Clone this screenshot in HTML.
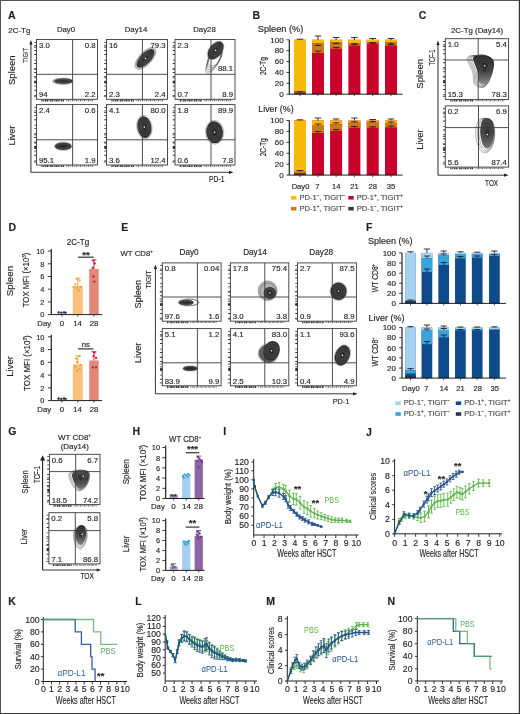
<!DOCTYPE html><html><head><meta charset="utf-8"><style>html,body{margin:0;padding:0;background:#fff;}svg{display:block;will-change:transform;}text{font-family:"Liberation Sans", sans-serif;}</style></head><body><svg width="520" height="714" viewBox="0 0 520 714"><rect x="0" y="0" width="520" height="714" fill="#fff"/><defs><linearGradient id="gv" x1="0" y1="0" x2="0" y2="1"><stop offset="0" stop-color="#222"/><stop offset="0.5" stop-color="#333"/><stop offset="1" stop-color="#999"/></linearGradient><linearGradient id="gv2" x1="0" y1="0" x2="0" y2="1"><stop offset="0" stop-color="#444"/><stop offset="0.45" stop-color="#2e2e2e"/><stop offset="1" stop-color="#777"/></linearGradient></defs><text x="7.9" y="18.9" font-size="10.5" text-anchor="start" fill="#231f20" font-weight="bold" stroke="#231f20" stroke-width="0.15">A</text><text x="8.3" y="32.6" font-size="7.8" text-anchor="start" fill="#231f20" textLength="22" lengthAdjust="spacingAndGlyphs" stroke="#231f20" stroke-width="0.15">2C-Tg</text><text x="66" y="32.4" font-size="7.8" text-anchor="middle" fill="#231f20" stroke="#231f20" stroke-width="0.15">Day0</text><text x="136" y="32.4" font-size="7.8" text-anchor="middle" fill="#231f20" stroke="#231f20" stroke-width="0.15">Day14</text><text x="204.5" y="32.4" font-size="7.8" text-anchor="middle" fill="#231f20" stroke="#231f20" stroke-width="0.15">Day28</text><text x="15" y="70.2" font-size="9.6" text-anchor="middle" fill="#231f20" textLength="29.5" lengthAdjust="spacingAndGlyphs" transform="rotate(-90 15 70.2)" stroke="#231f20" stroke-width="0.15">Spleen</text><text x="15.3" y="135.6" font-size="9.6" text-anchor="middle" fill="#231f20" textLength="19.6" lengthAdjust="spacingAndGlyphs" transform="rotate(-90 15.3 135.6)" stroke="#231f20" stroke-width="0.15">Liver</text><text x="27.9" y="55.3" font-size="7.6" text-anchor="middle" fill="#231f20" textLength="14.7" lengthAdjust="spacingAndGlyphs" transform="rotate(-90 27.9 55.3)" stroke="#231f20" stroke-width="0.15">TIGIT</text><line x1="30.9" y1="172.3" x2="30.9" y2="44" stroke="#5a5a5a" stroke-width="1.3"/><path d="M29.299999999999997,44.5 L30.9,40 L32.5,44.5 Z" fill="#231f20"/><line x1="30.7" y1="172.3" x2="229" y2="172.3" stroke="#231f20" stroke-width="0.9"/><path d="M229.0,170.70000000000002 L233.5,172.3 L229.0,173.9 Z" fill="#231f20"/><text x="216.7" y="181.7" font-size="8.4" text-anchor="middle" fill="#231f20" textLength="15.4" lengthAdjust="spacingAndGlyphs" stroke="#231f20" stroke-width="0.15">PD-1</text><rect x="36.5" y="39.5" width="61.0" height="59.8" fill="#fff" stroke="#3a3a3a" stroke-width="0.9"/><path d="M35.30,41.89 V97.51" stroke="#333" stroke-width="2.1" stroke-dasharray="0.8,2.6,0.9,3.9,0.8,3.2,1,4.6"/><line x1="33.9" y1="47.274" x2="36.5" y2="47.274" stroke="#333" stroke-width="0.8"/><line x1="33.9" y1="69.4" x2="36.5" y2="69.4" stroke="#333" stroke-width="0.8"/><line x1="33.9" y1="76.576" x2="36.5" y2="76.576" stroke="#333" stroke-width="0.8"/><line x1="33.9" y1="96.31" x2="36.5" y2="96.31" stroke="#333" stroke-width="0.8"/><rect x="34.3" y="80.762" width="2.2" height="2.6" fill="#2a2a2a"/><path d="M41.38,100.50 H63.95" stroke="#333" stroke-width="1.8" stroke-dasharray="1.2,0.6,0.7,0.8,1.6,0.5"/><path d="M65.78,100.40 H93.23" stroke="#444" stroke-width="1.5" stroke-dasharray="0.7,1.3,1.1,0.9"/><g transform="translate(62.8 81.2) rotate(0)"><ellipse cx="0" cy="0" rx="10.6" ry="3.5" fill="#9a9a9a"/></g><g transform="translate(63.6 81.2) rotate(0)"><ellipse cx="0" cy="0" rx="8.8" ry="2.6" fill="#2c2c2c"/><ellipse cx="0" cy="0" rx="7.04" ry="2.08" fill="none" stroke="#6a6a6a" stroke-width="0.45"/><ellipse cx="0" cy="0" rx="5.28" ry="1.56" fill="none" stroke="#6a6a6a" stroke-width="0.45"/></g><line x1="72.6" y1="39.5" x2="72.6" y2="99.3" stroke="#3a3a3a" stroke-width="0.9"/><line x1="36.5" y1="74.3" x2="97.5" y2="74.3" stroke="#3a3a3a" stroke-width="0.9"/><text x="38.9" y="47.8" font-size="7.8" text-anchor="start" fill="#231f20" stroke="#231f20" stroke-width="0.15">3.0</text><text x="95.7" y="47.8" font-size="7.8" text-anchor="end" fill="#231f20" stroke="#231f20" stroke-width="0.15">0.8</text><text x="38.9" y="97.2" font-size="7.8" text-anchor="start" fill="#231f20" stroke="#231f20" stroke-width="0.15">94</text><text x="95.7" y="97.2" font-size="7.8" text-anchor="end" fill="#231f20" stroke="#231f20" stroke-width="0.15">2.2</text><rect x="106.5" y="39.5" width="61.0" height="59.8" fill="#fff" stroke="#3a3a3a" stroke-width="0.9"/><path d="M105.30,41.89 V97.51" stroke="#333" stroke-width="2.1" stroke-dasharray="0.8,2.6,0.9,3.9,0.8,3.2,1,4.6"/><line x1="103.9" y1="47.274" x2="106.5" y2="47.274" stroke="#333" stroke-width="0.8"/><line x1="103.9" y1="69.4" x2="106.5" y2="69.4" stroke="#333" stroke-width="0.8"/><line x1="103.9" y1="76.576" x2="106.5" y2="76.576" stroke="#333" stroke-width="0.8"/><line x1="103.9" y1="96.31" x2="106.5" y2="96.31" stroke="#333" stroke-width="0.8"/><rect x="104.3" y="80.762" width="2.2" height="2.6" fill="#2a2a2a"/><path d="M111.38,100.50 H133.95" stroke="#333" stroke-width="1.8" stroke-dasharray="1.2,0.6,0.7,0.8,1.6,0.5"/><path d="M135.78,100.40 H163.23" stroke="#444" stroke-width="1.5" stroke-dasharray="0.7,1.3,1.1,0.9"/><g transform="translate(145.5 58.4) rotate(-47)"><ellipse cx="0" cy="0" rx="13.92" ry="6.37" fill="none" stroke="#4a4a4a" stroke-width="0.5" opacity="0.75"/><ellipse cx="0" cy="0" rx="12.86" ry="5.89" fill="none" stroke="#4a4a4a" stroke-width="0.5" opacity="0.75"/><ellipse cx="0" cy="0" rx="11.8" ry="5.4" fill="#2c2c2c"/><ellipse cx="0" cy="0" rx="9.44" ry="4.32" fill="none" stroke="#6a6a6a" stroke-width="0.45"/><ellipse cx="0" cy="0" rx="7.08" ry="3.24" fill="none" stroke="#6a6a6a" stroke-width="0.45"/><ellipse cx="0" cy="0" rx="4.72" ry="2.16" fill="none" stroke="#6a6a6a" stroke-width="0.45"/><circle cx="0" cy="0" r="0.75" fill="#fff"/></g><line x1="142.4" y1="39.5" x2="142.4" y2="99.3" stroke="#3a3a3a" stroke-width="0.9"/><line x1="106.5" y1="74.3" x2="167.5" y2="74.3" stroke="#3a3a3a" stroke-width="0.9"/><text x="108.9" y="47.8" font-size="7.8" text-anchor="start" fill="#231f20" stroke="#231f20" stroke-width="0.15">16</text><text x="165.7" y="47.8" font-size="7.8" text-anchor="end" fill="#231f20" stroke="#231f20" stroke-width="0.15">79.3</text><text x="108.9" y="97.2" font-size="7.8" text-anchor="start" fill="#231f20" stroke="#231f20" stroke-width="0.15">2.3</text><text x="165.7" y="97.2" font-size="7.8" text-anchor="end" fill="#231f20" stroke="#231f20" stroke-width="0.15">2.4</text><rect x="175" y="39.5" width="60" height="59.8" fill="#fff" stroke="#3a3a3a" stroke-width="0.9"/><path d="M173.80,41.89 V97.51" stroke="#333" stroke-width="2.1" stroke-dasharray="0.8,2.6,0.9,3.9,0.8,3.2,1,4.6"/><line x1="172.4" y1="47.274" x2="175" y2="47.274" stroke="#333" stroke-width="0.8"/><line x1="172.4" y1="69.4" x2="175" y2="69.4" stroke="#333" stroke-width="0.8"/><line x1="172.4" y1="76.576" x2="175" y2="76.576" stroke="#333" stroke-width="0.8"/><line x1="172.4" y1="96.31" x2="175" y2="96.31" stroke="#333" stroke-width="0.8"/><rect x="172.8" y="80.762" width="2.2" height="2.6" fill="#2a2a2a"/><path d="M179.80,100.50 H202.00" stroke="#333" stroke-width="1.8" stroke-dasharray="1.2,0.6,0.7,0.8,1.6,0.5"/><path d="M203.80,100.40 H230.80" stroke="#444" stroke-width="1.5" stroke-dasharray="0.7,1.3,1.1,0.9"/><ellipse cx="215.2" cy="56.5" rx="5.8" ry="10.6" transform="rotate(30 215.2 56.5)" fill="none" stroke="#444" stroke-width="0.5" opacity="0.8"/><ellipse cx="214.7" cy="57.9" rx="5.5" ry="11.15" transform="rotate(30 214.7 57.9)" fill="none" stroke="#444" stroke-width="0.5" opacity="0.8"/><ellipse cx="214.2" cy="59.3" rx="5.2" ry="11.7" transform="rotate(30 214.2 59.3)" fill="none" stroke="#444" stroke-width="0.5" opacity="0.8"/><ellipse cx="213.7" cy="60.7" rx="4.9" ry="12.25" transform="rotate(30 213.7 60.7)" fill="none" stroke="#444" stroke-width="0.5" opacity="0.8"/><ellipse cx="213.2" cy="62.1" rx="4.6" ry="12.8" transform="rotate(30 213.2 62.1)" fill="none" stroke="#444" stroke-width="0.5" opacity="0.8"/><g transform="translate(215.6 50.4) rotate(38)"><ellipse cx="0" cy="0" rx="6.48" ry="10.45" fill="none" stroke="#4a4a4a" stroke-width="0.5" opacity="0.75"/><ellipse cx="0" cy="0" rx="6.2" ry="10.0" fill="#2c2c2c"/><ellipse cx="0" cy="0" rx="4.96" ry="8.00" fill="none" stroke="#6a6a6a" stroke-width="0.45"/><ellipse cx="0" cy="0" rx="3.72" ry="6.00" fill="none" stroke="#6a6a6a" stroke-width="0.45"/><ellipse cx="0" cy="0" rx="2.48" ry="4.00" fill="none" stroke="#6a6a6a" stroke-width="0.45"/><circle cx="0" cy="0" r="0.75" fill="#fff"/></g><line x1="211" y1="39.5" x2="211" y2="99.3" stroke="#3a3a3a" stroke-width="0.9"/><line x1="175" y1="74.3" x2="235" y2="74.3" stroke="#3a3a3a" stroke-width="0.9"/><text x="177.4" y="47.8" font-size="7.8" text-anchor="start" fill="#231f20" stroke="#231f20" stroke-width="0.15">2.3</text><text x="233.2" y="71" font-size="7.8" text-anchor="end" fill="#231f20" stroke="#231f20" stroke-width="0.15">88.1</text><text x="177.4" y="97.2" font-size="7.8" text-anchor="start" fill="#231f20" stroke="#231f20" stroke-width="0.15">0.7</text><text x="233.2" y="97.2" font-size="7.8" text-anchor="end" fill="#231f20" stroke="#231f20" stroke-width="0.15">8.9</text><rect x="36.5" y="104.6" width="61.0" height="60.400000000000006" fill="#fff" stroke="#3a3a3a" stroke-width="0.9"/><path d="M35.30,107.02 V163.19" stroke="#333" stroke-width="2.1" stroke-dasharray="0.8,2.6,0.9,3.9,0.8,3.2,1,4.6"/><line x1="33.9" y1="112.452" x2="36.5" y2="112.452" stroke="#333" stroke-width="0.8"/><line x1="33.9" y1="134.8" x2="36.5" y2="134.8" stroke="#333" stroke-width="0.8"/><line x1="33.9" y1="142.048" x2="36.5" y2="142.048" stroke="#333" stroke-width="0.8"/><line x1="33.9" y1="161.98" x2="36.5" y2="161.98" stroke="#333" stroke-width="0.8"/><rect x="34.3" y="146.276" width="2.2" height="2.6" fill="#2a2a2a"/><path d="M41.38,166.20 H63.95" stroke="#333" stroke-width="1.8" stroke-dasharray="1.2,0.6,0.7,0.8,1.6,0.5"/><path d="M65.78,166.10 H93.23" stroke="#444" stroke-width="1.5" stroke-dasharray="0.7,1.3,1.1,0.9"/><g transform="translate(63.2 146.2) rotate(0)"><ellipse cx="0" cy="0" rx="8.94" ry="4.14" fill="none" stroke="#4a4a4a" stroke-width="0.5" opacity="0.75"/><ellipse cx="0" cy="0" rx="8.2" ry="3.8" fill="#2c2c2c"/><ellipse cx="0" cy="0" rx="6.56" ry="3.04" fill="none" stroke="#6a6a6a" stroke-width="0.45"/><ellipse cx="0" cy="0" rx="4.92" ry="2.28" fill="none" stroke="#6a6a6a" stroke-width="0.45"/></g><line x1="72.6" y1="104.6" x2="72.6" y2="165" stroke="#3a3a3a" stroke-width="0.9"/><line x1="36.5" y1="139.8" x2="97.5" y2="139.8" stroke="#3a3a3a" stroke-width="0.9"/><text x="38.9" y="112.89999999999999" font-size="7.8" text-anchor="start" fill="#231f20" stroke="#231f20" stroke-width="0.15">2.4</text><text x="95.7" y="112.89999999999999" font-size="7.8" text-anchor="end" fill="#231f20" stroke="#231f20" stroke-width="0.15">0.6</text><text x="38.9" y="162.9" font-size="7.8" text-anchor="start" fill="#231f20" stroke="#231f20" stroke-width="0.15">95.1</text><text x="95.7" y="162.9" font-size="7.8" text-anchor="end" fill="#231f20" stroke="#231f20" stroke-width="0.15">1.9</text><rect x="106.5" y="104.6" width="61.0" height="60.400000000000006" fill="#fff" stroke="#3a3a3a" stroke-width="0.9"/><path d="M105.30,107.02 V163.19" stroke="#333" stroke-width="2.1" stroke-dasharray="0.8,2.6,0.9,3.9,0.8,3.2,1,4.6"/><line x1="103.9" y1="112.452" x2="106.5" y2="112.452" stroke="#333" stroke-width="0.8"/><line x1="103.9" y1="134.8" x2="106.5" y2="134.8" stroke="#333" stroke-width="0.8"/><line x1="103.9" y1="142.048" x2="106.5" y2="142.048" stroke="#333" stroke-width="0.8"/><line x1="103.9" y1="161.98" x2="106.5" y2="161.98" stroke="#333" stroke-width="0.8"/><rect x="104.3" y="146.276" width="2.2" height="2.6" fill="#2a2a2a"/><path d="M111.38,166.20 H133.95" stroke="#333" stroke-width="1.8" stroke-dasharray="1.2,0.6,0.7,0.8,1.6,0.5"/><path d="M135.78,166.10 H163.23" stroke="#444" stroke-width="1.5" stroke-dasharray="0.7,1.3,1.1,0.9"/><g transform="translate(144.4 127.1) rotate(-8)"><ellipse cx="0" cy="0" rx="7.63" ry="11.99" fill="none" stroke="#4a4a4a" stroke-width="0.5" opacity="0.75"/><ellipse cx="0" cy="0" rx="7" ry="11" fill="#2c2c2c"/><ellipse cx="0" cy="0" rx="5.60" ry="8.80" fill="none" stroke="#6a6a6a" stroke-width="0.45"/><ellipse cx="0" cy="0" rx="4.20" ry="6.60" fill="none" stroke="#6a6a6a" stroke-width="0.45"/><ellipse cx="0" cy="0" rx="2.80" ry="4.40" fill="none" stroke="#6a6a6a" stroke-width="0.45"/><circle cx="0" cy="0" r="0.75" fill="#fff"/></g><line x1="142.4" y1="104.6" x2="142.4" y2="165" stroke="#3a3a3a" stroke-width="0.9"/><line x1="106.5" y1="139.8" x2="167.5" y2="139.8" stroke="#3a3a3a" stroke-width="0.9"/><text x="108.9" y="112.89999999999999" font-size="7.8" text-anchor="start" fill="#231f20" stroke="#231f20" stroke-width="0.15">4.1</text><text x="165.7" y="112.89999999999999" font-size="7.8" text-anchor="end" fill="#231f20" stroke="#231f20" stroke-width="0.15">80.0</text><text x="108.9" y="162.9" font-size="7.8" text-anchor="start" fill="#231f20" stroke="#231f20" stroke-width="0.15">3.6</text><text x="165.7" y="162.9" font-size="7.8" text-anchor="end" fill="#231f20" stroke="#231f20" stroke-width="0.15">12.4</text><rect x="175" y="104.6" width="60" height="60.400000000000006" fill="#fff" stroke="#3a3a3a" stroke-width="0.9"/><path d="M173.80,107.02 V163.19" stroke="#333" stroke-width="2.1" stroke-dasharray="0.8,2.6,0.9,3.9,0.8,3.2,1,4.6"/><line x1="172.4" y1="112.452" x2="175" y2="112.452" stroke="#333" stroke-width="0.8"/><line x1="172.4" y1="134.8" x2="175" y2="134.8" stroke="#333" stroke-width="0.8"/><line x1="172.4" y1="142.048" x2="175" y2="142.048" stroke="#333" stroke-width="0.8"/><line x1="172.4" y1="161.98" x2="175" y2="161.98" stroke="#333" stroke-width="0.8"/><rect x="172.8" y="146.276" width="2.2" height="2.6" fill="#2a2a2a"/><path d="M179.80,166.20 H202.00" stroke="#333" stroke-width="1.8" stroke-dasharray="1.2,0.6,0.7,0.8,1.6,0.5"/><path d="M203.80,166.10 H230.80" stroke="#444" stroke-width="1.5" stroke-dasharray="0.7,1.3,1.1,0.9"/><g transform="translate(214.6 132.2) rotate(-5)"><ellipse cx="0" cy="0" rx="9.16" ry="11.99" fill="none" stroke="#4a4a4a" stroke-width="0.5" opacity="0.75"/><ellipse cx="0" cy="0" rx="8.4" ry="11" fill="#2c2c2c"/><ellipse cx="0" cy="0" rx="6.72" ry="8.80" fill="none" stroke="#6a6a6a" stroke-width="0.45"/><ellipse cx="0" cy="0" rx="5.04" ry="6.60" fill="none" stroke="#6a6a6a" stroke-width="0.45"/><ellipse cx="0" cy="0" rx="3.36" ry="4.40" fill="none" stroke="#6a6a6a" stroke-width="0.45"/><circle cx="0" cy="0" r="0.75" fill="#fff"/></g><line x1="211" y1="104.6" x2="211" y2="165" stroke="#3a3a3a" stroke-width="0.9"/><line x1="175" y1="139.8" x2="235" y2="139.8" stroke="#3a3a3a" stroke-width="0.9"/><text x="177.4" y="112.89999999999999" font-size="7.8" text-anchor="start" fill="#231f20" stroke="#231f20" stroke-width="0.15">1.8</text><text x="233.2" y="112.89999999999999" font-size="7.8" text-anchor="end" fill="#231f20" stroke="#231f20" stroke-width="0.15">89.9</text><text x="177.4" y="162.9" font-size="7.8" text-anchor="start" fill="#231f20" stroke="#231f20" stroke-width="0.15">0.6</text><text x="233.2" y="162.9" font-size="7.8" text-anchor="end" fill="#231f20" stroke="#231f20" stroke-width="0.15">7.8</text><text x="252.4" y="18.6" font-size="10.5" text-anchor="start" fill="#231f20" font-weight="bold" stroke="#231f20" stroke-width="0.15">B</text><text x="257.8" y="32.3" font-size="9.3" text-anchor="start" fill="#231f20" textLength="45.5" lengthAdjust="spacingAndGlyphs" stroke="#231f20" stroke-width="0.15">Spleen (%)</text><text x="258.3" y="111.5" font-size="9.3" text-anchor="start" fill="#231f20" textLength="35.3" lengthAdjust="spacingAndGlyphs" stroke="#231f20" stroke-width="0.15">Liver (%)</text><line x1="289.3" y1="39.8" x2="289.3" y2="94.2" stroke="#231f20" stroke-width="1.2"/><line x1="286.5" y1="39.8" x2="289.3" y2="39.8" stroke="#231f20" stroke-width="0.9"/><text x="283.6" y="42.5" font-size="8" text-anchor="end" fill="#231f20" stroke="#231f20" stroke-width="0.15">100</text><line x1="286.5" y1="50.67999999999999" x2="289.3" y2="50.67999999999999" stroke="#231f20" stroke-width="0.9"/><text x="283.6" y="53.379999999999995" font-size="8" text-anchor="end" fill="#231f20" stroke="#231f20" stroke-width="0.15">80</text><line x1="286.5" y1="61.56" x2="289.3" y2="61.56" stroke="#231f20" stroke-width="0.9"/><text x="283.6" y="64.26" font-size="8" text-anchor="end" fill="#231f20" stroke="#231f20" stroke-width="0.15">60</text><line x1="286.5" y1="72.44" x2="289.3" y2="72.44" stroke="#231f20" stroke-width="0.9"/><text x="283.6" y="75.14" font-size="8" text-anchor="end" fill="#231f20" stroke="#231f20" stroke-width="0.15">40</text><line x1="286.5" y1="83.32" x2="289.3" y2="83.32" stroke="#231f20" stroke-width="0.9"/><text x="283.6" y="86.02" font-size="8" text-anchor="end" fill="#231f20" stroke="#231f20" stroke-width="0.15">20</text><line x1="286.5" y1="94.2" x2="289.3" y2="94.2" stroke="#231f20" stroke-width="0.9"/><text x="283.6" y="96.9" font-size="8" text-anchor="end" fill="#231f20" stroke="#231f20" stroke-width="0.15">0</text><rect x="294" y="39.8" width="12" height="54.400000000000006" fill="#c9032a"/><rect x="294" y="39.8" width="12" height="51.60000000000001" fill="#f7ba0a"/><rect x="294" y="91.4" width="12" height="1.4" fill="#c97a1d"/><rect x="294" y="92.8" width="12" height="1.4" fill="#3b3549"/><line x1="300" y1="94.2" x2="300" y2="96.2" stroke="#231f20" stroke-width="0.8"/><rect x="312" y="39.8" width="12" height="54.400000000000006" fill="#c9032a"/><rect x="312" y="39.8" width="12" height="3.700000000000003" fill="#f7ba0a"/><rect x="312" y="43.5" width="12" height="9.5" fill="#c97a1d"/><rect x="312" y="93.0" width="12" height="1.2" fill="#8a1024"/><line x1="318" y1="94.2" x2="318" y2="96.2" stroke="#231f20" stroke-width="0.8"/><rect x="330.1" y="39.8" width="12" height="54.400000000000006" fill="#c9032a"/><rect x="330.1" y="39.8" width="12" height="2.4000000000000057" fill="#f7ba0a"/><rect x="330.1" y="42.2" width="12" height="6.599999999999994" fill="#c97a1d"/><rect x="330.1" y="93.0" width="12" height="1.2" fill="#8a1024"/><line x1="336.1" y1="94.2" x2="336.1" y2="96.2" stroke="#231f20" stroke-width="0.8"/><rect x="348.4" y="39.8" width="12" height="54.400000000000006" fill="#c9032a"/><rect x="348.4" y="39.8" width="12" height="3.200000000000003" fill="#f7ba0a"/><rect x="348.4" y="43" width="12" height="2.6000000000000014" fill="#c97a1d"/><rect x="348.4" y="93.0" width="12" height="1.2" fill="#8a1024"/><line x1="354.4" y1="94.2" x2="354.4" y2="96.2" stroke="#231f20" stroke-width="0.8"/><rect x="366.7" y="39.8" width="12" height="54.400000000000006" fill="#c9032a"/><rect x="366.7" y="39.8" width="12" height="2.4000000000000057" fill="#f7ba0a"/><rect x="366.7" y="42.2" width="12" height="1.3999999999999986" fill="#c97a1d"/><rect x="366.7" y="93.0" width="12" height="1.2" fill="#8a1024"/><line x1="372.7" y1="94.2" x2="372.7" y2="96.2" stroke="#231f20" stroke-width="0.8"/><rect x="385" y="39.8" width="12" height="54.400000000000006" fill="#c9032a"/><rect x="385" y="39.8" width="12" height="2.700000000000003" fill="#f7ba0a"/><rect x="385" y="42.5" width="12" height="3.1000000000000014" fill="#c97a1d"/><rect x="385" y="93.0" width="12" height="1.2" fill="#8a1024"/><line x1="391" y1="94.2" x2="391" y2="96.2" stroke="#231f20" stroke-width="0.8"/><line x1="300" y1="39.8" x2="300" y2="39.2" stroke="#231f20" stroke-width="0.9"/><line x1="296.7" y1="39.2" x2="303.3" y2="39.2" stroke="#231f20" stroke-width="0.9"/><line x1="300" y1="92.5" x2="300" y2="91.8" stroke="#231f20" stroke-width="0.9"/><line x1="296.7" y1="91.8" x2="303.3" y2="91.8" stroke="#231f20" stroke-width="0.9"/><line x1="318" y1="40" x2="318" y2="36" stroke="#231f20" stroke-width="0.9"/><line x1="314.7" y1="36" x2="321.3" y2="36" stroke="#231f20" stroke-width="0.9"/><line x1="318" y1="43.5" x2="318" y2="45.5" stroke="#231f20" stroke-width="0.9"/><line x1="314.7" y1="45.5" x2="321.3" y2="45.5" stroke="#231f20" stroke-width="0.9"/><line x1="318" y1="53" x2="318" y2="51" stroke="#231f20" stroke-width="0.9"/><line x1="314.7" y1="51" x2="321.3" y2="51" stroke="#231f20" stroke-width="0.9"/><line x1="336.1" y1="40" x2="336.1" y2="37.5" stroke="#231f20" stroke-width="0.9"/><line x1="332.8" y1="37.5" x2="339.40000000000003" y2="37.5" stroke="#231f20" stroke-width="0.9"/><line x1="336.1" y1="42.2" x2="336.1" y2="43.5" stroke="#231f20" stroke-width="0.9"/><line x1="332.8" y1="43.5" x2="339.40000000000003" y2="43.5" stroke="#231f20" stroke-width="0.9"/><line x1="336.1" y1="48.8" x2="336.1" y2="47.5" stroke="#231f20" stroke-width="0.9"/><line x1="332.8" y1="47.5" x2="339.40000000000003" y2="47.5" stroke="#231f20" stroke-width="0.9"/><line x1="354.4" y1="40" x2="354.4" y2="37.5" stroke="#231f20" stroke-width="0.9"/><line x1="351.09999999999997" y1="37.5" x2="357.7" y2="37.5" stroke="#231f20" stroke-width="0.9"/><line x1="354.4" y1="43" x2="354.4" y2="44" stroke="#231f20" stroke-width="0.9"/><line x1="351.09999999999997" y1="44" x2="357.7" y2="44" stroke="#231f20" stroke-width="0.9"/><line x1="354.4" y1="45.6" x2="354.4" y2="44.2" stroke="#231f20" stroke-width="0.9"/><line x1="351.09999999999997" y1="44.2" x2="357.7" y2="44.2" stroke="#231f20" stroke-width="0.9"/><line x1="372.7" y1="40" x2="372.7" y2="38.5" stroke="#231f20" stroke-width="0.9"/><line x1="369.4" y1="38.5" x2="376.0" y2="38.5" stroke="#231f20" stroke-width="0.9"/><line x1="372.7" y1="42.2" x2="372.7" y2="43" stroke="#231f20" stroke-width="0.9"/><line x1="369.4" y1="43" x2="376.0" y2="43" stroke="#231f20" stroke-width="0.9"/><line x1="372.7" y1="43.6" x2="372.7" y2="42.6" stroke="#231f20" stroke-width="0.9"/><line x1="369.4" y1="42.6" x2="376.0" y2="42.6" stroke="#231f20" stroke-width="0.9"/><line x1="391" y1="40" x2="391" y2="38.5" stroke="#231f20" stroke-width="0.9"/><line x1="387.7" y1="38.5" x2="394.3" y2="38.5" stroke="#231f20" stroke-width="0.9"/><line x1="391" y1="42.5" x2="391" y2="44" stroke="#231f20" stroke-width="0.9"/><line x1="387.7" y1="44" x2="394.3" y2="44" stroke="#231f20" stroke-width="0.9"/><line x1="391" y1="45.6" x2="391" y2="44.3" stroke="#231f20" stroke-width="0.9"/><line x1="387.7" y1="44.3" x2="394.3" y2="44.3" stroke="#231f20" stroke-width="0.9"/><line x1="289.2" y1="94.2" x2="402.5" y2="94.2" stroke="#231f20" stroke-width="1"/><line x1="289.3" y1="120.5" x2="289.3" y2="175.1" stroke="#231f20" stroke-width="1.2"/><line x1="286.5" y1="120.5" x2="289.3" y2="120.5" stroke="#231f20" stroke-width="0.9"/><text x="283.6" y="123.2" font-size="8" text-anchor="end" fill="#231f20" stroke="#231f20" stroke-width="0.15">100</text><line x1="286.5" y1="131.42" x2="289.3" y2="131.42" stroke="#231f20" stroke-width="0.9"/><text x="283.6" y="134.11999999999998" font-size="8" text-anchor="end" fill="#231f20" stroke="#231f20" stroke-width="0.15">80</text><line x1="286.5" y1="142.34" x2="289.3" y2="142.34" stroke="#231f20" stroke-width="0.9"/><text x="283.6" y="145.04" font-size="8" text-anchor="end" fill="#231f20" stroke="#231f20" stroke-width="0.15">60</text><line x1="286.5" y1="153.26" x2="289.3" y2="153.26" stroke="#231f20" stroke-width="0.9"/><text x="283.6" y="155.95999999999998" font-size="8" text-anchor="end" fill="#231f20" stroke="#231f20" stroke-width="0.15">40</text><line x1="286.5" y1="164.18" x2="289.3" y2="164.18" stroke="#231f20" stroke-width="0.9"/><text x="283.6" y="166.88" font-size="8" text-anchor="end" fill="#231f20" stroke="#231f20" stroke-width="0.15">20</text><line x1="286.5" y1="175.1" x2="289.3" y2="175.1" stroke="#231f20" stroke-width="0.9"/><text x="283.6" y="177.79999999999998" font-size="8" text-anchor="end" fill="#231f20" stroke="#231f20" stroke-width="0.15">0</text><rect x="294" y="120.5" width="12" height="54.599999999999994" fill="#c9032a"/><rect x="294" y="120.5" width="12" height="51.19999999999999" fill="#f7ba0a"/><rect x="294" y="171.7" width="12" height="1.7" fill="#c97a1d"/><rect x="294" y="173.4" width="12" height="1.7" fill="#3b3549"/><line x1="300" y1="175.1" x2="300" y2="177.1" stroke="#231f20" stroke-width="0.8"/><rect x="312" y="120.5" width="12" height="54.599999999999994" fill="#c9032a"/><rect x="312" y="120.5" width="12" height="5.200000000000003" fill="#f7ba0a"/><rect x="312" y="125.7" width="12" height="7.299999999999997" fill="#c97a1d"/><rect x="312" y="173.9" width="12" height="1.2" fill="#8a1024"/><line x1="318" y1="175.1" x2="318" y2="177.1" stroke="#231f20" stroke-width="0.8"/><rect x="330.1" y="120.5" width="12" height="54.599999999999994" fill="#c9032a"/><rect x="330.1" y="120.5" width="12" height="3.799999999999997" fill="#f7ba0a"/><rect x="330.1" y="124.3" width="12" height="6.500000000000014" fill="#c97a1d"/><rect x="330.1" y="173.9" width="12" height="1.2" fill="#8a1024"/><line x1="336.1" y1="175.1" x2="336.1" y2="177.1" stroke="#231f20" stroke-width="0.8"/><rect x="348.4" y="120.5" width="12" height="54.599999999999994" fill="#c9032a"/><rect x="348.4" y="120.5" width="12" height="2.200000000000003" fill="#f7ba0a"/><rect x="348.4" y="122.7" width="12" height="5.099999999999994" fill="#c97a1d"/><rect x="348.4" y="173.9" width="12" height="1.2" fill="#8a1024"/><line x1="354.4" y1="175.1" x2="354.4" y2="177.1" stroke="#231f20" stroke-width="0.8"/><rect x="366.7" y="120.5" width="12" height="54.599999999999994" fill="#c9032a"/><rect x="366.7" y="120.5" width="12" height="2.0" fill="#f7ba0a"/><rect x="366.7" y="122.5" width="12" height="5.299999999999997" fill="#c97a1d"/><rect x="366.7" y="173.9" width="12" height="1.2" fill="#8a1024"/><line x1="372.7" y1="175.1" x2="372.7" y2="177.1" stroke="#231f20" stroke-width="0.8"/><rect x="385" y="120.5" width="12" height="54.599999999999994" fill="#c9032a"/><rect x="385" y="120.5" width="12" height="3.0" fill="#f7ba0a"/><rect x="385" y="123.5" width="12" height="4.0" fill="#c97a1d"/><rect x="385" y="173.9" width="12" height="1.2" fill="#8a1024"/><line x1="391" y1="175.1" x2="391" y2="177.1" stroke="#231f20" stroke-width="0.8"/><line x1="300" y1="120.5" x2="300" y2="119.8" stroke="#231f20" stroke-width="0.9"/><line x1="296.7" y1="119.8" x2="303.3" y2="119.8" stroke="#231f20" stroke-width="0.9"/><line x1="300" y1="171.5" x2="300" y2="170.5" stroke="#231f20" stroke-width="0.9"/><line x1="296.7" y1="170.5" x2="303.3" y2="170.5" stroke="#231f20" stroke-width="0.9"/><line x1="318" y1="120.5" x2="318" y2="118" stroke="#231f20" stroke-width="0.9"/><line x1="314.7" y1="118" x2="321.3" y2="118" stroke="#231f20" stroke-width="0.9"/><line x1="318" y1="125.7" x2="318" y2="124" stroke="#231f20" stroke-width="0.9"/><line x1="314.7" y1="124" x2="321.3" y2="124" stroke="#231f20" stroke-width="0.9"/><line x1="318" y1="133" x2="318" y2="131.5" stroke="#231f20" stroke-width="0.9"/><line x1="314.7" y1="131.5" x2="321.3" y2="131.5" stroke="#231f20" stroke-width="0.9"/><line x1="336.1" y1="120.5" x2="336.1" y2="119" stroke="#231f20" stroke-width="0.9"/><line x1="332.8" y1="119" x2="339.40000000000003" y2="119" stroke="#231f20" stroke-width="0.9"/><line x1="336.1" y1="124.3" x2="336.1" y2="122.8" stroke="#231f20" stroke-width="0.9"/><line x1="332.8" y1="122.8" x2="339.40000000000003" y2="122.8" stroke="#231f20" stroke-width="0.9"/><line x1="336.1" y1="130.8" x2="336.1" y2="129.5" stroke="#231f20" stroke-width="0.9"/><line x1="332.8" y1="129.5" x2="339.40000000000003" y2="129.5" stroke="#231f20" stroke-width="0.9"/><line x1="354.4" y1="120.5" x2="354.4" y2="118" stroke="#231f20" stroke-width="0.9"/><line x1="351.09999999999997" y1="118" x2="357.7" y2="118" stroke="#231f20" stroke-width="0.9"/><line x1="354.4" y1="122.7" x2="354.4" y2="121.8" stroke="#231f20" stroke-width="0.9"/><line x1="351.09999999999997" y1="121.8" x2="357.7" y2="121.8" stroke="#231f20" stroke-width="0.9"/><line x1="354.4" y1="127.8" x2="354.4" y2="126.5" stroke="#231f20" stroke-width="0.9"/><line x1="351.09999999999997" y1="126.5" x2="357.7" y2="126.5" stroke="#231f20" stroke-width="0.9"/><line x1="372.7" y1="120.5" x2="372.7" y2="119.5" stroke="#231f20" stroke-width="0.9"/><line x1="369.4" y1="119.5" x2="376.0" y2="119.5" stroke="#231f20" stroke-width="0.9"/><line x1="372.7" y1="122.5" x2="372.7" y2="121.5" stroke="#231f20" stroke-width="0.9"/><line x1="369.4" y1="121.5" x2="376.0" y2="121.5" stroke="#231f20" stroke-width="0.9"/><line x1="372.7" y1="127.8" x2="372.7" y2="126.8" stroke="#231f20" stroke-width="0.9"/><line x1="369.4" y1="126.8" x2="376.0" y2="126.8" stroke="#231f20" stroke-width="0.9"/><line x1="391" y1="120.5" x2="391" y2="119" stroke="#231f20" stroke-width="0.9"/><line x1="387.7" y1="119" x2="394.3" y2="119" stroke="#231f20" stroke-width="0.9"/><line x1="391" y1="123.5" x2="391" y2="122" stroke="#231f20" stroke-width="0.9"/><line x1="387.7" y1="122" x2="394.3" y2="122" stroke="#231f20" stroke-width="0.9"/><line x1="391" y1="127.5" x2="391" y2="126" stroke="#231f20" stroke-width="0.9"/><line x1="387.7" y1="126" x2="394.3" y2="126" stroke="#231f20" stroke-width="0.9"/><line x1="289.2" y1="175.1" x2="402.5" y2="175.1" stroke="#231f20" stroke-width="1"/><text x="265.7" y="66.1" font-size="9" text-anchor="middle" fill="#231f20" textLength="18" lengthAdjust="spacingAndGlyphs" transform="rotate(-90 265.7 66.1)" stroke="#231f20" stroke-width="0.15">2C-Tg</text><text x="265.7" y="147.3" font-size="9" text-anchor="middle" fill="#231f20" textLength="18" lengthAdjust="spacingAndGlyphs" transform="rotate(-90 265.7 147.3)" stroke="#231f20" stroke-width="0.15">2C-Tg</text><text x="300.5" y="188.8" font-size="7.6" text-anchor="middle" fill="#231f20" stroke="#231f20" stroke-width="0.15">Day0</text><text x="317.3" y="188.8" font-size="7.6" text-anchor="middle" fill="#231f20" stroke="#231f20" stroke-width="0.15">7</text><text x="336.3" y="188.8" font-size="7.6" text-anchor="middle" fill="#231f20" stroke="#231f20" stroke-width="0.15">14</text><text x="354.5" y="188.8" font-size="7.6" text-anchor="middle" fill="#231f20" stroke="#231f20" stroke-width="0.15">21</text><text x="372.8" y="188.8" font-size="7.6" text-anchor="middle" fill="#231f20" stroke="#231f20" stroke-width="0.15">28</text><text x="391" y="188.8" font-size="7.6" text-anchor="middle" fill="#231f20" stroke="#231f20" stroke-width="0.15">35</text><rect x="291" y="196.0" width="5.4" height="3.6" fill="#f7ba0a"/><text x="299.4" y="199.6" font-size="7.6" fill="#4a4a4a" stroke="#4a4a4a" stroke-width="0.15">PD-1<tspan font-size="4.5" dy="-2.8">−</tspan><tspan dy="2.8">, TIGIT</tspan><tspan font-size="4.5" dy="-2.8">−</tspan></text><rect x="348.3" y="196.0" width="5.4" height="3.6" fill="#c9032a"/><text x="356.7" y="199.6" font-size="7.6" fill="#4a4a4a" stroke="#4a4a4a" stroke-width="0.15">PD-1<tspan font-size="4.5" dy="-2.8">+</tspan><tspan dy="2.8">, TIGIT</tspan><tspan font-size="4.5" dy="-2.8">+</tspan></text><rect x="291" y="206.9" width="5.4" height="3.6" fill="#c97a1d"/><text x="299.4" y="210.5" font-size="7.6" fill="#4a4a4a" stroke="#4a4a4a" stroke-width="0.15">PD-1<tspan font-size="4.5" dy="-2.8">+</tspan><tspan dy="2.8">, TIGIT</tspan><tspan font-size="4.5" dy="-2.8">−</tspan></text><rect x="348.3" y="206.9" width="5.4" height="3.6" fill="#3b3549"/><text x="356.7" y="210.5" font-size="7.6" fill="#4a4a4a" stroke="#4a4a4a" stroke-width="0.15">PD-1<tspan font-size="4.5" dy="-2.8">−</tspan><tspan dy="2.8">, TIGIT</tspan><tspan font-size="4.5" dy="-2.8">+</tspan></text><text x="418.8" y="18.9" font-size="10.5" text-anchor="start" fill="#231f20" font-weight="bold" stroke="#231f20" stroke-width="0.15">C</text><text x="477" y="32.6" font-size="8" text-anchor="middle" fill="#231f20" textLength="52" lengthAdjust="spacingAndGlyphs" stroke="#231f20" stroke-width="0.15">2C-Tg (Day14)</text><line x1="438" y1="175.2" x2="438" y2="44.5" stroke="#5a5a5a" stroke-width="1.3"/><path d="M436.4,45.0 L438,40.5 L439.6,45.0 Z" fill="#231f20"/><line x1="438" y1="175.2" x2="505" y2="175.2" stroke="#231f20" stroke-width="0.9"/><path d="M504.0,173.6 L508.5,175.2 L504.0,176.79999999999998 Z" fill="#231f20"/><text x="491.6" y="185.8" font-size="9.5" text-anchor="middle" fill="#231f20" textLength="13" lengthAdjust="spacingAndGlyphs" stroke="#231f20" stroke-width="0.15">TOX</text><text x="434.6" y="57.5" font-size="9" text-anchor="middle" fill="#231f20" textLength="16" lengthAdjust="spacingAndGlyphs" transform="rotate(-90 434.6 57.5)" stroke="#231f20" stroke-width="0.15">TCF-1</text><text x="423.3" y="73.8" font-size="9.6" text-anchor="middle" fill="#231f20" textLength="29.9" lengthAdjust="spacingAndGlyphs" transform="rotate(-90 423.3 73.8)" stroke="#231f20" stroke-width="0.15">Spleen</text><text x="422.8" y="139.5" font-size="9.6" text-anchor="middle" fill="#231f20" textLength="20.5" lengthAdjust="spacingAndGlyphs" transform="rotate(-90 422.8 139.5)" stroke="#231f20" stroke-width="0.15">Liver</text><rect x="445.3" y="38.7" width="63.30000000000001" height="60.7" fill="#fff" stroke="#3a3a3a" stroke-width="0.9"/><path d="M444.10,41.13 V97.58" stroke="#333" stroke-width="2.1" stroke-dasharray="0.8,2.6,0.9,3.9,0.8,3.2,1,4.6"/><line x1="442.7" y1="46.591" x2="445.3" y2="46.591" stroke="#333" stroke-width="0.8"/><line x1="442.7" y1="69.05000000000001" x2="445.3" y2="69.05000000000001" stroke="#333" stroke-width="0.8"/><line x1="442.7" y1="76.334" x2="445.3" y2="76.334" stroke="#333" stroke-width="0.8"/><line x1="442.7" y1="96.36500000000001" x2="445.3" y2="96.36500000000001" stroke="#333" stroke-width="0.8"/><rect x="443.1" y="80.583" width="2.2" height="2.6" fill="#2a2a2a"/><path d="M450.36,100.60 H473.79" stroke="#333" stroke-width="1.8" stroke-dasharray="1.2,0.6,0.7,0.8,1.6,0.5"/><path d="M475.68,100.50 H504.17" stroke="#444" stroke-width="1.5" stroke-dasharray="0.7,1.3,1.1,0.9"/><path d="M471.71,57.94 C472.18,55.30 476.55,55.85 479.02,55.49 C481.50,55.13 484.17,54.81 486.55,55.80 C488.93,56.78 492.57,58.11 493.32,61.41 C494.07,64.70 492.43,71.57 491.06,75.58 C489.70,79.60 487.37,84.32 485.15,85.48 C482.93,86.63 479.22,84.88 477.74,82.52 C476.25,80.16 477.23,75.40 476.23,71.30 C475.23,67.20 471.25,60.57 471.71,57.94 Z" fill="none" stroke="#333" stroke-width="0.5" opacity="0.75"/><path d="M470.23,57.98 C470.73,55.29 475.41,55.84 478.05,55.48 C480.69,55.12 483.55,54.79 486.10,55.79 C488.65,56.80 492.54,58.15 493.35,61.51 C494.15,64.87 492.39,71.88 490.93,75.97 C489.47,80.06 486.98,84.88 484.60,86.06 C482.23,87.23 478.26,85.45 476.67,83.04 C475.08,80.63 476.13,75.78 475.06,71.60 C473.99,67.42 469.73,60.66 470.23,57.98 Z" fill="none" stroke="#333" stroke-width="0.5" opacity="0.75"/><path d="M468.75,58.01 C469.28,55.28 474.26,55.84 477.07,55.47 C479.89,55.10 482.93,54.76 485.65,55.79 C488.37,56.81 492.51,58.19 493.37,61.62 C494.23,65.05 492.35,72.18 490.79,76.35 C489.24,80.52 486.59,85.43 484.06,86.63 C481.53,87.84 477.30,86.02 475.61,83.56 C473.91,81.10 475.03,76.16 473.89,71.90 C472.75,67.64 468.21,60.75 468.75,58.01 Z" fill="none" stroke="#333" stroke-width="0.5" opacity="0.75"/><path d="M467.26,58.05 C467.82,55.26 473.11,55.84 476.10,55.46 C479.09,55.08 482.32,54.74 485.20,55.78 C488.08,56.83 492.48,58.23 493.39,61.72 C494.30,65.22 492.31,72.49 490.66,76.74 C489.01,80.98 486.20,85.99 483.51,87.21 C480.82,88.44 476.34,86.58 474.54,84.08 C472.74,81.58 473.93,76.54 472.72,72.20 C471.51,67.86 466.70,60.84 467.26,58.05 Z" fill="none" stroke="#333" stroke-width="0.5" opacity="0.75"/><path d="M473.20,57.90 C473.63,55.32 477.70,55.85 480.00,55.50 C482.30,55.15 484.78,54.83 487.00,55.80 C489.22,56.77 492.60,58.07 493.30,61.30 C494.00,64.53 492.47,71.27 491.20,75.20 C489.93,79.13 487.77,83.77 485.70,84.90 C483.63,86.03 480.18,84.32 478.80,82.00 C477.42,79.68 478.33,75.02 477.40,71.00 C476.47,66.98 472.77,60.48 473.20,57.90 Z" fill="url(#gv)"/><path d="M475.56,59.52 C475.91,57.45 479.16,57.88 481.00,57.60 C482.84,57.32 484.83,57.07 486.60,57.84 C488.37,58.61 491.08,59.65 491.64,62.24 C492.20,64.83 490.97,70.21 489.96,73.36 C488.95,76.51 487.21,80.21 485.56,81.12 C483.91,82.03 481.15,80.65 480.04,78.80 C478.93,76.95 479.67,73.21 478.92,70.00 C478.17,66.79 475.21,61.59 475.56,59.52 Z" fill="none" stroke="#6a6a6a" stroke-width="0.5"/><path d="M477.92,61.14 C478.18,59.59 480.62,59.91 482.00,59.70 C483.38,59.49 484.87,59.30 486.20,59.88 C487.53,60.46 489.56,61.24 489.98,63.18 C490.40,65.12 489.48,69.16 488.72,71.52 C487.96,73.88 486.66,76.66 485.42,77.34 C484.18,78.02 482.11,76.99 481.28,75.60 C480.45,74.21 481.00,71.41 480.44,69.00 C479.88,66.59 477.66,62.69 477.92,61.14 Z" fill="none" stroke="#6a6a6a" stroke-width="0.5"/><path d="M480.28,62.76 C480.45,61.73 482.08,61.94 483.00,61.80 C483.92,61.66 484.91,61.53 485.80,61.92 C486.69,62.31 488.04,62.83 488.32,64.12 C488.60,65.41 487.99,68.11 487.48,69.68 C486.97,71.25 486.11,73.11 485.28,73.56 C484.45,74.01 483.07,73.33 482.52,72.40 C481.97,71.47 482.33,69.61 481.96,68.00 C481.59,66.39 480.11,63.79 480.28,62.76 Z" fill="none" stroke="#6a6a6a" stroke-width="0.5"/><circle cx="484.6" cy="65.7" r="0.75" fill="#fff"/><line x1="478.2" y1="38.7" x2="478.2" y2="99.4" stroke="#3a3a3a" stroke-width="0.9"/><line x1="445.3" y1="60" x2="508.6" y2="60" stroke="#3a3a3a" stroke-width="0.9"/><text x="447.7" y="47.0" font-size="7.8" text-anchor="start" fill="#231f20" stroke="#231f20" stroke-width="0.15">1.0</text><text x="506.8" y="47.0" font-size="7.8" text-anchor="end" fill="#231f20" stroke="#231f20" stroke-width="0.15">5.4</text><text x="447.7" y="97.30000000000001" font-size="7.8" text-anchor="start" fill="#231f20" stroke="#231f20" stroke-width="0.15">15.3</text><text x="506.8" y="97.30000000000001" font-size="7.8" text-anchor="end" fill="#231f20" stroke="#231f20" stroke-width="0.15">78.3</text><rect x="445.3" y="105.9" width="63.30000000000001" height="61.19999999999999" fill="#fff" stroke="#3a3a3a" stroke-width="0.9"/><path d="M444.10,108.35 V165.26" stroke="#333" stroke-width="2.1" stroke-dasharray="0.8,2.6,0.9,3.9,0.8,3.2,1,4.6"/><line x1="442.7" y1="113.85600000000001" x2="445.3" y2="113.85600000000001" stroke="#333" stroke-width="0.8"/><line x1="442.7" y1="136.5" x2="445.3" y2="136.5" stroke="#333" stroke-width="0.8"/><line x1="442.7" y1="143.844" x2="445.3" y2="143.844" stroke="#333" stroke-width="0.8"/><line x1="442.7" y1="164.04" x2="445.3" y2="164.04" stroke="#333" stroke-width="0.8"/><rect x="443.1" y="148.128" width="2.2" height="2.6" fill="#2a2a2a"/><path d="M450.36,168.30 H473.79" stroke="#333" stroke-width="1.8" stroke-dasharray="1.2,0.6,0.7,0.8,1.6,0.5"/><path d="M475.68,168.20 H504.17" stroke="#444" stroke-width="1.5" stroke-dasharray="0.7,1.3,1.1,0.9"/><path d="M480.80,121.05 C482.05,118.51 484.53,118.42 486.40,118.42 C488.27,118.42 490.69,118.86 492.00,121.05 C493.31,123.24 494.15,127.88 494.24,131.55 C494.33,135.23 493.68,140.04 492.56,143.10 C491.44,146.16 489.29,149.40 487.52,149.93 C485.75,150.45 483.36,148.96 481.92,146.25 C480.48,143.54 479.08,137.85 478.90,133.65 C478.71,129.45 479.55,123.59 480.80,121.05 Z" fill="none" stroke="#333" stroke-width="0.5" opacity="0.7"/><path d="M479.50,121.10 C480.90,118.44 483.67,118.35 485.75,118.35 C487.83,118.35 490.54,118.81 492.00,121.10 C493.46,123.39 494.40,128.25 494.50,132.10 C494.60,135.95 493.88,140.99 492.62,144.20 C491.38,147.41 488.98,150.80 487.00,151.35 C485.02,151.90 482.35,150.34 480.75,147.50 C479.15,144.66 477.58,138.70 477.38,134.30 C477.17,129.90 478.10,123.76 479.50,121.10 Z" fill="none" stroke="#333" stroke-width="0.5" opacity="0.7"/><path d="M478.00,121.15 C479.56,118.37 482.67,118.28 485.00,118.28 C487.33,118.28 490.37,118.75 492.00,121.15 C493.63,123.55 494.68,128.62 494.80,132.65 C494.92,136.68 494.10,141.95 492.70,145.30 C491.30,148.65 488.62,152.20 486.40,152.78 C484.18,153.35 481.20,151.72 479.40,148.75 C477.60,145.78 475.85,139.55 475.62,134.95 C475.39,130.35 476.44,123.93 478.00,121.15 Z" fill="none" stroke="#333" stroke-width="0.5" opacity="0.7"/><path d="M482.00,121.00 C483.12,118.58 485.33,118.50 487.00,118.50 C488.67,118.50 490.83,118.92 492.00,121.00 C493.17,123.08 493.92,127.50 494.00,131.00 C494.08,134.50 493.50,139.08 492.50,142.00 C491.50,144.92 489.58,148.00 488.00,148.50 C486.42,149.00 484.28,147.58 483.00,145.00 C481.72,142.42 480.47,137.00 480.30,133.00 C480.13,129.00 480.88,123.42 482.00,121.00 Z" fill="url(#gv2)"/><path d="M483.10,123.60 C483.99,121.67 485.77,121.60 487.10,121.60 C488.43,121.60 490.17,121.93 491.10,123.60 C492.03,125.27 492.63,128.80 492.70,131.60 C492.77,134.40 492.30,138.07 491.50,140.40 C490.70,142.73 489.17,145.20 487.90,145.60 C486.63,146.00 484.93,144.87 483.90,142.80 C482.87,140.73 481.87,136.40 481.74,133.20 C481.61,130.00 482.21,125.53 483.10,123.60 Z" fill="none" stroke="#6a6a6a" stroke-width="0.5"/><path d="M484.20,126.20 C484.87,124.75 486.20,124.70 487.20,124.70 C488.20,124.70 489.50,124.95 490.20,126.20 C490.90,127.45 491.35,130.10 491.40,132.20 C491.45,134.30 491.10,137.05 490.50,138.80 C489.90,140.55 488.75,142.40 487.80,142.70 C486.85,143.00 485.57,142.15 484.80,140.60 C484.03,139.05 483.28,135.80 483.18,133.40 C483.08,131.00 483.53,127.65 484.20,126.20 Z" fill="none" stroke="#6a6a6a" stroke-width="0.5"/><path d="M485.30,128.80 C485.75,127.83 486.63,127.80 487.30,127.80 C487.97,127.80 488.83,127.97 489.30,128.80 C489.77,129.63 490.07,131.40 490.10,132.80 C490.13,134.20 489.90,136.03 489.50,137.20 C489.10,138.37 488.33,139.60 487.70,139.80 C487.07,140.00 486.21,139.43 485.70,138.40 C485.19,137.37 484.69,135.20 484.62,133.60 C484.55,132.00 484.85,129.77 485.30,128.80 Z" fill="none" stroke="#6a6a6a" stroke-width="0.5"/><circle cx="487.3" cy="134.5" r="0.75" fill="#fff"/><line x1="478.5" y1="105.9" x2="478.5" y2="167.1" stroke="#3a3a3a" stroke-width="0.9"/><line x1="445.3" y1="127.6" x2="508.6" y2="127.6" stroke="#3a3a3a" stroke-width="0.9"/><text x="447.7" y="114.2" font-size="7.8" text-anchor="start" fill="#231f20" stroke="#231f20" stroke-width="0.15">0.2</text><text x="506.8" y="114.2" font-size="7.8" text-anchor="end" fill="#231f20" stroke="#231f20" stroke-width="0.15">6.9</text><text x="447.7" y="165.0" font-size="7.8" text-anchor="start" fill="#231f20" stroke="#231f20" stroke-width="0.15">5.6</text><text x="506.8" y="165.0" font-size="7.8" text-anchor="end" fill="#231f20" stroke="#231f20" stroke-width="0.15">87.4</text><text x="8.4" y="231.4" font-size="10.5" text-anchor="start" fill="#231f20" font-weight="bold" stroke="#231f20" stroke-width="0.15">D</text><text x="78" y="245" font-size="8.2" text-anchor="middle" fill="#231f20" textLength="22.4" lengthAdjust="spacingAndGlyphs" stroke="#231f20" stroke-width="0.15">2C-Tg</text><rect x="57.2" y="312.2" width="9.5" height="2.400000000000034" fill="#b9b5d2"/><circle cx="58.6" cy="312.3" r="1.15" fill="#2b2d45"/><circle cx="61.3" cy="312.6" r="1.15" fill="#2b2d45"/><circle cx="64" cy="312.3" r="1.15" fill="#2b2d45"/><circle cx="65.6" cy="312.6" r="1.15" fill="#2b2d45"/><rect x="72.8" y="286" width="10.0" height="28.600000000000023" fill="#f8c17b"/><line x1="77.8" y1="286" x2="77.8" y2="278" stroke="#eda231" stroke-width="0.9"/><line x1="75.3" y1="278" x2="80.3" y2="278" stroke="#eda231" stroke-width="0.9"/><circle cx="77.1" cy="279.1" r="1.15" fill="#eda231"/><circle cx="79.7" cy="280.3" r="1.15" fill="#eda231"/><circle cx="75.4" cy="284.3" r="1.15" fill="#eda231"/><circle cx="73.6" cy="286.9" r="1.15" fill="#eda231"/><circle cx="77.1" cy="287.8" r="1.15" fill="#eda231"/><circle cx="80.6" cy="286.9" r="1.15" fill="#eda231"/><circle cx="78.8" cy="290.4" r="1.15" fill="#eda231"/><rect x="89.2" y="269" width="9.5" height="45.60000000000002" fill="#e2887a"/><line x1="93.95" y1="269" x2="93.95" y2="260" stroke="#cc1136" stroke-width="0.9"/><line x1="91.45" y1="260" x2="96.45" y2="260" stroke="#cc1136" stroke-width="0.9"/><circle cx="93.5" cy="260.6" r="1.15" fill="#cc1136"/><circle cx="94.7" cy="263.5" r="1.15" fill="#cc1136"/><circle cx="92.7" cy="267.9" r="1.15" fill="#cc1136"/><circle cx="93.5" cy="276.5" r="1.15" fill="#cc1136"/><circle cx="94.4" cy="281.7" r="1.15" fill="#cc1136"/><line x1="51.3" y1="251.1" x2="51.3" y2="314.6" stroke="#231f20" stroke-width="1.2"/><line x1="47.9" y1="251.1" x2="51.3" y2="251.1" stroke="#231f20" stroke-width="0.9"/><text x="44.4" y="253.9" font-size="7.4" text-anchor="end" fill="#231f20" stroke="#231f20" stroke-width="0.15">10</text><line x1="47.9" y1="263.8" x2="51.3" y2="263.8" stroke="#231f20" stroke-width="0.9"/><text x="44.4" y="266.6" font-size="7.4" text-anchor="end" fill="#231f20" stroke="#231f20" stroke-width="0.15">8</text><line x1="47.9" y1="276.5" x2="51.3" y2="276.5" stroke="#231f20" stroke-width="0.9"/><text x="44.4" y="279.3" font-size="7.4" text-anchor="end" fill="#231f20" stroke="#231f20" stroke-width="0.15">6</text><line x1="47.9" y1="289.2" x2="51.3" y2="289.2" stroke="#231f20" stroke-width="0.9"/><text x="44.4" y="292.0" font-size="7.4" text-anchor="end" fill="#231f20" stroke="#231f20" stroke-width="0.15">4</text><line x1="47.9" y1="301.90000000000003" x2="51.3" y2="301.90000000000003" stroke="#231f20" stroke-width="0.9"/><text x="44.4" y="304.70000000000005" font-size="7.4" text-anchor="end" fill="#231f20" stroke="#231f20" stroke-width="0.15">2</text><line x1="47.9" y1="314.6" x2="51.3" y2="314.6" stroke="#231f20" stroke-width="0.9"/><text x="44.4" y="317.40000000000003" font-size="7.4" text-anchor="end" fill="#231f20" stroke="#231f20" stroke-width="0.15">0</text><line x1="51.3" y1="249.1" x2="51.3" y2="251.1" stroke="#231f20" stroke-width="1.2"/><line x1="51.3" y1="314.6" x2="102.2" y2="314.6" stroke="#231f20" stroke-width="1"/><line x1="61.95" y1="314.6" x2="61.95" y2="316.6" stroke="#231f20" stroke-width="0.8"/><line x1="77.8" y1="314.6" x2="77.8" y2="316.6" stroke="#231f20" stroke-width="0.8"/><line x1="93.95" y1="314.6" x2="93.95" y2="316.6" stroke="#231f20" stroke-width="0.8"/><line x1="78" y1="257.2" x2="93.8" y2="257.2" stroke="#333" stroke-width="1.2"/><text x="85.9" y="258.2" font-size="9.5" text-anchor="middle" fill="#231f20" font-weight="bold" stroke="#231f20" stroke-width="0.15">**</text><rect x="57.2" y="398.4" width="9.5" height="2.2000000000000455" fill="#b9b5d2"/><circle cx="58.6" cy="398.5" r="1.15" fill="#2b2d45"/><circle cx="61.3" cy="398.8" r="1.15" fill="#2b2d45"/><circle cx="64" cy="398.5" r="1.15" fill="#2b2d45"/><circle cx="65.6" cy="398.8" r="1.15" fill="#2b2d45"/><rect x="72.8" y="364.4" width="10.0" height="36.200000000000045" fill="#f8c17b"/><line x1="77.8" y1="364.4" x2="77.8" y2="355.8" stroke="#eda231" stroke-width="0.9"/><line x1="75.3" y1="355.8" x2="80.3" y2="355.8" stroke="#eda231" stroke-width="0.9"/><circle cx="79.7" cy="356.1" r="1.15" fill="#eda231"/><circle cx="76.2" cy="358.7" r="1.15" fill="#eda231"/><circle cx="77.1" cy="362.2" r="1.15" fill="#eda231"/><circle cx="80.6" cy="364.8" r="1.15" fill="#eda231"/><circle cx="77.1" cy="370.8" r="1.15" fill="#eda231"/><circle cx="79.7" cy="369.1" r="1.15" fill="#eda231"/><circle cx="75.4" cy="366.5" r="1.15" fill="#eda231"/><rect x="89.2" y="360.5" width="9.5" height="40.10000000000002" fill="#e2887a"/><line x1="93.95" y1="360.5" x2="93.95" y2="351.8" stroke="#cc1136" stroke-width="0.9"/><line x1="91.45" y1="351.8" x2="96.45" y2="351.8" stroke="#cc1136" stroke-width="0.9"/><circle cx="94.4" cy="352.7" r="1.15" fill="#cc1136"/><circle cx="93.5" cy="356.1" r="1.15" fill="#cc1136"/><circle cx="96.1" cy="357.9" r="1.15" fill="#cc1136"/><circle cx="92.7" cy="367.4" r="1.15" fill="#cc1136"/><circle cx="96.1" cy="367.4" r="1.15" fill="#cc1136"/><line x1="51.3" y1="336.8" x2="51.3" y2="400.6" stroke="#231f20" stroke-width="1.2"/><line x1="47.9" y1="336.8" x2="51.3" y2="336.8" stroke="#231f20" stroke-width="0.9"/><text x="44.4" y="339.6" font-size="7.4" text-anchor="end" fill="#231f20" stroke="#231f20" stroke-width="0.15">10</text><line x1="47.9" y1="349.56" x2="51.3" y2="349.56" stroke="#231f20" stroke-width="0.9"/><text x="44.4" y="352.36" font-size="7.4" text-anchor="end" fill="#231f20" stroke="#231f20" stroke-width="0.15">8</text><line x1="47.9" y1="362.32" x2="51.3" y2="362.32" stroke="#231f20" stroke-width="0.9"/><text x="44.4" y="365.12" font-size="7.4" text-anchor="end" fill="#231f20" stroke="#231f20" stroke-width="0.15">6</text><line x1="47.9" y1="375.08000000000004" x2="51.3" y2="375.08000000000004" stroke="#231f20" stroke-width="0.9"/><text x="44.4" y="377.88000000000005" font-size="7.4" text-anchor="end" fill="#231f20" stroke="#231f20" stroke-width="0.15">4</text><line x1="47.9" y1="387.84000000000003" x2="51.3" y2="387.84000000000003" stroke="#231f20" stroke-width="0.9"/><text x="44.4" y="390.64000000000004" font-size="7.4" text-anchor="end" fill="#231f20" stroke="#231f20" stroke-width="0.15">2</text><line x1="47.9" y1="400.6" x2="51.3" y2="400.6" stroke="#231f20" stroke-width="0.9"/><text x="44.4" y="403.40000000000003" font-size="7.4" text-anchor="end" fill="#231f20" stroke="#231f20" stroke-width="0.15">0</text><line x1="51.3" y1="334.8" x2="51.3" y2="336.8" stroke="#231f20" stroke-width="1.2"/><line x1="51.3" y1="400.6" x2="102.2" y2="400.6" stroke="#231f20" stroke-width="1"/><line x1="61.95" y1="400.6" x2="61.95" y2="402.6" stroke="#231f20" stroke-width="0.8"/><line x1="77.8" y1="400.6" x2="77.8" y2="402.6" stroke="#231f20" stroke-width="0.8"/><line x1="93.95" y1="400.6" x2="93.95" y2="402.6" stroke="#231f20" stroke-width="0.8"/><line x1="78" y1="348.9" x2="93.5" y2="348.9" stroke="#333" stroke-width="1.2"/><text x="85.75" y="347" font-size="7.8" text-anchor="middle" fill="#231f20" stroke="#231f20" stroke-width="0.15">ns</text><text x="37.3" y="325.8" font-size="7.8" text-anchor="start" fill="#231f20" textLength="13.8" lengthAdjust="spacingAndGlyphs" stroke="#231f20" stroke-width="0.15">Day</text><text x="61.9" y="325.8" font-size="7.8" text-anchor="middle" fill="#231f20" stroke="#231f20" stroke-width="0.15">0</text><text x="77.6" y="325.8" font-size="7.8" text-anchor="middle" fill="#231f20" stroke="#231f20" stroke-width="0.15">14</text><text x="94" y="325.8" font-size="7.8" text-anchor="middle" fill="#231f20" stroke="#231f20" stroke-width="0.15">28</text><text x="37.3" y="411.5" font-size="7.8" text-anchor="start" fill="#231f20" textLength="13.8" lengthAdjust="spacingAndGlyphs" stroke="#231f20" stroke-width="0.15">Day</text><text x="61.9" y="411.5" font-size="7.8" text-anchor="middle" fill="#231f20" stroke="#231f20" stroke-width="0.15">0</text><text x="77.6" y="411.5" font-size="7.8" text-anchor="middle" fill="#231f20" stroke="#231f20" stroke-width="0.15">14</text><text x="94" y="411.5" font-size="7.8" text-anchor="middle" fill="#231f20" stroke="#231f20" stroke-width="0.15">28</text><text x="29.3" y="280" font-size="9" text-anchor="middle" fill="#231f20" textLength="54.5" lengthAdjust="spacingAndGlyphs" transform="rotate(-90 29.3 280)" stroke="#231f20" stroke-width="0.15">TOX MFI (×10<tspan font-size="5" dy="-3">3</tspan><tspan dy="3">)</tspan></text><text x="29.6" y="363.2" font-size="9" text-anchor="middle" fill="#231f20" textLength="55.5" lengthAdjust="spacingAndGlyphs" transform="rotate(-90 29.6 363.2)" stroke="#231f20" stroke-width="0.15">TOX MFI (×10<tspan font-size="5" dy="-3">3</tspan><tspan dy="3">)</tspan></text><text x="13.5" y="281.1" font-size="9.4" text-anchor="middle" fill="#231f20" textLength="30.4" lengthAdjust="spacingAndGlyphs" transform="rotate(-90 13.5 281.1)" stroke="#231f20" stroke-width="0.15">Spleen</text><text x="13.5" y="366.4" font-size="9.4" text-anchor="middle" fill="#231f20" textLength="20.7" lengthAdjust="spacingAndGlyphs" transform="rotate(-90 13.5 366.4)" stroke="#231f20" stroke-width="0.15">Liver</text><text x="121.3" y="231.4" font-size="10.5" text-anchor="start" fill="#231f20" font-weight="bold" stroke="#231f20" stroke-width="0.15">E</text><text x="120.5" y="256" font-size="7.8" fill="#231f20" stroke="#231f20" stroke-width="0.15">WT CD8<tspan font-size="4.6" dy="-3">+</tspan></text><text x="189.1" y="254.9" font-size="8.2" text-anchor="middle" fill="#231f20" stroke="#231f20" stroke-width="0.15">Day0</text><text x="255" y="254.9" font-size="8.2" text-anchor="middle" fill="#231f20" stroke="#231f20" stroke-width="0.15">Day14</text><text x="321.2" y="254.9" font-size="8.2" text-anchor="middle" fill="#231f20" stroke="#231f20" stroke-width="0.15">Day28</text><text x="140.9" y="294.2" font-size="9.4" text-anchor="middle" fill="#231f20" textLength="28.5" lengthAdjust="spacingAndGlyphs" transform="rotate(-90 140.9 294.2)" stroke="#231f20" stroke-width="0.15">Spleen</text><text x="141.1" y="352.9" font-size="9.4" text-anchor="middle" fill="#231f20" textLength="20.8" lengthAdjust="spacingAndGlyphs" transform="rotate(-90 141.1 352.9)" stroke="#231f20" stroke-width="0.15">Liver</text><text x="151.3" y="279.4" font-size="8" text-anchor="middle" fill="#231f20" textLength="18.3" lengthAdjust="spacingAndGlyphs" transform="rotate(-90 151.3 279.4)" stroke="#231f20" stroke-width="0.15">TIGIT</text><line x1="155.4" y1="393.8" x2="155.4" y2="268.5" stroke="#231f20" stroke-width="0.9"/><path d="M153.8,269.0 L155.4,264.5 L157.0,269.0 Z" fill="#231f20"/><line x1="155.4" y1="393.8" x2="353" y2="393.8" stroke="#231f20" stroke-width="0.9"/><path d="M353.0,392.2 L357.5,393.8 L353.0,395.40000000000003 Z" fill="#231f20"/><text x="341" y="404.1" font-size="7.6" text-anchor="middle" fill="#231f20" textLength="16.7" lengthAdjust="spacingAndGlyphs" stroke="#231f20" stroke-width="0.15">PD-1</text><rect x="162.3" y="262.9" width="58.79999999999998" height="58.30000000000001" fill="#fff" stroke="#3a3a3a" stroke-width="0.9"/><path d="M161.10,265.23 V319.45" stroke="#333" stroke-width="2.1" stroke-dasharray="0.8,2.6,0.9,3.9,0.8,3.2,1,4.6"/><line x1="159.70000000000002" y1="270.479" x2="162.3" y2="270.479" stroke="#333" stroke-width="0.8"/><line x1="159.70000000000002" y1="292.04999999999995" x2="162.3" y2="292.04999999999995" stroke="#333" stroke-width="0.8"/><line x1="159.70000000000002" y1="299.046" x2="162.3" y2="299.046" stroke="#333" stroke-width="0.8"/><line x1="159.70000000000002" y1="318.28499999999997" x2="162.3" y2="318.28499999999997" stroke="#333" stroke-width="0.8"/><rect x="160.10000000000002" y="303.12699999999995" width="2.2" height="2.6" fill="#2a2a2a"/><path d="M167.00,322.40 H188.76" stroke="#333" stroke-width="1.8" stroke-dasharray="1.2,0.6,0.7,0.8,1.6,0.5"/><path d="M190.52,322.30 H216.98" stroke="#444" stroke-width="1.5" stroke-dasharray="0.7,1.3,1.1,0.9"/><ellipse cx="189" cy="302.4" rx="9.5" ry="3.3" transform="rotate(0 189 302.4)" fill="none" stroke="#555" stroke-width="0.5" opacity="0.8"/><ellipse cx="190.5" cy="302.3" rx="8.6" ry="3.0" transform="rotate(0 190.5 302.3)" fill="none" stroke="#555" stroke-width="0.5" opacity="0.8"/><ellipse cx="188" cy="302.5" rx="10" ry="3.6" transform="rotate(0 188 302.5)" fill="none" stroke="#555" stroke-width="0.5" opacity="0.6"/><g transform="translate(186.2 302.6) rotate(0)"><ellipse cx="0" cy="0" rx="7.6" ry="2.8" fill="#2c2c2c"/><ellipse cx="0" cy="0" rx="6.08" ry="2.24" fill="none" stroke="#6a6a6a" stroke-width="0.45"/><ellipse cx="0" cy="0" rx="4.56" ry="1.68" fill="none" stroke="#6a6a6a" stroke-width="0.45"/></g><line x1="197.4" y1="262.9" x2="197.4" y2="321.2" stroke="#3a3a3a" stroke-width="0.9"/><line x1="162.3" y1="297" x2="221.1" y2="297" stroke="#3a3a3a" stroke-width="0.9"/><text x="164.70000000000002" y="271.2" font-size="7.8" text-anchor="start" fill="#231f20" stroke="#231f20" stroke-width="0.15">0.8</text><text x="219.29999999999998" y="271.2" font-size="7.8" text-anchor="end" fill="#231f20" stroke="#231f20" stroke-width="0.15">0.04</text><text x="164.70000000000002" y="319.09999999999997" font-size="7.8" text-anchor="start" fill="#231f20" stroke="#231f20" stroke-width="0.15">97.6</text><text x="219.29999999999998" y="319.09999999999997" font-size="7.8" text-anchor="end" fill="#231f20" stroke="#231f20" stroke-width="0.15">1.6</text><rect x="230.4" y="262.9" width="58.400000000000006" height="58.30000000000001" fill="#fff" stroke="#3a3a3a" stroke-width="0.9"/><path d="M229.20,265.23 V319.45" stroke="#333" stroke-width="2.1" stroke-dasharray="0.8,2.6,0.9,3.9,0.8,3.2,1,4.6"/><line x1="227.8" y1="270.479" x2="230.4" y2="270.479" stroke="#333" stroke-width="0.8"/><line x1="227.8" y1="292.04999999999995" x2="230.4" y2="292.04999999999995" stroke="#333" stroke-width="0.8"/><line x1="227.8" y1="299.046" x2="230.4" y2="299.046" stroke="#333" stroke-width="0.8"/><line x1="227.8" y1="318.28499999999997" x2="230.4" y2="318.28499999999997" stroke="#333" stroke-width="0.8"/><rect x="228.20000000000002" y="303.12699999999995" width="2.2" height="2.6" fill="#2a2a2a"/><path d="M235.07,322.40 H256.68" stroke="#333" stroke-width="1.8" stroke-dasharray="1.2,0.6,0.7,0.8,1.6,0.5"/><path d="M258.43,322.30 H284.71" stroke="#444" stroke-width="1.5" stroke-dasharray="0.7,1.3,1.1,0.9"/><ellipse cx="267.6" cy="290.8" rx="9.6" ry="10" fill="#9a9a9a" opacity="0.75"/><ellipse cx="267.6" cy="290.8" rx="9.6" ry="10" transform="rotate(0 267.6 290.8)" fill="none" stroke="#555" stroke-width="0.5" opacity="0.6"/><ellipse cx="268.2" cy="291.4" rx="8.2" ry="8.4" transform="rotate(0 268.2 291.4)" fill="none" stroke="#444" stroke-width="0.5" opacity="0.8"/><g transform="translate(269.8 293) rotate(0)"><ellipse cx="0" cy="0" rx="6.2" ry="6" fill="#2c2c2c"/><ellipse cx="0" cy="0" rx="4.96" ry="4.80" fill="none" stroke="#6a6a6a" stroke-width="0.45"/><ellipse cx="0" cy="0" rx="3.72" ry="3.60" fill="none" stroke="#6a6a6a" stroke-width="0.45"/><circle cx="0" cy="0" r="0.75" fill="#fff"/></g><line x1="264.8" y1="262.9" x2="264.8" y2="321.2" stroke="#3a3a3a" stroke-width="0.9"/><line x1="230.4" y1="297" x2="288.8" y2="297" stroke="#3a3a3a" stroke-width="0.9"/><text x="232.8" y="271.2" font-size="7.8" text-anchor="start" fill="#231f20" stroke="#231f20" stroke-width="0.15">17.8</text><text x="287.0" y="271.2" font-size="7.8" text-anchor="end" fill="#231f20" stroke="#231f20" stroke-width="0.15">75.4</text><text x="232.8" y="319.09999999999997" font-size="7.8" text-anchor="start" fill="#231f20" stroke="#231f20" stroke-width="0.15">3.0</text><text x="287.0" y="319.09999999999997" font-size="7.8" text-anchor="end" fill="#231f20" stroke="#231f20" stroke-width="0.15">3.8</text><rect x="297.5" y="262.9" width="58.89999999999998" height="58.30000000000001" fill="#fff" stroke="#3a3a3a" stroke-width="0.9"/><path d="M296.30,265.23 V319.45" stroke="#333" stroke-width="2.1" stroke-dasharray="0.8,2.6,0.9,3.9,0.8,3.2,1,4.6"/><line x1="294.9" y1="270.479" x2="297.5" y2="270.479" stroke="#333" stroke-width="0.8"/><line x1="294.9" y1="292.04999999999995" x2="297.5" y2="292.04999999999995" stroke="#333" stroke-width="0.8"/><line x1="294.9" y1="299.046" x2="297.5" y2="299.046" stroke="#333" stroke-width="0.8"/><line x1="294.9" y1="318.28499999999997" x2="297.5" y2="318.28499999999997" stroke="#333" stroke-width="0.8"/><rect x="295.3" y="303.12699999999995" width="2.2" height="2.6" fill="#2a2a2a"/><path d="M302.21,322.40 H324.00" stroke="#333" stroke-width="1.8" stroke-dasharray="1.2,0.6,0.7,0.8,1.6,0.5"/><path d="M325.77,322.30 H352.28" stroke="#444" stroke-width="1.5" stroke-dasharray="0.7,1.3,1.1,0.9"/><g transform="translate(338.5 291.3) rotate(0)"><ellipse cx="0" cy="0" rx="8.43" ry="9.28" fill="none" stroke="#4a4a4a" stroke-width="0.5" opacity="0.75"/><ellipse cx="0" cy="0" rx="8" ry="8.8" fill="#2c2c2c"/><ellipse cx="0" cy="0" rx="6.40" ry="7.04" fill="none" stroke="#6a6a6a" stroke-width="0.45"/><ellipse cx="0" cy="0" rx="4.80" ry="5.28" fill="none" stroke="#6a6a6a" stroke-width="0.45"/><ellipse cx="0" cy="0" rx="3.20" ry="3.52" fill="none" stroke="#6a6a6a" stroke-width="0.45"/><circle cx="0" cy="0" r="0.75" fill="#fff"/></g><line x1="332.3" y1="262.9" x2="332.3" y2="321.2" stroke="#3a3a3a" stroke-width="0.9"/><line x1="297.5" y1="297" x2="356.4" y2="297" stroke="#3a3a3a" stroke-width="0.9"/><text x="299.9" y="271.2" font-size="7.8" text-anchor="start" fill="#231f20" stroke="#231f20" stroke-width="0.15">2.7</text><text x="354.59999999999997" y="271.2" font-size="7.8" text-anchor="end" fill="#231f20" stroke="#231f20" stroke-width="0.15">87.5</text><text x="299.9" y="319.09999999999997" font-size="7.8" text-anchor="start" fill="#231f20" stroke="#231f20" stroke-width="0.15">0.9</text><text x="354.59999999999997" y="319.09999999999997" font-size="7.8" text-anchor="end" fill="#231f20" stroke="#231f20" stroke-width="0.15">8.9</text><rect x="162.3" y="328.6" width="58.79999999999998" height="57.19999999999999" fill="#fff" stroke="#3a3a3a" stroke-width="0.9"/><path d="M161.10,330.89 V384.08" stroke="#333" stroke-width="2.1" stroke-dasharray="0.8,2.6,0.9,3.9,0.8,3.2,1,4.6"/><line x1="159.70000000000002" y1="336.036" x2="162.3" y2="336.036" stroke="#333" stroke-width="0.8"/><line x1="159.70000000000002" y1="357.20000000000005" x2="162.3" y2="357.20000000000005" stroke="#333" stroke-width="0.8"/><line x1="159.70000000000002" y1="364.064" x2="162.3" y2="364.064" stroke="#333" stroke-width="0.8"/><line x1="159.70000000000002" y1="382.94" x2="162.3" y2="382.94" stroke="#333" stroke-width="0.8"/><rect x="160.10000000000002" y="368.068" width="2.2" height="2.6" fill="#2a2a2a"/><path d="M167.00,387.00 H188.76" stroke="#333" stroke-width="1.8" stroke-dasharray="1.2,0.6,0.7,0.8,1.6,0.5"/><path d="M190.52,386.90 H216.98" stroke="#444" stroke-width="1.5" stroke-dasharray="0.7,1.3,1.1,0.9"/><g transform="translate(190.3 368.5) rotate(0)"><ellipse cx="0" cy="0" rx="7.56" ry="2.59" fill="none" stroke="#4a4a4a" stroke-width="0.5" opacity="0.75"/><ellipse cx="0" cy="0" rx="7.3" ry="2.5" fill="#2c2c2c"/><ellipse cx="0" cy="0" rx="5.84" ry="2.00" fill="none" stroke="#6a6a6a" stroke-width="0.45"/></g><line x1="197.4" y1="328.6" x2="197.4" y2="385.8" stroke="#3a3a3a" stroke-width="0.9"/><line x1="162.3" y1="362.8" x2="221.1" y2="362.8" stroke="#3a3a3a" stroke-width="0.9"/><text x="164.70000000000002" y="336.90000000000003" font-size="7.8" text-anchor="start" fill="#231f20" stroke="#231f20" stroke-width="0.15">5.1</text><text x="219.29999999999998" y="336.90000000000003" font-size="7.8" text-anchor="end" fill="#231f20" stroke="#231f20" stroke-width="0.15">1.2</text><text x="164.70000000000002" y="383.7" font-size="7.8" text-anchor="start" fill="#231f20" stroke="#231f20" stroke-width="0.15">83.9</text><text x="219.29999999999998" y="383.7" font-size="7.8" text-anchor="end" fill="#231f20" stroke="#231f20" stroke-width="0.15">9.9</text><rect x="230.4" y="328.6" width="58.400000000000006" height="57.19999999999999" fill="#fff" stroke="#3a3a3a" stroke-width="0.9"/><path d="M229.20,330.89 V384.08" stroke="#333" stroke-width="2.1" stroke-dasharray="0.8,2.6,0.9,3.9,0.8,3.2,1,4.6"/><line x1="227.8" y1="336.036" x2="230.4" y2="336.036" stroke="#333" stroke-width="0.8"/><line x1="227.8" y1="357.20000000000005" x2="230.4" y2="357.20000000000005" stroke="#333" stroke-width="0.8"/><line x1="227.8" y1="364.064" x2="230.4" y2="364.064" stroke="#333" stroke-width="0.8"/><line x1="227.8" y1="382.94" x2="230.4" y2="382.94" stroke="#333" stroke-width="0.8"/><rect x="228.20000000000002" y="368.068" width="2.2" height="2.6" fill="#2a2a2a"/><path d="M235.07,387.00 H256.68" stroke="#333" stroke-width="1.8" stroke-dasharray="1.2,0.6,0.7,0.8,1.6,0.5"/><path d="M258.43,386.90 H284.71" stroke="#444" stroke-width="1.5" stroke-dasharray="0.7,1.3,1.1,0.9"/><ellipse cx="268.2" cy="353.6" rx="9.6" ry="9" fill="#5e5e5e" transform="rotate(20 268.2 353.6)"/><ellipse cx="268.2" cy="353.6" rx="10.2" ry="9.6" transform="rotate(20 268.2 353.6)" fill="none" stroke="#555" stroke-width="0.5" opacity="0.7"/><g transform="translate(271.6 350.8) rotate(22)"><ellipse cx="0" cy="0" rx="8" ry="10" fill="#2c2c2c"/><ellipse cx="0" cy="0" rx="6.40" ry="8.00" fill="none" stroke="#6a6a6a" stroke-width="0.45"/><ellipse cx="0" cy="0" rx="4.80" ry="6.00" fill="none" stroke="#6a6a6a" stroke-width="0.45"/><ellipse cx="0" cy="0" rx="3.20" ry="4.00" fill="none" stroke="#6a6a6a" stroke-width="0.45"/><circle cx="0" cy="0" r="0.75" fill="#fff"/></g><line x1="264.8" y1="328.6" x2="264.8" y2="385.8" stroke="#3a3a3a" stroke-width="0.9"/><line x1="230.4" y1="362.8" x2="288.8" y2="362.8" stroke="#3a3a3a" stroke-width="0.9"/><text x="232.8" y="336.90000000000003" font-size="7.8" text-anchor="start" fill="#231f20" stroke="#231f20" stroke-width="0.15">4.1</text><text x="287.0" y="336.90000000000003" font-size="7.8" text-anchor="end" fill="#231f20" stroke="#231f20" stroke-width="0.15">83.0</text><text x="232.8" y="383.7" font-size="7.8" text-anchor="start" fill="#231f20" stroke="#231f20" stroke-width="0.15">2.5</text><text x="287.0" y="383.7" font-size="7.8" text-anchor="end" fill="#231f20" stroke="#231f20" stroke-width="0.15">10.3</text><rect x="297.5" y="328.6" width="58.89999999999998" height="57.19999999999999" fill="#fff" stroke="#3a3a3a" stroke-width="0.9"/><path d="M296.30,330.89 V384.08" stroke="#333" stroke-width="2.1" stroke-dasharray="0.8,2.6,0.9,3.9,0.8,3.2,1,4.6"/><line x1="294.9" y1="336.036" x2="297.5" y2="336.036" stroke="#333" stroke-width="0.8"/><line x1="294.9" y1="357.20000000000005" x2="297.5" y2="357.20000000000005" stroke="#333" stroke-width="0.8"/><line x1="294.9" y1="364.064" x2="297.5" y2="364.064" stroke="#333" stroke-width="0.8"/><line x1="294.9" y1="382.94" x2="297.5" y2="382.94" stroke="#333" stroke-width="0.8"/><rect x="295.3" y="368.068" width="2.2" height="2.6" fill="#2a2a2a"/><path d="M302.21,387.00 H324.00" stroke="#333" stroke-width="1.8" stroke-dasharray="1.2,0.6,0.7,0.8,1.6,0.5"/><path d="M325.77,386.90 H352.28" stroke="#444" stroke-width="1.5" stroke-dasharray="0.7,1.3,1.1,0.9"/><g transform="translate(342.4 355.4) rotate(22)"><ellipse cx="0" cy="0" rx="7.52" ry="10.87" fill="none" stroke="#4a4a4a" stroke-width="0.5" opacity="0.75"/><ellipse cx="0" cy="0" rx="7.2" ry="10.4" fill="#2c2c2c"/><ellipse cx="0" cy="0" rx="5.76" ry="8.32" fill="none" stroke="#6a6a6a" stroke-width="0.45"/><ellipse cx="0" cy="0" rx="4.32" ry="6.24" fill="none" stroke="#6a6a6a" stroke-width="0.45"/><ellipse cx="0" cy="0" rx="2.88" ry="4.16" fill="none" stroke="#6a6a6a" stroke-width="0.45"/><circle cx="0" cy="0" r="0.75" fill="#fff"/></g><line x1="332.4" y1="328.6" x2="332.4" y2="385.8" stroke="#3a3a3a" stroke-width="0.9"/><line x1="297.5" y1="362.8" x2="356.4" y2="362.8" stroke="#3a3a3a" stroke-width="0.9"/><text x="299.9" y="336.90000000000003" font-size="7.8" text-anchor="start" fill="#231f20" stroke="#231f20" stroke-width="0.15">1.1</text><text x="354.59999999999997" y="336.90000000000003" font-size="7.8" text-anchor="end" fill="#231f20" stroke="#231f20" stroke-width="0.15">93.6</text><text x="299.9" y="383.7" font-size="7.8" text-anchor="start" fill="#231f20" stroke="#231f20" stroke-width="0.15">0.4</text><text x="354.59999999999997" y="383.7" font-size="7.8" text-anchor="end" fill="#231f20" stroke="#231f20" stroke-width="0.15">4.9</text><text x="365.9" y="231.4" font-size="10.5" text-anchor="start" fill="#231f20" font-weight="bold" stroke="#231f20" stroke-width="0.15">F</text><text x="368" y="243.6" font-size="9" text-anchor="start" fill="#231f20" textLength="44.5" lengthAdjust="spacingAndGlyphs" stroke="#231f20" stroke-width="0.15">Spleen (%)</text><text x="368.6" y="320.7" font-size="9" text-anchor="start" fill="#231f20" textLength="36" lengthAdjust="spacingAndGlyphs" stroke="#231f20" stroke-width="0.15">Liver (%)</text><line x1="402" y1="252.9" x2="402" y2="303.4" stroke="#231f20" stroke-width="1.2"/><line x1="399.2" y1="252.9" x2="402" y2="252.9" stroke="#231f20" stroke-width="0.9"/><text x="396" y="255.6" font-size="8" text-anchor="end" fill="#231f20" stroke="#231f20" stroke-width="0.15">100</text><line x1="399.2" y1="263.0" x2="402" y2="263.0" stroke="#231f20" stroke-width="0.9"/><text x="396" y="265.7" font-size="8" text-anchor="end" fill="#231f20" stroke="#231f20" stroke-width="0.15">80</text><line x1="399.2" y1="273.1" x2="402" y2="273.1" stroke="#231f20" stroke-width="0.9"/><text x="396" y="275.8" font-size="8" text-anchor="end" fill="#231f20" stroke="#231f20" stroke-width="0.15">60</text><line x1="399.2" y1="283.2" x2="402" y2="283.2" stroke="#231f20" stroke-width="0.9"/><text x="396" y="285.9" font-size="8" text-anchor="end" fill="#231f20" stroke="#231f20" stroke-width="0.15">40</text><line x1="399.2" y1="293.29999999999995" x2="402" y2="293.29999999999995" stroke="#231f20" stroke-width="0.9"/><text x="396" y="295.99999999999994" font-size="8" text-anchor="end" fill="#231f20" stroke="#231f20" stroke-width="0.15">20</text><line x1="399.2" y1="303.4" x2="402" y2="303.4" stroke="#231f20" stroke-width="0.9"/><text x="396" y="306.09999999999997" font-size="8" text-anchor="end" fill="#231f20" stroke="#231f20" stroke-width="0.15">0</text><rect x="405.15" y="252.9" width="10.7" height="50.49999999999997" fill="#0f4a8a"/><rect x="405.15" y="252.9" width="10.7" height="47.70000000000002" fill="#a8d1ef"/><rect x="405.15" y="300.6" width="10.7" height="0.5999999999999659" fill="#3ba3dc"/><rect x="405.15" y="301.2" width="10.7" height="2.2" fill="#243650"/><line x1="410.5" y1="303.4" x2="410.5" y2="305.4" stroke="#231f20" stroke-width="0.8"/><rect x="421.54999999999995" y="252.9" width="10.7" height="50.49999999999997" fill="#0f4a8a"/><rect x="421.54999999999995" y="252.9" width="10.7" height="5.299999999999983" fill="#a8d1ef"/><rect x="421.54999999999995" y="258.2" width="10.7" height="13.800000000000011" fill="#3ba3dc"/><rect x="421.54999999999995" y="302.4" width="10.7" height="1" fill="#0b3c72"/><line x1="426.9" y1="303.4" x2="426.9" y2="305.4" stroke="#231f20" stroke-width="0.8"/><rect x="438.34999999999997" y="252.9" width="10.7" height="50.49999999999997" fill="#0f4a8a"/><rect x="438.34999999999997" y="252.9" width="10.7" height="2.5" fill="#a8d1ef"/><rect x="438.34999999999997" y="255.4" width="10.7" height="9.599999999999994" fill="#3ba3dc"/><rect x="438.34999999999997" y="302.4" width="10.7" height="1" fill="#0b3c72"/><line x1="443.7" y1="303.4" x2="443.7" y2="305.4" stroke="#231f20" stroke-width="0.8"/><rect x="455.04999999999995" y="252.9" width="10.7" height="50.49999999999997" fill="#0f4a8a"/><rect x="455.04999999999995" y="252.9" width="10.7" height="1.5999999999999943" fill="#a8d1ef"/><rect x="455.04999999999995" y="254.5" width="10.7" height="3.8999999999999773" fill="#3ba3dc"/><rect x="455.04999999999995" y="302.4" width="10.7" height="1" fill="#0b3c72"/><line x1="460.4" y1="303.4" x2="460.4" y2="305.4" stroke="#231f20" stroke-width="0.8"/><rect x="471.84999999999997" y="252.9" width="10.7" height="50.49999999999997" fill="#0f4a8a"/><rect x="471.84999999999997" y="252.9" width="10.7" height="1.5999999999999943" fill="#a8d1ef"/><rect x="471.84999999999997" y="254.5" width="10.7" height="3.1999999999999886" fill="#3ba3dc"/><rect x="471.84999999999997" y="302.4" width="10.7" height="1" fill="#0b3c72"/><line x1="477.2" y1="303.4" x2="477.2" y2="305.4" stroke="#231f20" stroke-width="0.8"/><rect x="489.04999999999995" y="252.9" width="10.7" height="50.49999999999997" fill="#0f4a8a"/><rect x="489.04999999999995" y="252.9" width="10.7" height="1.0999999999999943" fill="#a8d1ef"/><rect x="489.04999999999995" y="254" width="10.7" height="2" fill="#3ba3dc"/><rect x="489.04999999999995" y="302.4" width="10.7" height="1" fill="#0b3c72"/><line x1="494.4" y1="303.4" x2="494.4" y2="305.4" stroke="#231f20" stroke-width="0.8"/><line x1="410.5" y1="252.9" x2="410.5" y2="251.8" stroke="#231f20" stroke-width="0.9"/><line x1="407.4" y1="251.8" x2="413.6" y2="251.8" stroke="#231f20" stroke-width="0.9"/><line x1="410.5" y1="300.8" x2="410.5" y2="300" stroke="#231f20" stroke-width="0.9"/><line x1="407.4" y1="300" x2="413.6" y2="300" stroke="#231f20" stroke-width="0.9"/><line x1="426.9" y1="252.9" x2="426.9" y2="249" stroke="#231f20" stroke-width="0.9"/><line x1="423.79999999999995" y1="249" x2="430.0" y2="249" stroke="#231f20" stroke-width="0.9"/><line x1="426.9" y1="258.2" x2="426.9" y2="256" stroke="#231f20" stroke-width="0.9"/><line x1="423.79999999999995" y1="256" x2="430.0" y2="256" stroke="#231f20" stroke-width="0.9"/><line x1="426.9" y1="272" x2="426.9" y2="269" stroke="#231f20" stroke-width="0.9"/><line x1="423.79999999999995" y1="269" x2="430.0" y2="269" stroke="#231f20" stroke-width="0.9"/><line x1="443.7" y1="252.9" x2="443.7" y2="251" stroke="#231f20" stroke-width="0.9"/><line x1="440.59999999999997" y1="251" x2="446.8" y2="251" stroke="#231f20" stroke-width="0.9"/><line x1="443.7" y1="255.4" x2="443.7" y2="254" stroke="#231f20" stroke-width="0.9"/><line x1="440.59999999999997" y1="254" x2="446.8" y2="254" stroke="#231f20" stroke-width="0.9"/><line x1="443.7" y1="265" x2="443.7" y2="262.5" stroke="#231f20" stroke-width="0.9"/><line x1="440.59999999999997" y1="262.5" x2="446.8" y2="262.5" stroke="#231f20" stroke-width="0.9"/><line x1="460.4" y1="252.9" x2="460.4" y2="251.8" stroke="#231f20" stroke-width="0.9"/><line x1="457.29999999999995" y1="251.8" x2="463.5" y2="251.8" stroke="#231f20" stroke-width="0.9"/><line x1="460.4" y1="258.4" x2="460.4" y2="256.5" stroke="#231f20" stroke-width="0.9"/><line x1="457.29999999999995" y1="256.5" x2="463.5" y2="256.5" stroke="#231f20" stroke-width="0.9"/><line x1="477.2" y1="252.9" x2="477.2" y2="252.2" stroke="#231f20" stroke-width="0.9"/><line x1="474.09999999999997" y1="252.2" x2="480.3" y2="252.2" stroke="#231f20" stroke-width="0.9"/><line x1="477.2" y1="257.7" x2="477.2" y2="256" stroke="#231f20" stroke-width="0.9"/><line x1="474.09999999999997" y1="256" x2="480.3" y2="256" stroke="#231f20" stroke-width="0.9"/><line x1="494.4" y1="252.9" x2="494.4" y2="251" stroke="#231f20" stroke-width="0.9"/><line x1="491.29999999999995" y1="251" x2="497.5" y2="251" stroke="#231f20" stroke-width="0.9"/><line x1="494.4" y1="256" x2="494.4" y2="254.3" stroke="#231f20" stroke-width="0.9"/><line x1="491.29999999999995" y1="254.3" x2="497.5" y2="254.3" stroke="#231f20" stroke-width="0.9"/><line x1="402" y1="303.4" x2="506" y2="303.4" stroke="#231f20" stroke-width="1"/><line x1="402" y1="327.6" x2="402" y2="378.1" stroke="#231f20" stroke-width="1.2"/><line x1="399.2" y1="327.6" x2="402" y2="327.6" stroke="#231f20" stroke-width="0.9"/><text x="396" y="330.3" font-size="8" text-anchor="end" fill="#231f20" stroke="#231f20" stroke-width="0.15">100</text><line x1="399.2" y1="337.70000000000005" x2="402" y2="337.70000000000005" stroke="#231f20" stroke-width="0.9"/><text x="396" y="340.40000000000003" font-size="8" text-anchor="end" fill="#231f20" stroke="#231f20" stroke-width="0.15">80</text><line x1="399.2" y1="347.8" x2="402" y2="347.8" stroke="#231f20" stroke-width="0.9"/><text x="396" y="350.5" font-size="8" text-anchor="end" fill="#231f20" stroke="#231f20" stroke-width="0.15">60</text><line x1="399.2" y1="357.90000000000003" x2="402" y2="357.90000000000003" stroke="#231f20" stroke-width="0.9"/><text x="396" y="360.6" font-size="8" text-anchor="end" fill="#231f20" stroke="#231f20" stroke-width="0.15">40</text><line x1="399.2" y1="368.0" x2="402" y2="368.0" stroke="#231f20" stroke-width="0.9"/><text x="396" y="370.7" font-size="8" text-anchor="end" fill="#231f20" stroke="#231f20" stroke-width="0.15">20</text><line x1="399.2" y1="378.1" x2="402" y2="378.1" stroke="#231f20" stroke-width="0.9"/><text x="396" y="380.8" font-size="8" text-anchor="end" fill="#231f20" stroke="#231f20" stroke-width="0.15">0</text><rect x="405.15" y="327.6" width="10.7" height="50.5" fill="#0f4a8a"/><rect x="405.15" y="327.6" width="10.7" height="42.599999999999966" fill="#a8d1ef"/><rect x="405.15" y="370.2" width="10.7" height="3.3000000000000114" fill="#3ba3dc"/><rect x="405.15" y="375.90000000000003" width="10.7" height="2.2" fill="#243650"/><line x1="410.5" y1="378.1" x2="410.5" y2="380.1" stroke="#231f20" stroke-width="0.8"/><rect x="421.54999999999995" y="327.6" width="10.7" height="50.5" fill="#0f4a8a"/><rect x="421.54999999999995" y="327.6" width="10.7" height="2.7999999999999545" fill="#a8d1ef"/><rect x="421.54999999999995" y="330.4" width="10.7" height="13.800000000000011" fill="#3ba3dc"/><rect x="421.54999999999995" y="377.1" width="10.7" height="1" fill="#0b3c72"/><line x1="426.9" y1="378.1" x2="426.9" y2="380.1" stroke="#231f20" stroke-width="0.8"/><rect x="438.34999999999997" y="327.6" width="10.7" height="50.5" fill="#0f4a8a"/><rect x="438.34999999999997" y="327.6" width="10.7" height="2.3999999999999773" fill="#a8d1ef"/><rect x="438.34999999999997" y="330" width="10.7" height="7.300000000000011" fill="#3ba3dc"/><rect x="438.34999999999997" y="377.1" width="10.7" height="1" fill="#0b3c72"/><line x1="443.7" y1="378.1" x2="443.7" y2="380.1" stroke="#231f20" stroke-width="0.8"/><rect x="455.04999999999995" y="327.6" width="10.7" height="50.5" fill="#0f4a8a"/><rect x="455.04999999999995" y="327.6" width="10.7" height="1.8999999999999773" fill="#a8d1ef"/><rect x="455.04999999999995" y="329.5" width="10.7" height="0.8999999999999773" fill="#3ba3dc"/><rect x="455.04999999999995" y="377.1" width="10.7" height="1" fill="#0b3c72"/><line x1="460.4" y1="378.1" x2="460.4" y2="380.1" stroke="#231f20" stroke-width="0.8"/><rect x="471.84999999999997" y="327.6" width="10.7" height="50.5" fill="#0f4a8a"/><rect x="471.84999999999997" y="327.6" width="10.7" height="1.8999999999999773" fill="#a8d1ef"/><rect x="471.84999999999997" y="329.5" width="10.7" height="0.8999999999999773" fill="#3ba3dc"/><rect x="471.84999999999997" y="377.1" width="10.7" height="1" fill="#0b3c72"/><line x1="477.2" y1="378.1" x2="477.2" y2="380.1" stroke="#231f20" stroke-width="0.8"/><rect x="489.04999999999995" y="327.6" width="10.7" height="50.5" fill="#0f4a8a"/><rect x="489.04999999999995" y="327.6" width="10.7" height="1.6999999999999886" fill="#a8d1ef"/><rect x="489.04999999999995" y="329.3" width="10.7" height="0.5" fill="#3ba3dc"/><rect x="489.04999999999995" y="377.1" width="10.7" height="1" fill="#0b3c72"/><line x1="494.4" y1="378.1" x2="494.4" y2="380.1" stroke="#231f20" stroke-width="0.8"/><line x1="410.5" y1="327.6" x2="410.5" y2="326.6" stroke="#231f20" stroke-width="0.9"/><line x1="407.4" y1="326.6" x2="413.6" y2="326.6" stroke="#231f20" stroke-width="0.9"/><line x1="410.5" y1="370.2" x2="410.5" y2="368.6" stroke="#231f20" stroke-width="0.9"/><line x1="407.4" y1="368.6" x2="413.6" y2="368.6" stroke="#231f20" stroke-width="0.9"/><line x1="426.9" y1="327.6" x2="426.9" y2="325" stroke="#231f20" stroke-width="0.9"/><line x1="423.79999999999995" y1="325" x2="430.0" y2="325" stroke="#231f20" stroke-width="0.9"/><line x1="426.9" y1="330.4" x2="426.9" y2="329" stroke="#231f20" stroke-width="0.9"/><line x1="423.79999999999995" y1="329" x2="430.0" y2="329" stroke="#231f20" stroke-width="0.9"/><line x1="426.9" y1="344.2" x2="426.9" y2="341.5" stroke="#231f20" stroke-width="0.9"/><line x1="423.79999999999995" y1="341.5" x2="430.0" y2="341.5" stroke="#231f20" stroke-width="0.9"/><line x1="443.7" y1="327.6" x2="443.7" y2="326" stroke="#231f20" stroke-width="0.9"/><line x1="440.59999999999997" y1="326" x2="446.8" y2="326" stroke="#231f20" stroke-width="0.9"/><line x1="443.7" y1="330" x2="443.7" y2="328.5" stroke="#231f20" stroke-width="0.9"/><line x1="440.59999999999997" y1="328.5" x2="446.8" y2="328.5" stroke="#231f20" stroke-width="0.9"/><line x1="443.7" y1="337.3" x2="443.7" y2="335" stroke="#231f20" stroke-width="0.9"/><line x1="440.59999999999997" y1="335" x2="446.8" y2="335" stroke="#231f20" stroke-width="0.9"/><line x1="460.4" y1="327.6" x2="460.4" y2="327" stroke="#231f20" stroke-width="0.9"/><line x1="457.29999999999995" y1="327" x2="463.5" y2="327" stroke="#231f20" stroke-width="0.9"/><line x1="460.4" y1="330.4" x2="460.4" y2="329.5" stroke="#231f20" stroke-width="0.9"/><line x1="457.29999999999995" y1="329.5" x2="463.5" y2="329.5" stroke="#231f20" stroke-width="0.9"/><line x1="477.2" y1="327.6" x2="477.2" y2="327" stroke="#231f20" stroke-width="0.9"/><line x1="474.09999999999997" y1="327" x2="480.3" y2="327" stroke="#231f20" stroke-width="0.9"/><line x1="477.2" y1="330.4" x2="477.2" y2="329.5" stroke="#231f20" stroke-width="0.9"/><line x1="474.09999999999997" y1="329.5" x2="480.3" y2="329.5" stroke="#231f20" stroke-width="0.9"/><line x1="494.4" y1="327.6" x2="494.4" y2="326.8" stroke="#231f20" stroke-width="0.9"/><line x1="491.29999999999995" y1="326.8" x2="497.5" y2="326.8" stroke="#231f20" stroke-width="0.9"/><line x1="402" y1="378.1" x2="506" y2="378.1" stroke="#231f20" stroke-width="1"/><text x="378" y="278.2" font-size="8.8" text-anchor="middle" fill="#231f20" textLength="28" lengthAdjust="spacingAndGlyphs" transform="rotate(-90 378 278.2)" stroke="#231f20" stroke-width="0.15">WT CD8<tspan font-size="4.6" dy="-3">+</tspan></text><text x="378" y="352" font-size="8.8" text-anchor="middle" fill="#231f20" textLength="29" lengthAdjust="spacingAndGlyphs" transform="rotate(-90 378 352)" stroke="#231f20" stroke-width="0.15">WT CD8<tspan font-size="4.6" dy="-3">+</tspan></text><text x="410.9" y="391.1" font-size="7.6" text-anchor="middle" fill="#231f20" stroke="#231f20" stroke-width="0.15">Day0</text><text x="426.4" y="391.1" font-size="7.6" text-anchor="middle" fill="#231f20" stroke="#231f20" stroke-width="0.15">7</text><text x="444" y="391.1" font-size="7.6" text-anchor="middle" fill="#231f20" stroke="#231f20" stroke-width="0.15">14</text><text x="460.6" y="391.1" font-size="7.6" text-anchor="middle" fill="#231f20" stroke="#231f20" stroke-width="0.15">21</text><text x="477.7" y="391.1" font-size="7.6" text-anchor="middle" fill="#231f20" stroke="#231f20" stroke-width="0.15">28</text><text x="494.8" y="391.1" font-size="7.6" text-anchor="middle" fill="#231f20" stroke="#231f20" stroke-width="0.15">35</text><rect x="395.4" y="401.4" width="5.4" height="3.6" fill="#a8d1ef"/><text x="403.79999999999995" y="405" font-size="7.6" fill="#4a4a4a" stroke="#4a4a4a" stroke-width="0.15">PD-1<tspan font-size="4.5" dy="-2.8">−</tspan><tspan dy="2.8">, TIGIT</tspan><tspan font-size="4.5" dy="-2.8">−</tspan></text><rect x="455.8" y="401.4" width="5.4" height="3.6" fill="#0f4a8a"/><text x="464.2" y="405" font-size="7.6" fill="#4a4a4a" stroke="#4a4a4a" stroke-width="0.15">PD-1<tspan font-size="4.5" dy="-2.8">+</tspan><tspan dy="2.8">, TIGIT</tspan><tspan font-size="4.5" dy="-2.8">+</tspan></text><rect x="395.4" y="412.2" width="5.4" height="3.6" fill="#3ba3dc"/><text x="403.79999999999995" y="415.8" font-size="7.6" fill="#4a4a4a" stroke="#4a4a4a" stroke-width="0.15">PD-1<tspan font-size="4.5" dy="-2.8">+</tspan><tspan dy="2.8">, TIGIT</tspan><tspan font-size="4.5" dy="-2.8">−</tspan></text><rect x="455.8" y="412.2" width="5.4" height="3.6" fill="#243650"/><text x="464.2" y="415.8" font-size="7.6" fill="#4a4a4a" stroke="#4a4a4a" stroke-width="0.15">PD-1<tspan font-size="4.5" dy="-2.8">−</tspan><tspan dy="2.8">, TIGIT</tspan><tspan font-size="4.5" dy="-2.8">+</tspan></text><text x="8.2" y="435.4" font-size="10.5" text-anchor="start" fill="#231f20" font-weight="bold" stroke="#231f20" stroke-width="0.15">G</text><text x="58" y="439.6" font-size="8" fill="#231f20" textLength="33" lengthAdjust="spacingAndGlyphs" stroke="#231f20" stroke-width="0.15">WT CD8<tspan font-size="4.6" dy="-3">+</tspan></text><text x="74.8" y="448.8" font-size="8" text-anchor="middle" fill="#231f20" textLength="28.3" lengthAdjust="spacingAndGlyphs" stroke="#231f20" stroke-width="0.15">(Day14)</text><line x1="42.6" y1="570" x2="42.6" y2="460" stroke="#231f20" stroke-width="1.1"/><path d="M40.0,460.59999999999997 L42.6,455.2 L45.2,460.59999999999997 Z" fill="#231f20"/><line x1="42.6" y1="570" x2="97" y2="570" stroke="#231f20" stroke-width="0.9"/><path d="M96.7,568.4 L101.2,570 L96.7,571.6 Z" fill="#231f20"/><text x="87.2" y="579" font-size="9.3" text-anchor="middle" fill="#231f20" textLength="13.6" lengthAdjust="spacingAndGlyphs" stroke="#231f20" stroke-width="0.15">TOX</text><text x="40.2" y="474.5" font-size="9.5" text-anchor="middle" fill="#231f20" textLength="17.1" lengthAdjust="spacingAndGlyphs" transform="rotate(-90 40.2 474.5)" stroke="#231f20" stroke-width="0.15">TCF-1</text><text x="27.8" y="482" font-size="8.2" text-anchor="middle" fill="#231f20" textLength="23" lengthAdjust="spacingAndGlyphs" transform="rotate(-90 27.8 482)" stroke="#231f20" stroke-width="0.15">Spleen</text><text x="27.2" y="536.5" font-size="8.2" text-anchor="middle" fill="#231f20" textLength="15.5" lengthAdjust="spacingAndGlyphs" transform="rotate(-90 27.2 536.5)" stroke="#231f20" stroke-width="0.15">Liver</text><rect x="49.4" y="454.3" width="50.6" height="50.30000000000001" fill="#fff" stroke="#3a3a3a" stroke-width="0.9"/><path d="M48.20,456.31 V503.09" stroke="#333" stroke-width="2.1" stroke-dasharray="0.8,2.6,0.9,3.9,0.8,3.2,1,4.6"/><line x1="46.8" y1="460.839" x2="49.4" y2="460.839" stroke="#333" stroke-width="0.8"/><line x1="46.8" y1="479.45000000000005" x2="49.4" y2="479.45000000000005" stroke="#333" stroke-width="0.8"/><line x1="46.8" y1="485.486" x2="49.4" y2="485.486" stroke="#333" stroke-width="0.8"/><line x1="46.8" y1="502.08500000000004" x2="49.4" y2="502.08500000000004" stroke="#333" stroke-width="0.8"/><rect x="47.199999999999996" y="489.007" width="2.2" height="2.6" fill="#2a2a2a"/><path d="M53.45,505.80 H72.17" stroke="#333" stroke-width="1.8" stroke-dasharray="1.2,0.6,0.7,0.8,1.6,0.5"/><path d="M73.69,505.70 H96.46" stroke="#444" stroke-width="1.5" stroke-dasharray="0.7,1.3,1.1,0.9"/><path d="M70.88,474.61 C71.15,472.55 73.22,471.72 75.20,471.00 C77.18,470.28 80.51,470.02 82.76,470.28 C85.01,470.54 87.75,470.97 88.70,472.55 C89.65,474.12 89.11,477.35 88.48,479.75 C87.85,482.16 86.50,485.33 84.92,486.96 C83.34,488.60 80.87,490.14 78.98,489.54 C77.09,488.94 74.93,485.85 73.58,483.36 C72.23,480.87 70.61,476.67 70.88,474.61 Z" fill="none" stroke="#333" stroke-width="0.5" opacity="0.7"/><path d="M69.76,474.71 C70.05,472.59 72.27,471.74 74.40,471.00 C76.53,470.26 80.10,469.99 82.52,470.26 C84.94,470.52 87.88,470.96 88.90,472.59 C89.92,474.22 89.34,477.54 88.67,480.01 C87.99,482.48 86.54,485.75 84.84,487.43 C83.14,489.11 80.49,490.70 78.46,490.08 C76.43,489.46 74.11,486.28 72.66,483.72 C71.21,481.16 69.47,476.83 69.76,474.71 Z" fill="none" stroke="#333" stroke-width="0.5" opacity="0.7"/><path d="M68.64,474.81 C68.95,472.63 71.33,471.76 73.60,471.00 C75.87,470.24 79.70,469.96 82.28,470.24 C84.86,470.51 88.00,470.96 89.10,472.63 C90.20,474.31 89.58,477.72 88.85,480.26 C88.13,482.81 86.58,486.17 84.76,487.89 C82.94,489.62 80.11,491.26 77.94,490.62 C75.77,489.98 73.29,486.71 71.74,484.08 C70.19,481.45 68.33,477.00 68.64,474.81 Z" fill="none" stroke="#333" stroke-width="0.5" opacity="0.7"/><path d="M72.00,474.50 C72.25,472.50 74.17,471.70 76.00,471.00 C77.83,470.30 80.92,470.05 83.00,470.30 C85.08,470.55 87.62,470.97 88.50,472.50 C89.38,474.03 88.88,477.17 88.30,479.50 C87.72,481.83 86.47,484.92 85.00,486.50 C83.53,488.08 81.25,489.58 79.50,489.00 C77.75,488.42 75.75,485.42 74.50,483.00 C73.25,480.58 71.75,476.50 72.00,474.50 Z" fill="url(#gv2)"/><path d="M73.70,474.80 C73.90,473.20 75.43,472.56 76.90,472.00 C78.37,471.44 80.83,471.24 82.50,471.44 C84.17,471.64 86.19,471.97 86.90,473.20 C87.61,474.43 87.21,476.93 86.74,478.80 C86.27,480.67 85.27,483.13 84.10,484.40 C82.93,485.67 81.10,486.87 79.70,486.40 C78.30,485.93 76.70,483.53 75.70,481.60 C74.70,479.67 73.50,476.40 73.70,474.80 Z" fill="none" stroke="#6a6a6a" stroke-width="0.5"/><path d="M75.40,475.10 C75.55,473.90 76.70,473.42 77.80,473.00 C78.90,472.58 80.75,472.43 82.00,472.58 C83.25,472.73 84.77,472.98 85.30,473.90 C85.83,474.82 85.53,476.70 85.18,478.10 C84.83,479.50 84.08,481.35 83.20,482.30 C82.32,483.25 80.95,484.15 79.90,483.80 C78.85,483.45 77.65,481.65 76.90,480.20 C76.15,478.75 75.25,476.30 75.40,475.10 Z" fill="none" stroke="#6a6a6a" stroke-width="0.5"/><path d="M77.10,475.40 C77.20,474.60 77.97,474.28 78.70,474.00 C79.43,473.72 80.67,473.62 81.50,473.72 C82.33,473.82 83.35,473.99 83.70,474.60 C84.05,475.21 83.85,476.47 83.62,477.40 C83.39,478.33 82.89,479.57 82.30,480.20 C81.71,480.83 80.80,481.43 80.10,481.20 C79.40,480.97 78.60,479.77 78.10,478.80 C77.60,477.83 77.00,476.20 77.10,475.40 Z" fill="none" stroke="#6a6a6a" stroke-width="0.5"/><circle cx="83" cy="476.2" r="0.75" fill="#fff"/><line x1="75.7" y1="454.3" x2="75.7" y2="504.6" stroke="#3a3a3a" stroke-width="0.9"/><line x1="49.4" y1="471.6" x2="100" y2="471.6" stroke="#3a3a3a" stroke-width="0.9"/><text x="51.8" y="462.6" font-size="7.8" text-anchor="start" fill="#231f20" stroke="#231f20" stroke-width="0.15">0.6</text><text x="98.2" y="462.6" font-size="7.8" text-anchor="end" fill="#231f20" stroke="#231f20" stroke-width="0.15">6.7</text><text x="51.8" y="502.5" font-size="7.8" text-anchor="start" fill="#231f20" stroke="#231f20" stroke-width="0.15">18.5</text><text x="98.2" y="502.5" font-size="7.8" text-anchor="end" fill="#231f20" stroke="#231f20" stroke-width="0.15">74.2</text><rect x="48.9" y="512.7" width="51.1" height="51.19999999999993" fill="#fff" stroke="#3a3a3a" stroke-width="0.9"/><path d="M47.70,514.75 V562.36" stroke="#333" stroke-width="2.1" stroke-dasharray="0.8,2.6,0.9,3.9,0.8,3.2,1,4.6"/><line x1="46.3" y1="519.356" x2="48.9" y2="519.356" stroke="#333" stroke-width="0.8"/><line x1="46.3" y1="538.3" x2="48.9" y2="538.3" stroke="#333" stroke-width="0.8"/><line x1="46.3" y1="544.444" x2="48.9" y2="544.444" stroke="#333" stroke-width="0.8"/><line x1="46.3" y1="561.3399999999999" x2="48.9" y2="561.3399999999999" stroke="#333" stroke-width="0.8"/><rect x="46.699999999999996" y="548.028" width="2.2" height="2.6" fill="#2a2a2a"/><path d="M52.99,565.10 H71.89" stroke="#333" stroke-width="1.8" stroke-dasharray="1.2,0.6,0.7,0.8,1.6,0.5"/><path d="M73.43,565.00 H96.42" stroke="#444" stroke-width="1.5" stroke-dasharray="0.7,1.3,1.1,0.9"/><path d="M75.40,530.24 C76.23,528.44 78.24,526.32 79.80,525.79 C81.36,525.26 83.65,525.61 84.75,527.06 C85.85,528.51 86.40,532.01 86.40,534.48 C86.40,536.95 85.67,539.87 84.75,541.90 C83.83,543.93 82.18,546.32 80.90,546.67 C79.62,547.02 78.06,545.70 77.05,544.02 C76.04,542.34 75.12,538.90 74.85,536.60 C74.57,534.30 74.58,532.04 75.40,530.24 Z" fill="none" stroke="#333" stroke-width="0.5" opacity="0.65"/><path d="M74.80,530.48 C75.70,528.58 77.90,526.34 79.60,525.78 C81.30,525.22 83.80,525.59 85.00,527.12 C86.20,528.65 86.80,532.35 86.80,534.96 C86.80,537.57 86.00,540.65 85.00,542.80 C84.00,544.95 82.20,547.47 80.80,547.84 C79.40,548.21 77.70,546.81 76.60,545.04 C75.50,543.27 74.50,539.63 74.20,537.20 C73.90,534.77 73.90,532.38 74.80,530.48 Z" fill="none" stroke="#333" stroke-width="0.5" opacity="0.65"/><path d="M74.20,530.72 C75.18,528.71 77.56,526.35 79.40,525.76 C81.24,525.17 83.95,525.57 85.25,527.18 C86.55,528.79 87.20,532.69 87.20,535.44 C87.20,538.19 86.33,541.44 85.25,543.70 C84.17,545.96 82.22,548.62 80.70,549.01 C79.18,549.40 77.34,547.93 76.15,546.06 C74.96,544.19 73.88,540.36 73.55,537.80 C73.22,535.24 73.22,532.73 74.20,530.72 Z" fill="none" stroke="#333" stroke-width="0.5" opacity="0.65"/><path d="M76.00,530.00 C76.75,528.30 78.58,526.30 80.00,525.80 C81.42,525.30 83.50,525.63 84.50,527.00 C85.50,528.37 86.00,531.67 86.00,534.00 C86.00,536.33 85.33,539.08 84.50,541.00 C83.67,542.92 82.17,545.17 81.00,545.50 C79.83,545.83 78.42,544.58 77.50,543.00 C76.58,541.42 75.75,538.17 75.50,536.00 C75.25,533.83 75.25,531.70 76.00,530.00 Z" fill="url(#gv)"/><path d="M76.90,531.10 C77.50,529.74 78.97,528.14 80.10,527.74 C81.23,527.34 82.90,527.61 83.70,528.70 C84.50,529.79 84.90,532.43 84.90,534.30 C84.90,536.17 84.37,538.37 83.70,539.90 C83.03,541.43 81.83,543.23 80.90,543.50 C79.97,543.77 78.83,542.77 78.10,541.50 C77.37,540.23 76.70,537.63 76.50,535.90 C76.30,534.17 76.30,532.46 76.90,531.10 Z" fill="none" stroke="#6a6a6a" stroke-width="0.5"/><path d="M77.80,532.20 C78.25,531.18 79.35,529.98 80.20,529.68 C81.05,529.38 82.30,529.58 82.90,530.40 C83.50,531.22 83.80,533.20 83.80,534.60 C83.80,536.00 83.40,537.65 82.90,538.80 C82.40,539.95 81.50,541.30 80.80,541.50 C80.10,541.70 79.25,540.95 78.70,540.00 C78.15,539.05 77.65,537.10 77.50,535.80 C77.35,534.50 77.35,533.22 77.80,532.20 Z" fill="none" stroke="#6a6a6a" stroke-width="0.5"/><path d="M78.70,533.30 C79.00,532.62 79.73,531.82 80.30,531.62 C80.87,531.42 81.70,531.55 82.10,532.10 C82.50,532.65 82.70,533.97 82.70,534.90 C82.70,535.83 82.43,536.93 82.10,537.70 C81.77,538.47 81.17,539.37 80.70,539.50 C80.23,539.63 79.67,539.13 79.30,538.50 C78.93,537.87 78.60,536.57 78.50,535.70 C78.40,534.83 78.40,533.98 78.70,533.30 Z" fill="none" stroke="#6a6a6a" stroke-width="0.5"/><circle cx="82" cy="534.3" r="0.75" fill="#fff"/><line x1="75.3" y1="512.7" x2="75.3" y2="563.9" stroke="#3a3a3a" stroke-width="0.9"/><line x1="48.9" y1="530.6" x2="100" y2="530.6" stroke="#3a3a3a" stroke-width="0.9"/><text x="51.3" y="521.0" font-size="7.8" text-anchor="start" fill="#231f20" stroke="#231f20" stroke-width="0.15">0.2</text><text x="98.2" y="521.0" font-size="7.8" text-anchor="end" fill="#231f20" stroke="#231f20" stroke-width="0.15">5.8</text><text x="51.3" y="561.8" font-size="7.8" text-anchor="start" fill="#231f20" stroke="#231f20" stroke-width="0.15">7.1</text><text x="98.2" y="561.8" font-size="7.8" text-anchor="end" fill="#231f20" stroke="#231f20" stroke-width="0.15">86.8</text><text x="132.6" y="435.4" font-size="10.5" text-anchor="start" fill="#231f20" font-weight="bold" stroke="#231f20" stroke-width="0.15">H</text><text x="169.1" y="441.8" font-size="8.6" fill="#231f20" textLength="32" lengthAdjust="spacingAndGlyphs" stroke="#231f20" stroke-width="0.15">WT CD8<tspan font-size="4.6" dy="-3">+</tspan></text><rect x="169.6" y="495" width="8.200000000000017" height="3.5" fill="#978ca9"/><circle cx="171.5" cy="495.2" r="1.15" fill="#3b3b4f"/><circle cx="173.5" cy="495.6" r="1.15" fill="#3b3b4f"/><circle cx="175.5" cy="495.2" r="1.15" fill="#3b3b4f"/><rect x="182.1" y="475.2" width="8.300000000000011" height="23.30000000000001" fill="#a7cfee"/><circle cx="183" cy="476" r="1.15" fill="#3aa4dc"/><circle cx="184.7" cy="474.3" r="1.15" fill="#3aa4dc"/><circle cx="186.4" cy="475.2" r="1.15" fill="#3aa4dc"/><circle cx="188.1" cy="473.8" r="1.15" fill="#3aa4dc"/><circle cx="183.8" cy="477.8" r="1.15" fill="#3aa4dc"/><circle cx="187.3" cy="476.9" r="1.15" fill="#3aa4dc"/><circle cx="189.4" cy="475.2" r="1.15" fill="#3aa4dc"/><rect x="194.6" y="459.6" width="8.300000000000011" height="38.89999999999998" fill="#8f66a4"/><line x1="198.75" y1="459.6" x2="198.75" y2="456.1" stroke="#6c3c88" stroke-width="0.9"/><line x1="196.25" y1="456.1" x2="201.25" y2="456.1" stroke="#6c3c88" stroke-width="0.9"/><circle cx="197.7" cy="457" r="1.15" fill="#6c3c88"/><circle cx="199.4" cy="458.7" r="1.15" fill="#6c3c88"/><circle cx="201.1" cy="460.5" r="1.15" fill="#6c3c88"/><circle cx="197.7" cy="461.3" r="1.15" fill="#6c3c88"/><circle cx="202" cy="462.2" r="1.15" fill="#6c3c88"/><circle cx="198.5" cy="467.4" r="1.15" fill="#6c3c88"/><line x1="165.7" y1="447.5" x2="165.7" y2="498.5" stroke="#231f20" stroke-width="1.2"/><line x1="162.29999999999998" y1="447.5" x2="165.7" y2="447.5" stroke="#231f20" stroke-width="0.9"/><text x="160.1" y="450.3" font-size="7.4" text-anchor="end" fill="#231f20" stroke="#231f20" stroke-width="0.15">10</text><line x1="162.29999999999998" y1="457.7" x2="165.7" y2="457.7" stroke="#231f20" stroke-width="0.9"/><text x="160.1" y="460.5" font-size="7.4" text-anchor="end" fill="#231f20" stroke="#231f20" stroke-width="0.15">8</text><line x1="162.29999999999998" y1="467.9" x2="165.7" y2="467.9" stroke="#231f20" stroke-width="0.9"/><text x="160.1" y="470.7" font-size="7.4" text-anchor="end" fill="#231f20" stroke="#231f20" stroke-width="0.15">6</text><line x1="162.29999999999998" y1="478.1" x2="165.7" y2="478.1" stroke="#231f20" stroke-width="0.9"/><text x="160.1" y="480.90000000000003" font-size="7.4" text-anchor="end" fill="#231f20" stroke="#231f20" stroke-width="0.15">4</text><line x1="162.29999999999998" y1="488.3" x2="165.7" y2="488.3" stroke="#231f20" stroke-width="0.9"/><text x="160.1" y="491.1" font-size="7.4" text-anchor="end" fill="#231f20" stroke="#231f20" stroke-width="0.15">2</text><line x1="162.29999999999998" y1="498.5" x2="165.7" y2="498.5" stroke="#231f20" stroke-width="0.9"/><text x="160.1" y="501.3" font-size="7.4" text-anchor="end" fill="#231f20" stroke="#231f20" stroke-width="0.15">0</text><line x1="165.7" y1="445.5" x2="165.7" y2="447.5" stroke="#231f20" stroke-width="1.2"/><line x1="165.7" y1="498.5" x2="204.6" y2="498.5" stroke="#231f20" stroke-width="1"/><line x1="173.7" y1="498.5" x2="173.7" y2="500.5" stroke="#231f20" stroke-width="0.8"/><line x1="186.25" y1="498.5" x2="186.25" y2="500.5" stroke="#231f20" stroke-width="0.8"/><line x1="198.75" y1="498.5" x2="198.75" y2="500.5" stroke="#231f20" stroke-width="0.8"/><line x1="185.6" y1="452.7" x2="199.4" y2="452.7" stroke="#333" stroke-width="1.2"/><text x="192.5" y="452.3" font-size="9.5" text-anchor="middle" fill="#231f20" font-weight="bold" stroke="#231f20" stroke-width="0.15">***</text><rect x="169.6" y="566.4" width="8.200000000000017" height="4.0" fill="#b3a9c6"/><line x1="173.7" y1="566.4" x2="173.7" y2="563.8" stroke="#6a6080" stroke-width="0.9"/><line x1="171.2" y1="563.8" x2="176.2" y2="563.8" stroke="#6a6080" stroke-width="0.9"/><circle cx="171.7" cy="564.7" r="1.15" fill="#6a6080"/><circle cx="173.4" cy="566.4" r="1.15" fill="#6a6080"/><circle cx="175.2" cy="567.3" r="1.15" fill="#6a6080"/><circle cx="172.6" cy="568.1" r="1.15" fill="#6a6080"/><rect x="182.1" y="541.3" width="8.300000000000011" height="29.100000000000023" fill="#a7cfee"/><circle cx="183.8" cy="541.3" r="1.15" fill="#3aa4dc"/><circle cx="185.6" cy="542.2" r="1.15" fill="#3aa4dc"/><circle cx="187.3" cy="541.7" r="1.15" fill="#3aa4dc"/><circle cx="189" cy="541" r="1.15" fill="#3aa4dc"/><circle cx="184.7" cy="543.9" r="1.15" fill="#3aa4dc"/><circle cx="186.4" cy="544.8" r="1.15" fill="#3aa4dc"/><circle cx="188.1" cy="543.4" r="1.15" fill="#3aa4dc"/><rect x="194.6" y="535.8" width="8.300000000000011" height="34.60000000000002" fill="#8f66a4"/><line x1="198.75" y1="535.8" x2="198.75" y2="530.6" stroke="#6c3c88" stroke-width="0.9"/><line x1="196.25" y1="530.6" x2="201.25" y2="530.6" stroke="#6c3c88" stroke-width="0.9"/><circle cx="197.3" cy="531.8" r="1.15" fill="#6c3c88"/><circle cx="199.7" cy="533.5" r="1.15" fill="#6c3c88"/><circle cx="197.7" cy="536.1" r="1.15" fill="#6c3c88"/><circle cx="200.8" cy="537" r="1.15" fill="#6c3c88"/><circle cx="198.5" cy="538.7" r="1.15" fill="#6c3c88"/><circle cx="196.8" cy="534.4" r="1.15" fill="#6c3c88"/><line x1="165.7" y1="520.6" x2="165.7" y2="570.4" stroke="#231f20" stroke-width="1.2"/><line x1="162.29999999999998" y1="520.6" x2="165.7" y2="520.6" stroke="#231f20" stroke-width="0.9"/><text x="160.1" y="523.4" font-size="7.4" text-anchor="end" fill="#231f20" stroke="#231f20" stroke-width="0.15">10</text><line x1="162.29999999999998" y1="530.5600000000001" x2="165.7" y2="530.5600000000001" stroke="#231f20" stroke-width="0.9"/><text x="160.1" y="533.36" font-size="7.4" text-anchor="end" fill="#231f20" stroke="#231f20" stroke-width="0.15">8</text><line x1="162.29999999999998" y1="540.52" x2="165.7" y2="540.52" stroke="#231f20" stroke-width="0.9"/><text x="160.1" y="543.3199999999999" font-size="7.4" text-anchor="end" fill="#231f20" stroke="#231f20" stroke-width="0.15">6</text><line x1="162.29999999999998" y1="550.48" x2="165.7" y2="550.48" stroke="#231f20" stroke-width="0.9"/><text x="160.1" y="553.28" font-size="7.4" text-anchor="end" fill="#231f20" stroke="#231f20" stroke-width="0.15">4</text><line x1="162.29999999999998" y1="560.4399999999999" x2="165.7" y2="560.4399999999999" stroke="#231f20" stroke-width="0.9"/><text x="160.1" y="563.2399999999999" font-size="7.4" text-anchor="end" fill="#231f20" stroke="#231f20" stroke-width="0.15">2</text><line x1="162.29999999999998" y1="570.4" x2="165.7" y2="570.4" stroke="#231f20" stroke-width="0.9"/><text x="160.1" y="573.1999999999999" font-size="7.4" text-anchor="end" fill="#231f20" stroke="#231f20" stroke-width="0.15">0</text><line x1="165.7" y1="518.6" x2="165.7" y2="520.6" stroke="#231f20" stroke-width="1.2"/><line x1="165.7" y1="570.4" x2="204.6" y2="570.4" stroke="#231f20" stroke-width="1"/><line x1="173.7" y1="570.4" x2="173.7" y2="572.4" stroke="#231f20" stroke-width="0.8"/><line x1="186.25" y1="570.4" x2="186.25" y2="572.4" stroke="#231f20" stroke-width="0.8"/><line x1="198.75" y1="570.4" x2="198.75" y2="572.4" stroke="#231f20" stroke-width="0.8"/><line x1="185.6" y1="527.1" x2="199.4" y2="527.1" stroke="#333" stroke-width="1.2"/><text x="192.5" y="526.3" font-size="9.5" text-anchor="middle" fill="#231f20" font-weight="bold" stroke="#231f20" stroke-width="0.15">**</text><text x="151" y="508.9" font-size="8" text-anchor="start" fill="#231f20" textLength="13.8" lengthAdjust="spacingAndGlyphs" stroke="#231f20" stroke-width="0.15">Day</text><text x="173.4" y="508.9" font-size="8" text-anchor="middle" fill="#231f20" stroke="#231f20" stroke-width="0.15">0</text><text x="186.4" y="508.9" font-size="8" text-anchor="middle" fill="#231f20" stroke="#231f20" stroke-width="0.15">14</text><text x="198.5" y="508.9" font-size="8" text-anchor="middle" fill="#231f20" stroke="#231f20" stroke-width="0.15">28</text><text x="151" y="581.1" font-size="8" text-anchor="start" fill="#231f20" textLength="13.8" lengthAdjust="spacingAndGlyphs" stroke="#231f20" stroke-width="0.15">Day</text><text x="173.4" y="581.1" font-size="8" text-anchor="middle" fill="#231f20" stroke="#231f20" stroke-width="0.15">0</text><text x="186.4" y="581.1" font-size="8" text-anchor="middle" fill="#231f20" stroke="#231f20" stroke-width="0.15">14</text><text x="198.5" y="581.1" font-size="8" text-anchor="middle" fill="#231f20" stroke="#231f20" stroke-width="0.15">28</text><text x="145.6" y="472.7" font-size="9" text-anchor="middle" fill="#231f20" textLength="56" lengthAdjust="spacingAndGlyphs" transform="rotate(-90 145.6 472.7)" stroke="#231f20" stroke-width="0.15">TOX MFI (×10<tspan font-size="5" dy="-3">3</tspan><tspan dy="3">)</tspan></text><text x="145.6" y="544.4" font-size="9" text-anchor="middle" fill="#231f20" textLength="54.3" lengthAdjust="spacingAndGlyphs" transform="rotate(-90 145.6 544.4)" stroke="#231f20" stroke-width="0.15">TOX MFI (×10<tspan font-size="5" dy="-3">3</tspan><tspan dy="3">)</tspan></text><text x="128.8" y="471.8" font-size="8.6" text-anchor="middle" fill="#231f20" textLength="25" lengthAdjust="spacingAndGlyphs" transform="rotate(-90 128.8 471.8)" stroke="#231f20" stroke-width="0.15">Spleen</text><text x="129.3" y="543.9" font-size="8.6" text-anchor="middle" fill="#231f20" textLength="16" lengthAdjust="spacingAndGlyphs" transform="rotate(-90 129.3 543.9)" stroke="#231f20" stroke-width="0.15">Liver</text><text x="223.2" y="435.4" font-size="10.5" text-anchor="start" fill="#231f20" font-weight="bold" stroke="#231f20" stroke-width="0.15">I</text><line x1="253.7" y1="459" x2="253.7" y2="535" stroke="#231f20" stroke-width="1"/><line x1="251.29999999999998" y1="462" x2="253.7" y2="462" stroke="#231f20" stroke-width="0.9"/><text x="248.89999999999998" y="465" font-size="8.7" text-anchor="end" fill="#231f20" stroke="#231f20" stroke-width="0.15">120</text><line x1="251.29999999999998" y1="470.8" x2="253.7" y2="470.8" stroke="#231f20" stroke-width="0.9"/><text x="248.89999999999998" y="473.8" font-size="8.7" text-anchor="end" fill="#231f20" stroke="#231f20" stroke-width="0.15">110</text><line x1="251.29999999999998" y1="479.8" x2="253.7" y2="479.8" stroke="#231f20" stroke-width="0.9"/><text x="248.89999999999998" y="482.8" font-size="8.7" text-anchor="end" fill="#231f20" stroke="#231f20" stroke-width="0.15">100</text><line x1="251.29999999999998" y1="488.9" x2="253.7" y2="488.9" stroke="#231f20" stroke-width="0.9"/><text x="248.89999999999998" y="491.9" font-size="8.7" text-anchor="end" fill="#231f20" stroke="#231f20" stroke-width="0.15">90</text><line x1="251.29999999999998" y1="498" x2="253.7" y2="498" stroke="#231f20" stroke-width="0.9"/><text x="248.89999999999998" y="501" font-size="8.7" text-anchor="end" fill="#231f20" stroke="#231f20" stroke-width="0.15">80</text><line x1="251.29999999999998" y1="507" x2="253.7" y2="507" stroke="#231f20" stroke-width="0.9"/><text x="248.89999999999998" y="510" font-size="8.7" text-anchor="end" fill="#231f20" stroke="#231f20" stroke-width="0.15">70</text><line x1="251.29999999999998" y1="516.1" x2="253.7" y2="516.1" stroke="#231f20" stroke-width="0.9"/><text x="248.89999999999998" y="519.1" font-size="8.7" text-anchor="end" fill="#231f20" stroke="#231f20" stroke-width="0.15">60</text><line x1="251.29999999999998" y1="525.2" x2="253.7" y2="525.2" stroke="#231f20" stroke-width="0.9"/><text x="248.89999999999998" y="528.2" font-size="8.7" text-anchor="end" fill="#231f20" stroke="#231f20" stroke-width="0.15">50</text><line x1="253.7" y1="535" x2="358.5" y2="535" stroke="#231f20" stroke-width="1"/><line x1="253.8" y1="535" x2="253.8" y2="538" stroke="#231f20" stroke-width="0.9"/><text x="253.8" y="546" font-size="8.7" text-anchor="middle" fill="#231f20" stroke="#231f20" stroke-width="0.15">0</text><line x1="264.05" y1="535" x2="264.05" y2="538" stroke="#231f20" stroke-width="0.9"/><text x="264.05" y="546" font-size="8.7" text-anchor="middle" fill="#231f20" stroke="#231f20" stroke-width="0.15">1</text><line x1="274.3" y1="535" x2="274.3" y2="538" stroke="#231f20" stroke-width="0.9"/><text x="274.3" y="546" font-size="8.7" text-anchor="middle" fill="#231f20" stroke="#231f20" stroke-width="0.15">2</text><line x1="284.55" y1="535" x2="284.55" y2="538" stroke="#231f20" stroke-width="0.9"/><text x="284.55" y="546" font-size="8.7" text-anchor="middle" fill="#231f20" stroke="#231f20" stroke-width="0.15">3</text><line x1="294.8" y1="535" x2="294.8" y2="538" stroke="#231f20" stroke-width="0.9"/><text x="294.8" y="546" font-size="8.7" text-anchor="middle" fill="#231f20" stroke="#231f20" stroke-width="0.15">4</text><line x1="305.05" y1="535" x2="305.05" y2="538" stroke="#231f20" stroke-width="0.9"/><text x="305.05" y="546" font-size="8.7" text-anchor="middle" fill="#231f20" stroke="#231f20" stroke-width="0.15">5</text><line x1="315.3" y1="535" x2="315.3" y2="538" stroke="#231f20" stroke-width="0.9"/><text x="315.3" y="546" font-size="8.7" text-anchor="middle" fill="#231f20" stroke="#231f20" stroke-width="0.15">6</text><line x1="325.55" y1="535" x2="325.55" y2="538" stroke="#231f20" stroke-width="0.9"/><text x="325.55" y="546" font-size="8.7" text-anchor="middle" fill="#231f20" stroke="#231f20" stroke-width="0.15">7</text><line x1="335.8" y1="535" x2="335.8" y2="538" stroke="#231f20" stroke-width="0.9"/><text x="335.8" y="546" font-size="8.7" text-anchor="middle" fill="#231f20" stroke="#231f20" stroke-width="0.15">8</text><line x1="346.05" y1="535" x2="346.05" y2="538" stroke="#231f20" stroke-width="0.9"/><text x="346.05" y="546" font-size="8.7" text-anchor="middle" fill="#231f20" stroke="#231f20" stroke-width="0.15">9</text><line x1="356.3" y1="535" x2="356.3" y2="538" stroke="#231f20" stroke-width="0.9"/><text x="356.3" y="546" font-size="8.7" text-anchor="middle" fill="#231f20" stroke="#231f20" stroke-width="0.15">10</text><text x="306.8" y="557" font-size="10.2" text-anchor="middle" fill="#231f20" textLength="59" lengthAdjust="spacingAndGlyphs" stroke="#231f20" stroke-width="0.15">Weeks after HSCT</text><text x="230.6" y="496.5" font-size="9.8" text-anchor="middle" fill="#231f20" textLength="55" lengthAdjust="spacingAndGlyphs" transform="rotate(-90 230.6 496.5)" stroke="#231f20" stroke-width="0.15">Body weight (%)</text><line x1="272.8" y1="488.2" x2="272.8" y2="492.8" stroke="#5bb548" stroke-width="0.85"/><line x1="271.40000000000003" y1="488.2" x2="274.2" y2="488.2" stroke="#5bb548" stroke-width="0.85"/><line x1="271.40000000000003" y1="492.8" x2="274.2" y2="492.8" stroke="#5bb548" stroke-width="0.85"/><line x1="275.6" y1="483.475" x2="275.6" y2="491.525" stroke="#5bb548" stroke-width="0.85"/><line x1="274.20000000000005" y1="483.475" x2="277.0" y2="483.475" stroke="#5bb548" stroke-width="0.85"/><line x1="274.20000000000005" y1="491.525" x2="277.0" y2="491.525" stroke="#5bb548" stroke-width="0.85"/><line x1="279.1" y1="482.59999999999997" x2="279.1" y2="491.8" stroke="#5bb548" stroke-width="0.85"/><line x1="277.70000000000005" y1="482.59999999999997" x2="280.5" y2="482.59999999999997" stroke="#5bb548" stroke-width="0.85"/><line x1="277.70000000000005" y1="491.8" x2="280.5" y2="491.8" stroke="#5bb548" stroke-width="0.85"/><line x1="283.3" y1="484.2" x2="283.3" y2="493.40000000000003" stroke="#5bb548" stroke-width="0.85"/><line x1="281.90000000000003" y1="484.2" x2="284.7" y2="484.2" stroke="#5bb548" stroke-width="0.85"/><line x1="281.90000000000003" y1="493.40000000000003" x2="284.7" y2="493.40000000000003" stroke="#5bb548" stroke-width="0.85"/><line x1="285.7" y1="485.525" x2="285.7" y2="495.875" stroke="#5bb548" stroke-width="0.85"/><line x1="284.3" y1="485.525" x2="287.09999999999997" y2="485.525" stroke="#5bb548" stroke-width="0.85"/><line x1="284.3" y1="495.875" x2="287.09999999999997" y2="495.875" stroke="#5bb548" stroke-width="0.85"/><line x1="289.5" y1="490.25" x2="289.5" y2="501.75" stroke="#5bb548" stroke-width="0.85"/><line x1="288.1" y1="490.25" x2="290.9" y2="490.25" stroke="#5bb548" stroke-width="0.85"/><line x1="288.1" y1="501.75" x2="290.9" y2="501.75" stroke="#5bb548" stroke-width="0.85"/><line x1="293.4" y1="493.05" x2="293.4" y2="504.55" stroke="#5bb548" stroke-width="0.85"/><line x1="292.0" y1="493.05" x2="294.79999999999995" y2="493.05" stroke="#5bb548" stroke-width="0.85"/><line x1="292.0" y1="504.55" x2="294.79999999999995" y2="504.55" stroke="#5bb548" stroke-width="0.85"/><line x1="296.3" y1="493.55" x2="296.3" y2="505.05" stroke="#5bb548" stroke-width="0.85"/><line x1="294.90000000000003" y1="493.55" x2="297.7" y2="493.55" stroke="#5bb548" stroke-width="0.85"/><line x1="294.90000000000003" y1="505.05" x2="297.7" y2="505.05" stroke="#5bb548" stroke-width="0.85"/><line x1="300.1" y1="496.375" x2="300.1" y2="509.025" stroke="#5bb548" stroke-width="0.85"/><line x1="298.70000000000005" y1="496.375" x2="301.5" y2="496.375" stroke="#5bb548" stroke-width="0.85"/><line x1="298.70000000000005" y1="509.025" x2="301.5" y2="509.025" stroke="#5bb548" stroke-width="0.85"/><line x1="304" y1="500.675" x2="304" y2="513.325" stroke="#5bb548" stroke-width="0.85"/><line x1="302.6" y1="500.675" x2="305.4" y2="500.675" stroke="#5bb548" stroke-width="0.85"/><line x1="302.6" y1="513.325" x2="305.4" y2="513.325" stroke="#5bb548" stroke-width="0.85"/><line x1="307.3" y1="502.175" x2="307.3" y2="514.825" stroke="#5bb548" stroke-width="0.85"/><line x1="305.90000000000003" y1="502.175" x2="308.7" y2="502.175" stroke="#5bb548" stroke-width="0.85"/><line x1="305.90000000000003" y1="514.825" x2="308.7" y2="514.825" stroke="#5bb548" stroke-width="0.85"/><line x1="310.7" y1="505.55" x2="310.7" y2="517.05" stroke="#5bb548" stroke-width="0.85"/><line x1="309.3" y1="505.55" x2="312.09999999999997" y2="505.55" stroke="#5bb548" stroke-width="0.85"/><line x1="309.3" y1="517.05" x2="312.09999999999997" y2="517.05" stroke="#5bb548" stroke-width="0.85"/><line x1="314.3" y1="508.6" x2="314.3" y2="517.8000000000001" stroke="#5bb548" stroke-width="0.85"/><line x1="312.90000000000003" y1="508.6" x2="315.7" y2="508.6" stroke="#5bb548" stroke-width="0.85"/><line x1="312.90000000000003" y1="517.8000000000001" x2="315.7" y2="517.8000000000001" stroke="#5bb548" stroke-width="0.85"/><line x1="317.7" y1="510.975" x2="317.7" y2="519.025" stroke="#5bb548" stroke-width="0.85"/><line x1="316.3" y1="510.975" x2="319.09999999999997" y2="510.975" stroke="#5bb548" stroke-width="0.85"/><line x1="316.3" y1="519.025" x2="319.09999999999997" y2="519.025" stroke="#5bb548" stroke-width="0.85"/><line x1="321.2" y1="512.75" x2="321.2" y2="519.6500000000001" stroke="#5bb548" stroke-width="0.85"/><line x1="319.8" y1="512.75" x2="322.59999999999997" y2="512.75" stroke="#5bb548" stroke-width="0.85"/><line x1="319.8" y1="519.6500000000001" x2="322.59999999999997" y2="519.6500000000001" stroke="#5bb548" stroke-width="0.85"/><line x1="324.7" y1="514.525" x2="324.7" y2="520.275" stroke="#5bb548" stroke-width="0.85"/><line x1="323.3" y1="514.525" x2="326.09999999999997" y2="514.525" stroke="#5bb548" stroke-width="0.85"/><line x1="323.3" y1="520.275" x2="326.09999999999997" y2="520.275" stroke="#5bb548" stroke-width="0.85"/><line x1="328.1" y1="515.625" x2="328.1" y2="521.375" stroke="#5bb548" stroke-width="0.85"/><line x1="326.70000000000005" y1="515.625" x2="329.5" y2="515.625" stroke="#5bb548" stroke-width="0.85"/><line x1="326.70000000000005" y1="521.375" x2="329.5" y2="521.375" stroke="#5bb548" stroke-width="0.85"/><line x1="331.6" y1="516.825" x2="331.6" y2="522.575" stroke="#5bb548" stroke-width="0.85"/><line x1="330.20000000000005" y1="516.825" x2="333.0" y2="516.825" stroke="#5bb548" stroke-width="0.85"/><line x1="330.20000000000005" y1="522.575" x2="333.0" y2="522.575" stroke="#5bb548" stroke-width="0.85"/><line x1="335.1" y1="517.8000000000001" x2="335.1" y2="522.4" stroke="#5bb548" stroke-width="0.85"/><line x1="333.70000000000005" y1="517.8000000000001" x2="336.5" y2="517.8000000000001" stroke="#5bb548" stroke-width="0.85"/><line x1="333.70000000000005" y1="522.4" x2="336.5" y2="522.4" stroke="#5bb548" stroke-width="0.85"/><line x1="338.5" y1="518.1" x2="338.5" y2="522.6999999999999" stroke="#5bb548" stroke-width="0.85"/><line x1="337.1" y1="518.1" x2="339.9" y2="518.1" stroke="#5bb548" stroke-width="0.85"/><line x1="337.1" y1="522.6999999999999" x2="339.9" y2="522.6999999999999" stroke="#5bb548" stroke-width="0.85"/><line x1="342" y1="518.1" x2="342" y2="522.6999999999999" stroke="#5bb548" stroke-width="0.85"/><line x1="340.6" y1="518.1" x2="343.4" y2="518.1" stroke="#5bb548" stroke-width="0.85"/><line x1="340.6" y1="522.6999999999999" x2="343.4" y2="522.6999999999999" stroke="#5bb548" stroke-width="0.85"/><line x1="346.6" y1="519.0749999999999" x2="346.6" y2="522.525" stroke="#5bb548" stroke-width="0.85"/><line x1="345.20000000000005" y1="519.0749999999999" x2="348.0" y2="519.0749999999999" stroke="#5bb548" stroke-width="0.85"/><line x1="345.20000000000005" y1="522.525" x2="348.0" y2="522.525" stroke="#5bb548" stroke-width="0.85"/><line x1="350.1" y1="520.15" x2="350.1" y2="522.4499999999999" stroke="#5bb548" stroke-width="0.85"/><line x1="348.70000000000005" y1="520.15" x2="351.5" y2="520.15" stroke="#5bb548" stroke-width="0.85"/><line x1="348.70000000000005" y1="522.4499999999999" x2="351.5" y2="522.4499999999999" stroke="#5bb548" stroke-width="0.85"/><polyline points="253.70,479.80 254.60,486.50 257.80,496.30 262.40,505.80 265.30,502.90 268.70,497.10 272.80,490.50 275.60,487.50 279.10,487.20 283.30,488.80 285.70,490.70 289.50,496.00 293.40,498.80 296.30,499.30 300.10,502.70 304.00,507.00 307.30,508.50 310.70,511.30 314.30,513.20 317.70,515.00 321.20,516.20 324.70,517.40 328.10,518.50 331.60,519.70 335.10,520.10 338.50,520.40 342.00,520.40 346.60,520.80 350.10,521.30" fill="none" stroke="#5bb548" stroke-width="1.3" stroke-linejoin="round"/><rect x="252.64999999999998" y="478.75" width="2.1" height="2.1" fill="#5bb548"/><rect x="253.54999999999998" y="485.45" width="2.1" height="2.1" fill="#5bb548"/><rect x="256.75" y="495.25" width="2.1" height="2.1" fill="#5bb548"/><rect x="261.34999999999997" y="504.75" width="2.1" height="2.1" fill="#5bb548"/><rect x="264.25" y="501.84999999999997" width="2.1" height="2.1" fill="#5bb548"/><rect x="267.65" y="496.05" width="2.1" height="2.1" fill="#5bb548"/><rect x="271.75" y="489.45" width="2.1" height="2.1" fill="#5bb548"/><rect x="274.55" y="486.45" width="2.1" height="2.1" fill="#5bb548"/><rect x="278.05" y="486.15" width="2.1" height="2.1" fill="#5bb548"/><rect x="282.25" y="487.75" width="2.1" height="2.1" fill="#5bb548"/><rect x="284.65" y="489.65" width="2.1" height="2.1" fill="#5bb548"/><rect x="288.45" y="494.95" width="2.1" height="2.1" fill="#5bb548"/><rect x="292.34999999999997" y="497.75" width="2.1" height="2.1" fill="#5bb548"/><rect x="295.25" y="498.25" width="2.1" height="2.1" fill="#5bb548"/><rect x="299.05" y="501.65" width="2.1" height="2.1" fill="#5bb548"/><rect x="302.95" y="505.95" width="2.1" height="2.1" fill="#5bb548"/><rect x="306.25" y="507.45" width="2.1" height="2.1" fill="#5bb548"/><rect x="309.65" y="510.25" width="2.1" height="2.1" fill="#5bb548"/><rect x="313.25" y="512.1500000000001" width="2.1" height="2.1" fill="#5bb548"/><rect x="316.65" y="513.95" width="2.1" height="2.1" fill="#5bb548"/><rect x="320.15" y="515.1500000000001" width="2.1" height="2.1" fill="#5bb548"/><rect x="323.65" y="516.35" width="2.1" height="2.1" fill="#5bb548"/><rect x="327.05" y="517.45" width="2.1" height="2.1" fill="#5bb548"/><rect x="330.55" y="518.6500000000001" width="2.1" height="2.1" fill="#5bb548"/><rect x="334.05" y="519.0500000000001" width="2.1" height="2.1" fill="#5bb548"/><rect x="337.45" y="519.35" width="2.1" height="2.1" fill="#5bb548"/><rect x="340.95" y="519.35" width="2.1" height="2.1" fill="#5bb548"/><rect x="345.55" y="519.75" width="2.1" height="2.1" fill="#5bb548"/><rect x="349.05" y="520.25" width="2.1" height="2.1" fill="#5bb548"/><line x1="254.6" y1="485.5" x2="254.6" y2="487.5" stroke="#1f4f86" stroke-width="0.85"/><line x1="253.2" y1="485.5" x2="256.0" y2="485.5" stroke="#1f4f86" stroke-width="0.85"/><line x1="253.2" y1="487.5" x2="256.0" y2="487.5" stroke="#1f4f86" stroke-width="0.85"/><line x1="262.4" y1="504.3" x2="262.4" y2="507.3" stroke="#1f4f86" stroke-width="0.85"/><line x1="261.0" y1="504.3" x2="263.79999999999995" y2="504.3" stroke="#1f4f86" stroke-width="0.85"/><line x1="261.0" y1="507.3" x2="263.79999999999995" y2="507.3" stroke="#1f4f86" stroke-width="0.85"/><line x1="265.3" y1="501.4" x2="265.3" y2="504.4" stroke="#1f4f86" stroke-width="0.85"/><line x1="263.90000000000003" y1="501.4" x2="266.7" y2="501.4" stroke="#1f4f86" stroke-width="0.85"/><line x1="263.90000000000003" y1="504.4" x2="266.7" y2="504.4" stroke="#1f4f86" stroke-width="0.85"/><line x1="268.7" y1="495.6" x2="268.7" y2="498.6" stroke="#1f4f86" stroke-width="0.85"/><line x1="267.3" y1="495.6" x2="270.09999999999997" y2="495.6" stroke="#1f4f86" stroke-width="0.85"/><line x1="267.3" y1="498.6" x2="270.09999999999997" y2="498.6" stroke="#1f4f86" stroke-width="0.85"/><line x1="272.8" y1="489.5" x2="272.8" y2="495.5" stroke="#1f4f86" stroke-width="0.85"/><line x1="271.40000000000003" y1="489.5" x2="274.2" y2="489.5" stroke="#1f4f86" stroke-width="0.85"/><line x1="271.40000000000003" y1="495.5" x2="274.2" y2="495.5" stroke="#1f4f86" stroke-width="0.85"/><line x1="275.6" y1="488.8" x2="275.6" y2="495.8" stroke="#1f4f86" stroke-width="0.85"/><line x1="274.20000000000005" y1="488.8" x2="277.0" y2="488.8" stroke="#1f4f86" stroke-width="0.85"/><line x1="274.20000000000005" y1="495.8" x2="277.0" y2="495.8" stroke="#1f4f86" stroke-width="0.85"/><line x1="279.1" y1="489.2" x2="279.1" y2="497.2" stroke="#1f4f86" stroke-width="0.85"/><line x1="277.70000000000005" y1="489.2" x2="280.5" y2="489.2" stroke="#1f4f86" stroke-width="0.85"/><line x1="277.70000000000005" y1="497.2" x2="280.5" y2="497.2" stroke="#1f4f86" stroke-width="0.85"/><line x1="283.5" y1="493.5" x2="283.5" y2="499.5" stroke="#1f4f86" stroke-width="0.85"/><line x1="282.1" y1="493.5" x2="284.9" y2="493.5" stroke="#1f4f86" stroke-width="0.85"/><line x1="282.1" y1="499.5" x2="284.9" y2="499.5" stroke="#1f4f86" stroke-width="0.85"/><line x1="285.7" y1="495.8" x2="285.7" y2="501.8" stroke="#1f4f86" stroke-width="0.85"/><line x1="284.3" y1="495.8" x2="287.09999999999997" y2="495.8" stroke="#1f4f86" stroke-width="0.85"/><line x1="284.3" y1="501.8" x2="287.09999999999997" y2="501.8" stroke="#1f4f86" stroke-width="0.85"/><line x1="288.1" y1="502.2" x2="288.1" y2="508.2" stroke="#1f4f86" stroke-width="0.85"/><line x1="286.70000000000005" y1="502.2" x2="289.5" y2="502.2" stroke="#1f4f86" stroke-width="0.85"/><line x1="286.70000000000005" y1="508.2" x2="289.5" y2="508.2" stroke="#1f4f86" stroke-width="0.85"/><line x1="290.5" y1="505.5" x2="290.5" y2="510.5" stroke="#1f4f86" stroke-width="0.85"/><line x1="289.1" y1="505.5" x2="291.9" y2="505.5" stroke="#1f4f86" stroke-width="0.85"/><line x1="289.1" y1="510.5" x2="291.9" y2="510.5" stroke="#1f4f86" stroke-width="0.85"/><line x1="293.8" y1="509.3" x2="293.8" y2="513.3" stroke="#1f4f86" stroke-width="0.85"/><line x1="292.40000000000003" y1="509.3" x2="295.2" y2="509.3" stroke="#1f4f86" stroke-width="0.85"/><line x1="292.40000000000003" y1="513.3" x2="295.2" y2="513.3" stroke="#1f4f86" stroke-width="0.85"/><line x1="296.7" y1="512.2" x2="296.7" y2="516.2" stroke="#1f4f86" stroke-width="0.85"/><line x1="295.3" y1="512.2" x2="298.09999999999997" y2="512.2" stroke="#1f4f86" stroke-width="0.85"/><line x1="295.3" y1="516.2" x2="298.09999999999997" y2="516.2" stroke="#1f4f86" stroke-width="0.85"/><line x1="299.6" y1="515" x2="299.6" y2="519" stroke="#1f4f86" stroke-width="0.85"/><line x1="298.20000000000005" y1="515" x2="301.0" y2="515" stroke="#1f4f86" stroke-width="0.85"/><line x1="298.20000000000005" y1="519" x2="301.0" y2="519" stroke="#1f4f86" stroke-width="0.85"/><line x1="302.4" y1="516.4" x2="302.4" y2="520.4" stroke="#1f4f86" stroke-width="0.85"/><line x1="301.0" y1="516.4" x2="303.79999999999995" y2="516.4" stroke="#1f4f86" stroke-width="0.85"/><line x1="301.0" y1="520.4" x2="303.79999999999995" y2="520.4" stroke="#1f4f86" stroke-width="0.85"/><line x1="305.1" y1="518.2" x2="305.1" y2="522.2" stroke="#1f4f86" stroke-width="0.85"/><line x1="303.70000000000005" y1="518.2" x2="306.5" y2="518.2" stroke="#1f4f86" stroke-width="0.85"/><line x1="303.70000000000005" y1="522.2" x2="306.5" y2="522.2" stroke="#1f4f86" stroke-width="0.85"/><line x1="308.5" y1="519.9" x2="308.5" y2="523.9" stroke="#1f4f86" stroke-width="0.85"/><line x1="307.1" y1="519.9" x2="309.9" y2="519.9" stroke="#1f4f86" stroke-width="0.85"/><line x1="307.1" y1="523.9" x2="309.9" y2="523.9" stroke="#1f4f86" stroke-width="0.85"/><line x1="312" y1="522.3" x2="312" y2="525.3" stroke="#1f4f86" stroke-width="0.85"/><line x1="310.6" y1="522.3" x2="313.4" y2="522.3" stroke="#1f4f86" stroke-width="0.85"/><line x1="310.6" y1="525.3" x2="313.4" y2="525.3" stroke="#1f4f86" stroke-width="0.85"/><line x1="314.3" y1="523.3" x2="314.3" y2="525.3" stroke="#1f4f86" stroke-width="0.85"/><line x1="312.90000000000003" y1="523.3" x2="315.7" y2="523.3" stroke="#1f4f86" stroke-width="0.85"/><line x1="312.90000000000003" y1="525.3" x2="315.7" y2="525.3" stroke="#1f4f86" stroke-width="0.85"/><line x1="317.7" y1="524.9" x2="317.7" y2="525.9" stroke="#1f4f86" stroke-width="0.85"/><line x1="316.3" y1="524.9" x2="319.09999999999997" y2="524.9" stroke="#1f4f86" stroke-width="0.85"/><line x1="316.3" y1="525.9" x2="319.09999999999997" y2="525.9" stroke="#1f4f86" stroke-width="0.85"/><line x1="321.2" y1="526.1" x2="321.2" y2="527.1" stroke="#1f4f86" stroke-width="0.85"/><line x1="319.8" y1="526.1" x2="322.59999999999997" y2="526.1" stroke="#1f4f86" stroke-width="0.85"/><line x1="319.8" y1="527.1" x2="322.59999999999997" y2="527.1" stroke="#1f4f86" stroke-width="0.85"/><polyline points="253.70,479.80 254.60,486.50 257.80,496.30 262.40,505.80 265.30,502.90 268.70,497.10 272.80,492.50 275.60,492.30 279.10,493.20 283.50,496.50 285.70,498.80 288.10,505.20 290.50,508.00 293.80,511.30 296.70,514.20 299.60,517.00 302.40,518.40 305.10,520.20 308.50,521.90 312.00,523.80 314.30,524.30 317.70,525.40 321.20,526.60" fill="none" stroke="#1f4f86" stroke-width="1.3" stroke-linejoin="round"/><rect x="252.64999999999998" y="478.75" width="2.1" height="2.1" fill="#1f4f86"/><rect x="253.54999999999998" y="485.45" width="2.1" height="2.1" fill="#1f4f86"/><rect x="256.75" y="495.25" width="2.1" height="2.1" fill="#1f4f86"/><rect x="261.34999999999997" y="504.75" width="2.1" height="2.1" fill="#1f4f86"/><rect x="264.25" y="501.84999999999997" width="2.1" height="2.1" fill="#1f4f86"/><rect x="267.65" y="496.05" width="2.1" height="2.1" fill="#1f4f86"/><rect x="271.75" y="491.45" width="2.1" height="2.1" fill="#1f4f86"/><rect x="274.55" y="491.25" width="2.1" height="2.1" fill="#1f4f86"/><rect x="278.05" y="492.15" width="2.1" height="2.1" fill="#1f4f86"/><rect x="282.45" y="495.45" width="2.1" height="2.1" fill="#1f4f86"/><rect x="284.65" y="497.75" width="2.1" height="2.1" fill="#1f4f86"/><rect x="287.05" y="504.15" width="2.1" height="2.1" fill="#1f4f86"/><rect x="289.45" y="506.95" width="2.1" height="2.1" fill="#1f4f86"/><rect x="292.75" y="510.25" width="2.1" height="2.1" fill="#1f4f86"/><rect x="295.65" y="513.1500000000001" width="2.1" height="2.1" fill="#1f4f86"/><rect x="298.55" y="515.95" width="2.1" height="2.1" fill="#1f4f86"/><rect x="301.34999999999997" y="517.35" width="2.1" height="2.1" fill="#1f4f86"/><rect x="304.05" y="519.1500000000001" width="2.1" height="2.1" fill="#1f4f86"/><rect x="307.45" y="520.85" width="2.1" height="2.1" fill="#1f4f86"/><rect x="310.95" y="522.75" width="2.1" height="2.1" fill="#1f4f86"/><rect x="313.25" y="523.25" width="2.1" height="2.1" fill="#1f4f86"/><rect x="316.65" y="524.35" width="2.1" height="2.1" fill="#1f4f86"/><rect x="320.15" y="525.5500000000001" width="2.1" height="2.1" fill="#1f4f86"/><text x="297.6" y="491.6" font-size="9.4" text-anchor="middle" fill="#231f20" font-weight="bold" stroke="#231f20" stroke-width="0.15">**</text><text x="315.5" y="505.8" font-size="9.4" text-anchor="middle" fill="#231f20" font-weight="bold" stroke="#231f20" stroke-width="0.15">**</text><text x="256" y="528.1" font-size="8.8" fill="#1f4f86" text-anchor="start" textLength="27" lengthAdjust="spacingAndGlyphs"><tspan>α</tspan>PD-L1</text><text x="324.5" y="503" font-size="8.8" fill="#5bb548" text-anchor="start" textLength="14.5" lengthAdjust="spacingAndGlyphs">PBS</text><text x="366.0" y="435.5" font-size="10.5" text-anchor="start" fill="#231f20" font-weight="bold" stroke="#231f20" stroke-width="0.15">J</text><line x1="394.6" y1="459" x2="394.6" y2="533.8" stroke="#231f20" stroke-width="1"/><line x1="392.20000000000005" y1="461.2" x2="394.6" y2="461.2" stroke="#231f20" stroke-width="0.9"/><text x="389.8" y="464.2" font-size="8.7" text-anchor="end" fill="#231f20" stroke="#231f20" stroke-width="0.15">10</text><line x1="392.20000000000005" y1="475.7" x2="394.6" y2="475.7" stroke="#231f20" stroke-width="0.9"/><text x="389.8" y="478.7" font-size="8.7" text-anchor="end" fill="#231f20" stroke="#231f20" stroke-width="0.15">8</text><line x1="392.20000000000005" y1="490.2" x2="394.6" y2="490.2" stroke="#231f20" stroke-width="0.9"/><text x="389.8" y="493.2" font-size="8.7" text-anchor="end" fill="#231f20" stroke="#231f20" stroke-width="0.15">6</text><line x1="392.20000000000005" y1="504.7" x2="394.6" y2="504.7" stroke="#231f20" stroke-width="0.9"/><text x="389.8" y="507.7" font-size="8.7" text-anchor="end" fill="#231f20" stroke="#231f20" stroke-width="0.15">4</text><line x1="392.20000000000005" y1="519.3" x2="394.6" y2="519.3" stroke="#231f20" stroke-width="0.9"/><text x="389.8" y="522.3" font-size="8.7" text-anchor="end" fill="#231f20" stroke="#231f20" stroke-width="0.15">2</text><line x1="392.20000000000005" y1="533.8" x2="394.6" y2="533.8" stroke="#231f20" stroke-width="0.9"/><text x="389.8" y="536.8" font-size="8.7" text-anchor="end" fill="#231f20" stroke="#231f20" stroke-width="0.15">0</text><line x1="394.6" y1="533.8" x2="502" y2="533.8" stroke="#231f20" stroke-width="1"/><line x1="394.6" y1="533.8" x2="394.6" y2="536.8" stroke="#231f20" stroke-width="0.9"/><text x="394.6" y="545.5" font-size="8.7" text-anchor="middle" fill="#231f20" stroke="#231f20" stroke-width="0.15">0</text><line x1="405.12" y1="533.8" x2="405.12" y2="536.8" stroke="#231f20" stroke-width="0.9"/><text x="405.12" y="545.5" font-size="8.7" text-anchor="middle" fill="#231f20" stroke="#231f20" stroke-width="0.15">1</text><line x1="415.64000000000004" y1="533.8" x2="415.64000000000004" y2="536.8" stroke="#231f20" stroke-width="0.9"/><text x="415.64000000000004" y="545.5" font-size="8.7" text-anchor="middle" fill="#231f20" stroke="#231f20" stroke-width="0.15">2</text><line x1="426.16" y1="533.8" x2="426.16" y2="536.8" stroke="#231f20" stroke-width="0.9"/><text x="426.16" y="545.5" font-size="8.7" text-anchor="middle" fill="#231f20" stroke="#231f20" stroke-width="0.15">3</text><line x1="436.68" y1="533.8" x2="436.68" y2="536.8" stroke="#231f20" stroke-width="0.9"/><text x="436.68" y="545.5" font-size="8.7" text-anchor="middle" fill="#231f20" stroke="#231f20" stroke-width="0.15">4</text><line x1="447.20000000000005" y1="533.8" x2="447.20000000000005" y2="536.8" stroke="#231f20" stroke-width="0.9"/><text x="447.20000000000005" y="545.5" font-size="8.7" text-anchor="middle" fill="#231f20" stroke="#231f20" stroke-width="0.15">5</text><line x1="457.72" y1="533.8" x2="457.72" y2="536.8" stroke="#231f20" stroke-width="0.9"/><text x="457.72" y="545.5" font-size="8.7" text-anchor="middle" fill="#231f20" stroke="#231f20" stroke-width="0.15">6</text><line x1="468.24" y1="533.8" x2="468.24" y2="536.8" stroke="#231f20" stroke-width="0.9"/><text x="468.24" y="545.5" font-size="8.7" text-anchor="middle" fill="#231f20" stroke="#231f20" stroke-width="0.15">7</text><line x1="478.76" y1="533.8" x2="478.76" y2="536.8" stroke="#231f20" stroke-width="0.9"/><text x="478.76" y="545.5" font-size="8.7" text-anchor="middle" fill="#231f20" stroke="#231f20" stroke-width="0.15">8</text><line x1="489.28000000000003" y1="533.8" x2="489.28000000000003" y2="536.8" stroke="#231f20" stroke-width="0.9"/><text x="489.28000000000003" y="545.5" font-size="8.7" text-anchor="middle" fill="#231f20" stroke="#231f20" stroke-width="0.15">9</text><line x1="499.8" y1="533.8" x2="499.8" y2="536.8" stroke="#231f20" stroke-width="0.9"/><text x="499.8" y="545.5" font-size="8.7" text-anchor="middle" fill="#231f20" stroke="#231f20" stroke-width="0.15">10</text><text x="449" y="557" font-size="10.2" text-anchor="middle" fill="#231f20" textLength="59" lengthAdjust="spacingAndGlyphs" stroke="#231f20" stroke-width="0.15">Weeks after HSCT</text><text x="376.4" y="496.4" font-size="9.8" text-anchor="middle" fill="#231f20" textLength="47" lengthAdjust="spacingAndGlyphs" transform="rotate(-90 376.4 496.4)" stroke="#231f20" stroke-width="0.15">Clinical scores</text><line x1="399.2" y1="518.6" x2="399.2" y2="523.8000000000001" stroke="#5bb548" stroke-width="0.85"/><line x1="397.8" y1="518.6" x2="400.59999999999997" y2="518.6" stroke="#5bb548" stroke-width="0.85"/><line x1="397.8" y1="523.8000000000001" x2="400.59999999999997" y2="523.8000000000001" stroke="#5bb548" stroke-width="0.85"/><line x1="401.5" y1="517.65" x2="401.5" y2="521.5500000000001" stroke="#5bb548" stroke-width="0.85"/><line x1="400.1" y1="517.65" x2="402.9" y2="517.65" stroke="#5bb548" stroke-width="0.85"/><line x1="400.1" y1="521.5500000000001" x2="402.9" y2="521.5500000000001" stroke="#5bb548" stroke-width="0.85"/><line x1="405.4" y1="513.1999999999999" x2="405.4" y2="518.4" stroke="#5bb548" stroke-width="0.85"/><line x1="404.0" y1="513.1999999999999" x2="406.79999999999995" y2="513.1999999999999" stroke="#5bb548" stroke-width="0.85"/><line x1="404.0" y1="518.4" x2="406.79999999999995" y2="518.4" stroke="#5bb548" stroke-width="0.85"/><line x1="409.2" y1="513.1999999999999" x2="409.2" y2="518.4" stroke="#5bb548" stroke-width="0.85"/><line x1="407.8" y1="513.1999999999999" x2="410.59999999999997" y2="513.1999999999999" stroke="#5bb548" stroke-width="0.85"/><line x1="407.8" y1="518.4" x2="410.59999999999997" y2="518.4" stroke="#5bb548" stroke-width="0.85"/><line x1="413.8" y1="513.9" x2="413.8" y2="519.1" stroke="#5bb548" stroke-width="0.85"/><line x1="412.40000000000003" y1="513.9" x2="415.2" y2="513.9" stroke="#5bb548" stroke-width="0.85"/><line x1="412.40000000000003" y1="519.1" x2="415.2" y2="519.1" stroke="#5bb548" stroke-width="0.85"/><line x1="417.7" y1="514.05" x2="417.7" y2="520.55" stroke="#5bb548" stroke-width="0.85"/><line x1="416.3" y1="514.05" x2="419.09999999999997" y2="514.05" stroke="#5bb548" stroke-width="0.85"/><line x1="416.3" y1="520.55" x2="419.09999999999997" y2="520.55" stroke="#5bb548" stroke-width="0.85"/><line x1="420.8" y1="513.25" x2="420.8" y2="522.3499999999999" stroke="#5bb548" stroke-width="0.85"/><line x1="419.40000000000003" y1="513.25" x2="422.2" y2="513.25" stroke="#5bb548" stroke-width="0.85"/><line x1="419.40000000000003" y1="522.3499999999999" x2="422.2" y2="522.3499999999999" stroke="#5bb548" stroke-width="0.85"/><line x1="424.6" y1="511.3" x2="424.6" y2="521.7" stroke="#5bb548" stroke-width="0.85"/><line x1="423.20000000000005" y1="511.3" x2="426.0" y2="511.3" stroke="#5bb548" stroke-width="0.85"/><line x1="423.20000000000005" y1="521.7" x2="426.0" y2="521.7" stroke="#5bb548" stroke-width="0.85"/><line x1="428.5" y1="506.04999999999995" x2="428.5" y2="517.75" stroke="#5bb548" stroke-width="0.85"/><line x1="427.1" y1="506.04999999999995" x2="429.9" y2="506.04999999999995" stroke="#5bb548" stroke-width="0.85"/><line x1="427.1" y1="517.75" x2="429.9" y2="517.75" stroke="#5bb548" stroke-width="0.85"/><line x1="431.5" y1="500.0" x2="431.5" y2="513.0" stroke="#5bb548" stroke-width="0.85"/><line x1="430.1" y1="500.0" x2="432.9" y2="500.0" stroke="#5bb548" stroke-width="0.85"/><line x1="430.1" y1="513.0" x2="432.9" y2="513.0" stroke="#5bb548" stroke-width="0.85"/><line x1="434.6" y1="496.2" x2="434.6" y2="509.2" stroke="#5bb548" stroke-width="0.85"/><line x1="433.20000000000005" y1="496.2" x2="436.0" y2="496.2" stroke="#5bb548" stroke-width="0.85"/><line x1="433.20000000000005" y1="509.2" x2="436.0" y2="509.2" stroke="#5bb548" stroke-width="0.85"/><line x1="437.7" y1="494.7" x2="437.7" y2="507.7" stroke="#5bb548" stroke-width="0.85"/><line x1="436.3" y1="494.7" x2="439.09999999999997" y2="494.7" stroke="#5bb548" stroke-width="0.85"/><line x1="436.3" y1="507.7" x2="439.09999999999997" y2="507.7" stroke="#5bb548" stroke-width="0.85"/><line x1="440.8" y1="494.3" x2="440.8" y2="507.3" stroke="#5bb548" stroke-width="0.85"/><line x1="439.40000000000003" y1="494.3" x2="442.2" y2="494.3" stroke="#5bb548" stroke-width="0.85"/><line x1="439.40000000000003" y1="507.3" x2="442.2" y2="507.3" stroke="#5bb548" stroke-width="0.85"/><line x1="443.8" y1="493.4" x2="443.8" y2="506.4" stroke="#5bb548" stroke-width="0.85"/><line x1="442.40000000000003" y1="493.4" x2="445.2" y2="493.4" stroke="#5bb548" stroke-width="0.85"/><line x1="442.40000000000003" y1="506.4" x2="445.2" y2="506.4" stroke="#5bb548" stroke-width="0.85"/><line x1="447.7" y1="493.1" x2="447.7" y2="506.1" stroke="#5bb548" stroke-width="0.85"/><line x1="446.3" y1="493.1" x2="449.09999999999997" y2="493.1" stroke="#5bb548" stroke-width="0.85"/><line x1="446.3" y1="506.1" x2="449.09999999999997" y2="506.1" stroke="#5bb548" stroke-width="0.85"/><line x1="450.8" y1="491.45" x2="450.8" y2="503.15000000000003" stroke="#5bb548" stroke-width="0.85"/><line x1="449.40000000000003" y1="491.45" x2="452.2" y2="491.45" stroke="#5bb548" stroke-width="0.85"/><line x1="449.40000000000003" y1="503.15000000000003" x2="452.2" y2="503.15000000000003" stroke="#5bb548" stroke-width="0.85"/><line x1="453.8" y1="488.84999999999997" x2="453.8" y2="500.55" stroke="#5bb548" stroke-width="0.85"/><line x1="452.40000000000003" y1="488.84999999999997" x2="455.2" y2="488.84999999999997" stroke="#5bb548" stroke-width="0.85"/><line x1="452.40000000000003" y1="500.55" x2="455.2" y2="500.55" stroke="#5bb548" stroke-width="0.85"/><line x1="456.9" y1="486.34999999999997" x2="456.9" y2="498.05" stroke="#5bb548" stroke-width="0.85"/><line x1="455.5" y1="486.34999999999997" x2="458.29999999999995" y2="486.34999999999997" stroke="#5bb548" stroke-width="0.85"/><line x1="455.5" y1="498.05" x2="458.29999999999995" y2="498.05" stroke="#5bb548" stroke-width="0.85"/><line x1="460" y1="487.34999999999997" x2="460" y2="499.05" stroke="#5bb548" stroke-width="0.85"/><line x1="458.6" y1="487.34999999999997" x2="461.4" y2="487.34999999999997" stroke="#5bb548" stroke-width="0.85"/><line x1="458.6" y1="499.05" x2="461.4" y2="499.05" stroke="#5bb548" stroke-width="0.85"/><line x1="462.3" y1="488.34999999999997" x2="462.3" y2="500.05" stroke="#5bb548" stroke-width="0.85"/><line x1="460.90000000000003" y1="488.34999999999997" x2="463.7" y2="488.34999999999997" stroke="#5bb548" stroke-width="0.85"/><line x1="460.90000000000003" y1="500.05" x2="463.7" y2="500.05" stroke="#5bb548" stroke-width="0.85"/><line x1="465.4" y1="486.04999999999995" x2="465.4" y2="497.75" stroke="#5bb548" stroke-width="0.85"/><line x1="464.0" y1="486.04999999999995" x2="466.79999999999995" y2="486.04999999999995" stroke="#5bb548" stroke-width="0.85"/><line x1="464.0" y1="497.75" x2="466.79999999999995" y2="497.75" stroke="#5bb548" stroke-width="0.85"/><line x1="469.2" y1="483.6" x2="469.2" y2="494.0" stroke="#5bb548" stroke-width="0.85"/><line x1="467.8" y1="483.6" x2="470.59999999999997" y2="483.6" stroke="#5bb548" stroke-width="0.85"/><line x1="467.8" y1="494.0" x2="470.59999999999997" y2="494.0" stroke="#5bb548" stroke-width="0.85"/><line x1="473.5" y1="481.45" x2="473.5" y2="490.55" stroke="#5bb548" stroke-width="0.85"/><line x1="472.1" y1="481.45" x2="474.9" y2="481.45" stroke="#5bb548" stroke-width="0.85"/><line x1="472.1" y1="490.55" x2="474.9" y2="490.55" stroke="#5bb548" stroke-width="0.85"/><line x1="478.5" y1="479.20000000000005" x2="478.5" y2="487.0" stroke="#5bb548" stroke-width="0.85"/><line x1="477.1" y1="479.20000000000005" x2="479.9" y2="479.20000000000005" stroke="#5bb548" stroke-width="0.85"/><line x1="477.1" y1="487.0" x2="479.9" y2="487.0" stroke="#5bb548" stroke-width="0.85"/><line x1="483.1" y1="479.85" x2="483.1" y2="486.35" stroke="#5bb548" stroke-width="0.85"/><line x1="481.70000000000005" y1="479.85" x2="484.5" y2="479.85" stroke="#5bb548" stroke-width="0.85"/><line x1="481.70000000000005" y1="486.35" x2="484.5" y2="486.35" stroke="#5bb548" stroke-width="0.85"/><line x1="489.2" y1="479.85" x2="489.2" y2="486.35" stroke="#5bb548" stroke-width="0.85"/><line x1="487.8" y1="479.85" x2="490.59999999999997" y2="479.85" stroke="#5bb548" stroke-width="0.85"/><line x1="487.8" y1="486.35" x2="490.59999999999997" y2="486.35" stroke="#5bb548" stroke-width="0.85"/><polyline points="394.60,533.50 399.20,521.20 401.50,519.60 405.40,515.80 409.20,515.80 413.80,516.50 417.70,517.30 420.80,517.80 424.60,516.50 428.50,511.90 431.50,506.50 434.60,502.70 437.70,501.20 440.80,500.80 443.80,499.90 447.70,499.60 450.80,497.30 453.80,494.70 456.90,492.20 460.00,493.20 462.30,494.20 465.40,491.90 469.20,488.80 473.50,486.00 478.50,483.10 483.10,483.10 489.20,483.10" fill="none" stroke="#5bb548" stroke-width="1.3" stroke-linejoin="round"/><rect x="393.55" y="532.45" width="2.1" height="2.1" fill="#5bb548"/><rect x="398.15" y="520.1500000000001" width="2.1" height="2.1" fill="#5bb548"/><rect x="400.45" y="518.5500000000001" width="2.1" height="2.1" fill="#5bb548"/><rect x="404.34999999999997" y="514.75" width="2.1" height="2.1" fill="#5bb548"/><rect x="408.15" y="514.75" width="2.1" height="2.1" fill="#5bb548"/><rect x="412.75" y="515.45" width="2.1" height="2.1" fill="#5bb548"/><rect x="416.65" y="516.25" width="2.1" height="2.1" fill="#5bb548"/><rect x="419.75" y="516.75" width="2.1" height="2.1" fill="#5bb548"/><rect x="423.55" y="515.45" width="2.1" height="2.1" fill="#5bb548"/><rect x="427.45" y="510.84999999999997" width="2.1" height="2.1" fill="#5bb548"/><rect x="430.45" y="505.45" width="2.1" height="2.1" fill="#5bb548"/><rect x="433.55" y="501.65" width="2.1" height="2.1" fill="#5bb548"/><rect x="436.65" y="500.15" width="2.1" height="2.1" fill="#5bb548"/><rect x="439.75" y="499.75" width="2.1" height="2.1" fill="#5bb548"/><rect x="442.75" y="498.84999999999997" width="2.1" height="2.1" fill="#5bb548"/><rect x="446.65" y="498.55" width="2.1" height="2.1" fill="#5bb548"/><rect x="449.75" y="496.25" width="2.1" height="2.1" fill="#5bb548"/><rect x="452.75" y="493.65" width="2.1" height="2.1" fill="#5bb548"/><rect x="455.84999999999997" y="491.15" width="2.1" height="2.1" fill="#5bb548"/><rect x="458.95" y="492.15" width="2.1" height="2.1" fill="#5bb548"/><rect x="461.25" y="493.15" width="2.1" height="2.1" fill="#5bb548"/><rect x="464.34999999999997" y="490.84999999999997" width="2.1" height="2.1" fill="#5bb548"/><rect x="468.15" y="487.75" width="2.1" height="2.1" fill="#5bb548"/><rect x="472.45" y="484.95" width="2.1" height="2.1" fill="#5bb548"/><rect x="477.45" y="482.05" width="2.1" height="2.1" fill="#5bb548"/><rect x="482.05" y="482.05" width="2.1" height="2.1" fill="#5bb548"/><rect x="488.15" y="482.05" width="2.1" height="2.1" fill="#5bb548"/><line x1="399.2" y1="521.2" x2="399.2" y2="524.2" stroke="#1f4f86" stroke-width="0.85"/><line x1="397.8" y1="521.2" x2="400.59999999999997" y2="521.2" stroke="#1f4f86" stroke-width="0.85"/><line x1="397.8" y1="524.2" x2="400.59999999999997" y2="524.2" stroke="#1f4f86" stroke-width="0.85"/><line x1="403.8" y1="511.70000000000005" x2="403.8" y2="516.7" stroke="#1f4f86" stroke-width="0.85"/><line x1="402.40000000000003" y1="511.70000000000005" x2="405.2" y2="511.70000000000005" stroke="#1f4f86" stroke-width="0.85"/><line x1="402.40000000000003" y1="516.7" x2="405.2" y2="516.7" stroke="#1f4f86" stroke-width="0.85"/><line x1="409.2" y1="513.3" x2="409.2" y2="517.3" stroke="#1f4f86" stroke-width="0.85"/><line x1="407.8" y1="513.3" x2="410.59999999999997" y2="513.3" stroke="#1f4f86" stroke-width="0.85"/><line x1="407.8" y1="517.3" x2="410.59999999999997" y2="517.3" stroke="#1f4f86" stroke-width="0.85"/><line x1="413.8" y1="513.8" x2="413.8" y2="517.8" stroke="#1f4f86" stroke-width="0.85"/><line x1="412.40000000000003" y1="513.8" x2="415.2" y2="513.8" stroke="#1f4f86" stroke-width="0.85"/><line x1="412.40000000000003" y1="517.8" x2="415.2" y2="517.8" stroke="#1f4f86" stroke-width="0.85"/><line x1="417.7" y1="510.70000000000005" x2="417.7" y2="514.7" stroke="#1f4f86" stroke-width="0.85"/><line x1="416.3" y1="510.70000000000005" x2="419.09999999999997" y2="510.70000000000005" stroke="#1f4f86" stroke-width="0.85"/><line x1="416.3" y1="514.7" x2="419.09999999999997" y2="514.7" stroke="#1f4f86" stroke-width="0.85"/><line x1="420" y1="507.1" x2="420" y2="512.1" stroke="#1f4f86" stroke-width="0.85"/><line x1="418.6" y1="507.1" x2="421.4" y2="507.1" stroke="#1f4f86" stroke-width="0.85"/><line x1="418.6" y1="512.1" x2="421.4" y2="512.1" stroke="#1f4f86" stroke-width="0.85"/><line x1="423.8" y1="501.2" x2="423.8" y2="507.2" stroke="#1f4f86" stroke-width="0.85"/><line x1="422.40000000000003" y1="501.2" x2="425.2" y2="501.2" stroke="#1f4f86" stroke-width="0.85"/><line x1="422.40000000000003" y1="507.2" x2="425.2" y2="507.2" stroke="#1f4f86" stroke-width="0.85"/><line x1="426.9" y1="496.1" x2="426.9" y2="503.1" stroke="#1f4f86" stroke-width="0.85"/><line x1="425.5" y1="496.1" x2="428.29999999999995" y2="496.1" stroke="#1f4f86" stroke-width="0.85"/><line x1="425.5" y1="503.1" x2="428.29999999999995" y2="503.1" stroke="#1f4f86" stroke-width="0.85"/><line x1="428.5" y1="493.8" x2="428.5" y2="500.8" stroke="#1f4f86" stroke-width="0.85"/><line x1="427.1" y1="493.8" x2="429.9" y2="493.8" stroke="#1f4f86" stroke-width="0.85"/><line x1="427.1" y1="500.8" x2="429.9" y2="500.8" stroke="#1f4f86" stroke-width="0.85"/><line x1="431.5" y1="488.7" x2="431.5" y2="496.7" stroke="#1f4f86" stroke-width="0.85"/><line x1="430.1" y1="488.7" x2="432.9" y2="488.7" stroke="#1f4f86" stroke-width="0.85"/><line x1="430.1" y1="496.7" x2="432.9" y2="496.7" stroke="#1f4f86" stroke-width="0.85"/><line x1="434.6" y1="486.7" x2="434.6" y2="494.7" stroke="#1f4f86" stroke-width="0.85"/><line x1="433.20000000000005" y1="486.7" x2="436.0" y2="486.7" stroke="#1f4f86" stroke-width="0.85"/><line x1="433.20000000000005" y1="494.7" x2="436.0" y2="494.7" stroke="#1f4f86" stroke-width="0.85"/><line x1="437.7" y1="485.0" x2="437.7" y2="492.0" stroke="#1f4f86" stroke-width="0.85"/><line x1="436.3" y1="485.0" x2="439.09999999999997" y2="485.0" stroke="#1f4f86" stroke-width="0.85"/><line x1="436.3" y1="492.0" x2="439.09999999999997" y2="492.0" stroke="#1f4f86" stroke-width="0.85"/><line x1="440.8" y1="483.0" x2="440.8" y2="490.0" stroke="#1f4f86" stroke-width="0.85"/><line x1="439.40000000000003" y1="483.0" x2="442.2" y2="483.0" stroke="#1f4f86" stroke-width="0.85"/><line x1="439.40000000000003" y1="490.0" x2="442.2" y2="490.0" stroke="#1f4f86" stroke-width="0.85"/><line x1="443.8" y1="481.2" x2="443.8" y2="487.2" stroke="#1f4f86" stroke-width="0.85"/><line x1="442.40000000000003" y1="481.2" x2="445.2" y2="481.2" stroke="#1f4f86" stroke-width="0.85"/><line x1="442.40000000000003" y1="487.2" x2="445.2" y2="487.2" stroke="#1f4f86" stroke-width="0.85"/><line x1="446.9" y1="478.9" x2="446.9" y2="484.9" stroke="#1f4f86" stroke-width="0.85"/><line x1="445.5" y1="478.9" x2="448.29999999999995" y2="478.9" stroke="#1f4f86" stroke-width="0.85"/><line x1="445.5" y1="484.9" x2="448.29999999999995" y2="484.9" stroke="#1f4f86" stroke-width="0.85"/><line x1="450" y1="475.8" x2="450" y2="481.8" stroke="#1f4f86" stroke-width="0.85"/><line x1="448.6" y1="475.8" x2="451.4" y2="475.8" stroke="#1f4f86" stroke-width="0.85"/><line x1="448.6" y1="481.8" x2="451.4" y2="481.8" stroke="#1f4f86" stroke-width="0.85"/><line x1="453.1" y1="473.5" x2="453.1" y2="479.5" stroke="#1f4f86" stroke-width="0.85"/><line x1="451.70000000000005" y1="473.5" x2="454.5" y2="473.5" stroke="#1f4f86" stroke-width="0.85"/><line x1="451.70000000000005" y1="479.5" x2="454.5" y2="479.5" stroke="#1f4f86" stroke-width="0.85"/><line x1="456.2" y1="471.2" x2="456.2" y2="477.2" stroke="#1f4f86" stroke-width="0.85"/><line x1="454.8" y1="471.2" x2="457.59999999999997" y2="471.2" stroke="#1f4f86" stroke-width="0.85"/><line x1="454.8" y1="477.2" x2="457.59999999999997" y2="477.2" stroke="#1f4f86" stroke-width="0.85"/><line x1="459.2" y1="470.2" x2="459.2" y2="474.2" stroke="#1f4f86" stroke-width="0.85"/><line x1="457.8" y1="470.2" x2="460.59999999999997" y2="470.2" stroke="#1f4f86" stroke-width="0.85"/><line x1="457.8" y1="474.2" x2="460.59999999999997" y2="474.2" stroke="#1f4f86" stroke-width="0.85"/><line x1="462.3" y1="471.4" x2="462.3" y2="472.4" stroke="#1f4f86" stroke-width="0.85"/><line x1="460.90000000000003" y1="471.4" x2="463.7" y2="471.4" stroke="#1f4f86" stroke-width="0.85"/><line x1="460.90000000000003" y1="472.4" x2="463.7" y2="472.4" stroke="#1f4f86" stroke-width="0.85"/><polyline points="394.60,533.50 399.20,522.70 403.80,514.20 409.20,515.30 413.80,515.80 417.70,512.70 420.00,509.60 423.80,504.20 426.90,499.60 428.50,497.30 431.50,492.70 434.60,490.70 437.70,488.50 440.80,486.50 443.80,484.20 446.90,481.90 450.00,478.80 453.10,476.50 456.20,474.20 459.20,472.20 462.30,471.90" fill="none" stroke="#1f4f86" stroke-width="1.3" stroke-linejoin="round"/><rect x="393.55" y="532.45" width="2.1" height="2.1" fill="#1f4f86"/><rect x="398.15" y="521.6500000000001" width="2.1" height="2.1" fill="#1f4f86"/><rect x="402.75" y="513.1500000000001" width="2.1" height="2.1" fill="#1f4f86"/><rect x="408.15" y="514.25" width="2.1" height="2.1" fill="#1f4f86"/><rect x="412.75" y="514.75" width="2.1" height="2.1" fill="#1f4f86"/><rect x="416.65" y="511.65000000000003" width="2.1" height="2.1" fill="#1f4f86"/><rect x="418.95" y="508.55" width="2.1" height="2.1" fill="#1f4f86"/><rect x="422.75" y="503.15" width="2.1" height="2.1" fill="#1f4f86"/><rect x="425.84999999999997" y="498.55" width="2.1" height="2.1" fill="#1f4f86"/><rect x="427.45" y="496.25" width="2.1" height="2.1" fill="#1f4f86"/><rect x="430.45" y="491.65" width="2.1" height="2.1" fill="#1f4f86"/><rect x="433.55" y="489.65" width="2.1" height="2.1" fill="#1f4f86"/><rect x="436.65" y="487.45" width="2.1" height="2.1" fill="#1f4f86"/><rect x="439.75" y="485.45" width="2.1" height="2.1" fill="#1f4f86"/><rect x="442.75" y="483.15" width="2.1" height="2.1" fill="#1f4f86"/><rect x="445.84999999999997" y="480.84999999999997" width="2.1" height="2.1" fill="#1f4f86"/><rect x="448.95" y="477.75" width="2.1" height="2.1" fill="#1f4f86"/><rect x="452.05" y="475.45" width="2.1" height="2.1" fill="#1f4f86"/><rect x="455.15" y="473.15" width="2.1" height="2.1" fill="#1f4f86"/><rect x="458.15" y="471.15" width="2.1" height="2.1" fill="#1f4f86"/><rect x="461.25" y="470.84999999999997" width="2.1" height="2.1" fill="#1f4f86"/><text x="425.7" y="496.8" font-size="9.4" text-anchor="middle" fill="#231f20" font-weight="bold" stroke="#231f20" stroke-width="0.15">*</text><text x="441.5" y="481.8" font-size="9.4" text-anchor="middle" fill="#231f20" font-weight="bold" stroke="#231f20" stroke-width="0.15">**</text><text x="457.7" y="469.0" font-size="9.4" text-anchor="middle" fill="#231f20" font-weight="bold" stroke="#231f20" stroke-width="0.15">**</text><text x="403.5" y="475.8" font-size="8.8" fill="#1f4f86" text-anchor="start" textLength="26.8" lengthAdjust="spacingAndGlyphs"><tspan>α</tspan>PD-L1</text><text x="455.4" y="514.7" font-size="8.8" fill="#5bb548" text-anchor="start" textLength="14" lengthAdjust="spacingAndGlyphs">PBS</text><text x="8.3" y="604.9" font-size="10.5" text-anchor="start" fill="#231f20" font-weight="bold" stroke="#231f20" stroke-width="0.15">K</text><line x1="43.3" y1="617" x2="43.3" y2="681.5" stroke="#231f20" stroke-width="1"/><line x1="40.9" y1="619.5" x2="43.3" y2="619.5" stroke="#231f20" stroke-width="0.9"/><text x="39.699999999999996" y="622.5" font-size="8.7" text-anchor="end" fill="#231f20" stroke="#231f20" stroke-width="0.15">100</text><line x1="40.9" y1="631.9" x2="43.3" y2="631.9" stroke="#231f20" stroke-width="0.9"/><text x="39.699999999999996" y="634.9" font-size="8.7" text-anchor="end" fill="#231f20" stroke="#231f20" stroke-width="0.15">80</text><line x1="40.9" y1="644.3" x2="43.3" y2="644.3" stroke="#231f20" stroke-width="0.9"/><text x="39.699999999999996" y="647.3" font-size="8.7" text-anchor="end" fill="#231f20" stroke="#231f20" stroke-width="0.15">60</text><line x1="40.9" y1="656.7" x2="43.3" y2="656.7" stroke="#231f20" stroke-width="0.9"/><text x="39.699999999999996" y="659.7" font-size="8.7" text-anchor="end" fill="#231f20" stroke="#231f20" stroke-width="0.15">40</text><line x1="40.9" y1="669.1" x2="43.3" y2="669.1" stroke="#231f20" stroke-width="0.9"/><text x="39.699999999999996" y="672.1" font-size="8.7" text-anchor="end" fill="#231f20" stroke="#231f20" stroke-width="0.15">20</text><line x1="40.9" y1="681.5" x2="43.3" y2="681.5" stroke="#231f20" stroke-width="0.9"/><text x="39.699999999999996" y="684.5" font-size="8.7" text-anchor="end" fill="#231f20" stroke="#231f20" stroke-width="0.15">0</text><line x1="43.3" y1="681.5" x2="127" y2="681.5" stroke="#231f20" stroke-width="1"/><line x1="43.3" y1="681.5" x2="43.3" y2="684.5" stroke="#231f20" stroke-width="0.9"/><text x="43.3" y="692" font-size="8.7" text-anchor="middle" fill="#231f20" stroke="#231f20" stroke-width="0.15">0</text><line x1="51.47" y1="681.5" x2="51.47" y2="684.5" stroke="#231f20" stroke-width="0.9"/><text x="51.47" y="692" font-size="8.7" text-anchor="middle" fill="#231f20" stroke="#231f20" stroke-width="0.15">1</text><line x1="59.64" y1="681.5" x2="59.64" y2="684.5" stroke="#231f20" stroke-width="0.9"/><text x="59.64" y="692" font-size="8.7" text-anchor="middle" fill="#231f20" stroke="#231f20" stroke-width="0.15">2</text><line x1="67.81" y1="681.5" x2="67.81" y2="684.5" stroke="#231f20" stroke-width="0.9"/><text x="67.81" y="692" font-size="8.7" text-anchor="middle" fill="#231f20" stroke="#231f20" stroke-width="0.15">3</text><line x1="75.97999999999999" y1="681.5" x2="75.97999999999999" y2="684.5" stroke="#231f20" stroke-width="0.9"/><text x="75.97999999999999" y="692" font-size="8.7" text-anchor="middle" fill="#231f20" stroke="#231f20" stroke-width="0.15">4</text><line x1="84.15" y1="681.5" x2="84.15" y2="684.5" stroke="#231f20" stroke-width="0.9"/><text x="84.15" y="692" font-size="8.7" text-anchor="middle" fill="#231f20" stroke="#231f20" stroke-width="0.15">5</text><line x1="92.32" y1="681.5" x2="92.32" y2="684.5" stroke="#231f20" stroke-width="0.9"/><text x="92.32" y="692" font-size="8.7" text-anchor="middle" fill="#231f20" stroke="#231f20" stroke-width="0.15">6</text><line x1="100.49" y1="681.5" x2="100.49" y2="684.5" stroke="#231f20" stroke-width="0.9"/><text x="100.49" y="692" font-size="8.7" text-anchor="middle" fill="#231f20" stroke="#231f20" stroke-width="0.15">7</text><line x1="108.66" y1="681.5" x2="108.66" y2="684.5" stroke="#231f20" stroke-width="0.9"/><text x="108.66" y="692" font-size="8.7" text-anchor="middle" fill="#231f20" stroke="#231f20" stroke-width="0.15">8</text><line x1="116.83" y1="681.5" x2="116.83" y2="684.5" stroke="#231f20" stroke-width="0.9"/><text x="116.83" y="692" font-size="8.7" text-anchor="middle" fill="#231f20" stroke="#231f20" stroke-width="0.15">9</text><line x1="125.0" y1="681.5" x2="125.0" y2="684.5" stroke="#231f20" stroke-width="0.9"/><text x="125.0" y="692" font-size="8.7" text-anchor="middle" fill="#231f20" stroke="#231f20" stroke-width="0.15">10</text><text x="85.8" y="704" font-size="10.2" text-anchor="middle" fill="#231f20" textLength="60" lengthAdjust="spacingAndGlyphs" stroke="#231f20" stroke-width="0.15">Weeks after HSCT</text><text x="21.1" y="649.1" font-size="9.8" text-anchor="middle" fill="#231f20" textLength="40.4" lengthAdjust="spacingAndGlyphs" transform="rotate(-90 21.1 649.1)" stroke="#231f20" stroke-width="0.15">Survival (%)</text><polyline points="43.30,619.50 75.20,619.50 75.20,631.90 81.40,631.90 81.40,644.30 90.70,644.30 90.70,656.70 92.00,656.70 92.00,669.10 95.10,669.10 95.10,681.50" fill="none" stroke="#34629a" stroke-width="1.3"/><polyline points="43.30,619.50 93.50,619.50 93.50,631.90 100.80,631.90 100.80,644.30 117.20,644.30" fill="none" stroke="#5ea866" stroke-width="1.3" opacity="0.8"/><text x="100.2" y="654.2" font-size="8.8" fill="#5ea866" text-anchor="start" textLength="15.5" lengthAdjust="spacingAndGlyphs">PBS</text><text x="57.5" y="676.4" font-size="8.8" fill="#34629a" text-anchor="start" textLength="28" lengthAdjust="spacingAndGlyphs"><tspan>α</tspan>PD-L1</text><text x="100.7" y="678.6" font-size="9.4" text-anchor="middle" fill="#231f20" font-weight="bold" stroke="#231f20" stroke-width="0.15">**</text><text x="135.2" y="604.9" font-size="10.5" text-anchor="start" fill="#231f20" font-weight="bold" stroke="#231f20" stroke-width="0.15">L</text><line x1="165.2" y1="615" x2="165.2" y2="681" stroke="#231f20" stroke-width="1"/><line x1="162.79999999999998" y1="617.8" x2="165.2" y2="617.8" stroke="#231f20" stroke-width="0.9"/><text x="160.89999999999998" y="620.8" font-size="8.7" text-anchor="end" fill="#231f20" stroke="#231f20" stroke-width="0.15">120</text><line x1="162.79999999999998" y1="626.4" x2="165.2" y2="626.4" stroke="#231f20" stroke-width="0.9"/><text x="160.89999999999998" y="629.4" font-size="8.7" text-anchor="end" fill="#231f20" stroke="#231f20" stroke-width="0.15">110</text><line x1="162.79999999999998" y1="634.2" x2="165.2" y2="634.2" stroke="#231f20" stroke-width="0.9"/><text x="160.89999999999998" y="637.2" font-size="8.7" text-anchor="end" fill="#231f20" stroke="#231f20" stroke-width="0.15">100</text><line x1="162.79999999999998" y1="642" x2="165.2" y2="642" stroke="#231f20" stroke-width="0.9"/><text x="160.89999999999998" y="645" font-size="8.7" text-anchor="end" fill="#231f20" stroke="#231f20" stroke-width="0.15">90</text><line x1="162.79999999999998" y1="649.8" x2="165.2" y2="649.8" stroke="#231f20" stroke-width="0.9"/><text x="160.89999999999998" y="652.8" font-size="8.7" text-anchor="end" fill="#231f20" stroke="#231f20" stroke-width="0.15">80</text><line x1="162.79999999999998" y1="657.6" x2="165.2" y2="657.6" stroke="#231f20" stroke-width="0.9"/><text x="160.89999999999998" y="660.6" font-size="8.7" text-anchor="end" fill="#231f20" stroke="#231f20" stroke-width="0.15">70</text><line x1="162.79999999999998" y1="665.4" x2="165.2" y2="665.4" stroke="#231f20" stroke-width="0.9"/><text x="160.89999999999998" y="668.4" font-size="8.7" text-anchor="end" fill="#231f20" stroke="#231f20" stroke-width="0.15">60</text><line x1="162.79999999999998" y1="673.1" x2="165.2" y2="673.1" stroke="#231f20" stroke-width="0.9"/><text x="160.89999999999998" y="676.1" font-size="8.7" text-anchor="end" fill="#231f20" stroke="#231f20" stroke-width="0.15">50</text><line x1="165.2" y1="681" x2="257" y2="681" stroke="#231f20" stroke-width="1"/><line x1="165.2" y1="681" x2="165.2" y2="684" stroke="#231f20" stroke-width="0.9"/><text x="165.2" y="692" font-size="8.7" text-anchor="middle" fill="#231f20" stroke="#231f20" stroke-width="0.15">0</text><line x1="174.14999999999998" y1="681" x2="174.14999999999998" y2="684" stroke="#231f20" stroke-width="0.9"/><text x="174.14999999999998" y="692" font-size="8.7" text-anchor="middle" fill="#231f20" stroke="#231f20" stroke-width="0.15">1</text><line x1="183.1" y1="681" x2="183.1" y2="684" stroke="#231f20" stroke-width="0.9"/><text x="183.1" y="692" font-size="8.7" text-anchor="middle" fill="#231f20" stroke="#231f20" stroke-width="0.15">2</text><line x1="192.04999999999998" y1="681" x2="192.04999999999998" y2="684" stroke="#231f20" stroke-width="0.9"/><text x="192.04999999999998" y="692" font-size="8.7" text-anchor="middle" fill="#231f20" stroke="#231f20" stroke-width="0.15">3</text><line x1="201.0" y1="681" x2="201.0" y2="684" stroke="#231f20" stroke-width="0.9"/><text x="201.0" y="692" font-size="8.7" text-anchor="middle" fill="#231f20" stroke="#231f20" stroke-width="0.15">4</text><line x1="209.95" y1="681" x2="209.95" y2="684" stroke="#231f20" stroke-width="0.9"/><text x="209.95" y="692" font-size="8.7" text-anchor="middle" fill="#231f20" stroke="#231f20" stroke-width="0.15">5</text><line x1="218.89999999999998" y1="681" x2="218.89999999999998" y2="684" stroke="#231f20" stroke-width="0.9"/><text x="218.89999999999998" y="692" font-size="8.7" text-anchor="middle" fill="#231f20" stroke="#231f20" stroke-width="0.15">6</text><line x1="227.84999999999997" y1="681" x2="227.84999999999997" y2="684" stroke="#231f20" stroke-width="0.9"/><text x="227.84999999999997" y="692" font-size="8.7" text-anchor="middle" fill="#231f20" stroke="#231f20" stroke-width="0.15">7</text><line x1="236.79999999999998" y1="681" x2="236.79999999999998" y2="684" stroke="#231f20" stroke-width="0.9"/><text x="236.79999999999998" y="692" font-size="8.7" text-anchor="middle" fill="#231f20" stroke="#231f20" stroke-width="0.15">8</text><line x1="245.75" y1="681" x2="245.75" y2="684" stroke="#231f20" stroke-width="0.9"/><text x="245.75" y="692" font-size="8.7" text-anchor="middle" fill="#231f20" stroke="#231f20" stroke-width="0.15">9</text><line x1="254.7" y1="681" x2="254.7" y2="684" stroke="#231f20" stroke-width="0.9"/><text x="254.7" y="692" font-size="8.7" text-anchor="middle" fill="#231f20" stroke="#231f20" stroke-width="0.15">10</text><text x="209.4" y="704" font-size="10.2" text-anchor="middle" fill="#231f20" textLength="60" lengthAdjust="spacingAndGlyphs" stroke="#231f20" stroke-width="0.15">Weeks after HSCT</text><text x="142.8" y="650.1" font-size="9.8" text-anchor="middle" fill="#231f20" textLength="54.5" lengthAdjust="spacingAndGlyphs" transform="rotate(-90 142.8 650.1)" stroke="#231f20" stroke-width="0.15">Body weight (%)</text><line x1="166.9" y1="640.8000000000001" x2="166.9" y2="642.6" stroke="#5bb548" stroke-width="0.85"/><line x1="165.5" y1="640.8000000000001" x2="168.3" y2="640.8000000000001" stroke="#5bb548" stroke-width="0.85"/><line x1="165.5" y1="642.6" x2="168.3" y2="642.6" stroke="#5bb548" stroke-width="0.85"/><line x1="167.8" y1="646.9000000000001" x2="167.8" y2="648.7" stroke="#5bb548" stroke-width="0.85"/><line x1="166.4" y1="646.9000000000001" x2="169.20000000000002" y2="646.9000000000001" stroke="#5bb548" stroke-width="0.85"/><line x1="166.4" y1="648.7" x2="169.20000000000002" y2="648.7" stroke="#5bb548" stroke-width="0.85"/><line x1="170.4" y1="650.3000000000001" x2="170.4" y2="652.1" stroke="#5bb548" stroke-width="0.85"/><line x1="169.0" y1="650.3000000000001" x2="171.8" y2="650.3000000000001" stroke="#5bb548" stroke-width="0.85"/><line x1="169.0" y1="652.1" x2="171.8" y2="652.1" stroke="#5bb548" stroke-width="0.85"/><line x1="173" y1="653.65" x2="173" y2="656.35" stroke="#5bb548" stroke-width="0.85"/><line x1="171.6" y1="653.65" x2="174.4" y2="653.65" stroke="#5bb548" stroke-width="0.85"/><line x1="171.6" y1="656.35" x2="174.4" y2="656.35" stroke="#5bb548" stroke-width="0.85"/><line x1="175.2" y1="657.6500000000001" x2="175.2" y2="662.1500000000001" stroke="#5bb548" stroke-width="0.85"/><line x1="173.79999999999998" y1="657.6500000000001" x2="176.6" y2="657.6500000000001" stroke="#5bb548" stroke-width="0.85"/><line x1="173.79999999999998" y1="662.1500000000001" x2="176.6" y2="662.1500000000001" stroke="#5bb548" stroke-width="0.85"/><line x1="177.3" y1="649.4000000000001" x2="177.3" y2="653.0" stroke="#5bb548" stroke-width="0.85"/><line x1="175.9" y1="649.4000000000001" x2="178.70000000000002" y2="649.4000000000001" stroke="#5bb548" stroke-width="0.85"/><line x1="175.9" y1="653.0" x2="178.70000000000002" y2="653.0" stroke="#5bb548" stroke-width="0.85"/><line x1="179" y1="639.9" x2="179" y2="645.3000000000001" stroke="#5bb548" stroke-width="0.85"/><line x1="177.6" y1="639.9" x2="180.4" y2="639.9" stroke="#5bb548" stroke-width="0.85"/><line x1="177.6" y1="645.3000000000001" x2="180.4" y2="645.3000000000001" stroke="#5bb548" stroke-width="0.85"/><line x1="181.6" y1="634.6" x2="181.6" y2="641.8000000000001" stroke="#5bb548" stroke-width="0.85"/><line x1="180.2" y1="634.6" x2="183.0" y2="634.6" stroke="#5bb548" stroke-width="0.85"/><line x1="180.2" y1="641.8000000000001" x2="183.0" y2="641.8000000000001" stroke="#5bb548" stroke-width="0.85"/><line x1="184.2" y1="631.2" x2="184.2" y2="640.2" stroke="#5bb548" stroke-width="0.85"/><line x1="182.79999999999998" y1="631.2" x2="185.6" y2="631.2" stroke="#5bb548" stroke-width="0.85"/><line x1="182.79999999999998" y1="640.2" x2="185.6" y2="640.2" stroke="#5bb548" stroke-width="0.85"/><line x1="186.8" y1="632.0" x2="186.8" y2="641.0" stroke="#5bb548" stroke-width="0.85"/><line x1="185.4" y1="632.0" x2="188.20000000000002" y2="632.0" stroke="#5bb548" stroke-width="0.85"/><line x1="185.4" y1="641.0" x2="188.20000000000002" y2="641.0" stroke="#5bb548" stroke-width="0.85"/><line x1="189.4" y1="634.6" x2="189.4" y2="643.6" stroke="#5bb548" stroke-width="0.85"/><line x1="188.0" y1="634.6" x2="190.8" y2="634.6" stroke="#5bb548" stroke-width="0.85"/><line x1="188.0" y1="643.6" x2="190.8" y2="643.6" stroke="#5bb548" stroke-width="0.85"/><line x1="192" y1="636.0" x2="192" y2="645.0" stroke="#5bb548" stroke-width="0.85"/><line x1="190.6" y1="636.0" x2="193.4" y2="636.0" stroke="#5bb548" stroke-width="0.85"/><line x1="190.6" y1="645.0" x2="193.4" y2="645.0" stroke="#5bb548" stroke-width="0.85"/><line x1="194.6" y1="636.8000000000001" x2="194.6" y2="647.6" stroke="#5bb548" stroke-width="0.85"/><line x1="193.2" y1="636.8000000000001" x2="196.0" y2="636.8000000000001" stroke="#5bb548" stroke-width="0.85"/><line x1="193.2" y1="647.6" x2="196.0" y2="647.6" stroke="#5bb548" stroke-width="0.85"/><line x1="197.2" y1="638.6" x2="197.2" y2="649.4" stroke="#5bb548" stroke-width="0.85"/><line x1="195.79999999999998" y1="638.6" x2="198.6" y2="638.6" stroke="#5bb548" stroke-width="0.85"/><line x1="195.79999999999998" y1="649.4" x2="198.6" y2="649.4" stroke="#5bb548" stroke-width="0.85"/><line x1="199.8" y1="639.4" x2="199.8" y2="650.1999999999999" stroke="#5bb548" stroke-width="0.85"/><line x1="198.4" y1="639.4" x2="201.20000000000002" y2="639.4" stroke="#5bb548" stroke-width="0.85"/><line x1="198.4" y1="650.1999999999999" x2="201.20000000000002" y2="650.1999999999999" stroke="#5bb548" stroke-width="0.85"/><line x1="202.4" y1="640.3000000000001" x2="202.4" y2="651.1" stroke="#5bb548" stroke-width="0.85"/><line x1="201.0" y1="640.3000000000001" x2="203.8" y2="640.3000000000001" stroke="#5bb548" stroke-width="0.85"/><line x1="201.0" y1="651.1" x2="203.8" y2="651.1" stroke="#5bb548" stroke-width="0.85"/><line x1="205" y1="641.1" x2="205" y2="651.9" stroke="#5bb548" stroke-width="0.85"/><line x1="203.6" y1="641.1" x2="206.4" y2="641.1" stroke="#5bb548" stroke-width="0.85"/><line x1="203.6" y1="651.9" x2="206.4" y2="651.9" stroke="#5bb548" stroke-width="0.85"/><line x1="206.7" y1="640.6" x2="206.7" y2="651.4" stroke="#5bb548" stroke-width="0.85"/><line x1="205.29999999999998" y1="640.6" x2="208.1" y2="640.6" stroke="#5bb548" stroke-width="0.85"/><line x1="205.29999999999998" y1="651.4" x2="208.1" y2="651.4" stroke="#5bb548" stroke-width="0.85"/><line x1="209.3" y1="642.0" x2="209.3" y2="652.8" stroke="#5bb548" stroke-width="0.85"/><line x1="207.9" y1="642.0" x2="210.70000000000002" y2="642.0" stroke="#5bb548" stroke-width="0.85"/><line x1="207.9" y1="652.8" x2="210.70000000000002" y2="652.8" stroke="#5bb548" stroke-width="0.85"/><line x1="211.9" y1="644.6" x2="211.9" y2="655.4" stroke="#5bb548" stroke-width="0.85"/><line x1="210.5" y1="644.6" x2="213.3" y2="644.6" stroke="#5bb548" stroke-width="0.85"/><line x1="210.5" y1="655.4" x2="213.3" y2="655.4" stroke="#5bb548" stroke-width="0.85"/><line x1="214.5" y1="646.0" x2="214.5" y2="656.8" stroke="#5bb548" stroke-width="0.85"/><line x1="213.1" y1="646.0" x2="215.9" y2="646.0" stroke="#5bb548" stroke-width="0.85"/><line x1="213.1" y1="656.8" x2="215.9" y2="656.8" stroke="#5bb548" stroke-width="0.85"/><line x1="217.1" y1="648.1" x2="217.1" y2="657.1" stroke="#5bb548" stroke-width="0.85"/><line x1="215.7" y1="648.1" x2="218.5" y2="648.1" stroke="#5bb548" stroke-width="0.85"/><line x1="215.7" y1="657.1" x2="218.5" y2="657.1" stroke="#5bb548" stroke-width="0.85"/><line x1="219.7" y1="650.1999999999999" x2="219.7" y2="657.4" stroke="#5bb548" stroke-width="0.85"/><line x1="218.29999999999998" y1="650.1999999999999" x2="221.1" y2="650.1999999999999" stroke="#5bb548" stroke-width="0.85"/><line x1="218.29999999999998" y1="657.4" x2="221.1" y2="657.4" stroke="#5bb548" stroke-width="0.85"/><line x1="222.3" y1="652.5" x2="222.3" y2="657.9000000000001" stroke="#5bb548" stroke-width="0.85"/><line x1="220.9" y1="652.5" x2="223.70000000000002" y2="652.5" stroke="#5bb548" stroke-width="0.85"/><line x1="220.9" y1="657.9000000000001" x2="223.70000000000002" y2="657.9000000000001" stroke="#5bb548" stroke-width="0.85"/><line x1="224.9" y1="654.3000000000001" x2="224.9" y2="657.9" stroke="#5bb548" stroke-width="0.85"/><line x1="223.5" y1="654.3000000000001" x2="226.3" y2="654.3000000000001" stroke="#5bb548" stroke-width="0.85"/><line x1="223.5" y1="657.9" x2="226.3" y2="657.9" stroke="#5bb548" stroke-width="0.85"/><line x1="227.5" y1="656.7" x2="227.5" y2="660.3" stroke="#5bb548" stroke-width="0.85"/><line x1="226.1" y1="656.7" x2="228.9" y2="656.7" stroke="#5bb548" stroke-width="0.85"/><line x1="226.1" y1="660.3" x2="228.9" y2="660.3" stroke="#5bb548" stroke-width="0.85"/><line x1="230.1" y1="657.65" x2="230.1" y2="660.35" stroke="#5bb548" stroke-width="0.85"/><line x1="228.7" y1="657.65" x2="231.5" y2="657.65" stroke="#5bb548" stroke-width="0.85"/><line x1="228.7" y1="660.35" x2="231.5" y2="660.35" stroke="#5bb548" stroke-width="0.85"/><line x1="232.7" y1="658.5500000000001" x2="232.7" y2="661.2500000000001" stroke="#5bb548" stroke-width="0.85"/><line x1="231.29999999999998" y1="658.5500000000001" x2="234.1" y2="658.5500000000001" stroke="#5bb548" stroke-width="0.85"/><line x1="231.29999999999998" y1="661.2500000000001" x2="234.1" y2="661.2500000000001" stroke="#5bb548" stroke-width="0.85"/><line x1="236.1" y1="658.15" x2="236.1" y2="660.85" stroke="#5bb548" stroke-width="0.85"/><line x1="234.7" y1="658.15" x2="237.5" y2="658.15" stroke="#5bb548" stroke-width="0.85"/><line x1="234.7" y1="660.85" x2="237.5" y2="660.85" stroke="#5bb548" stroke-width="0.85"/><line x1="239.6" y1="658.5500000000001" x2="239.6" y2="661.2500000000001" stroke="#5bb548" stroke-width="0.85"/><line x1="238.2" y1="658.5500000000001" x2="241.0" y2="658.5500000000001" stroke="#5bb548" stroke-width="0.85"/><line x1="238.2" y1="661.2500000000001" x2="241.0" y2="661.2500000000001" stroke="#5bb548" stroke-width="0.85"/><line x1="243" y1="659.3000000000001" x2="243" y2="661.1" stroke="#5bb548" stroke-width="0.85"/><line x1="241.6" y1="659.3000000000001" x2="244.4" y2="659.3000000000001" stroke="#5bb548" stroke-width="0.85"/><line x1="241.6" y1="661.1" x2="244.4" y2="661.1" stroke="#5bb548" stroke-width="0.85"/><line x1="245.6" y1="659.8000000000001" x2="245.6" y2="661.6" stroke="#5bb548" stroke-width="0.85"/><line x1="244.2" y1="659.8000000000001" x2="247.0" y2="659.8000000000001" stroke="#5bb548" stroke-width="0.85"/><line x1="244.2" y1="661.6" x2="247.0" y2="661.6" stroke="#5bb548" stroke-width="0.85"/><polyline points="165.20,633.90 166.90,641.70 167.80,647.80 170.40,651.20 173.00,655.00 175.20,659.90 177.30,651.20 179.00,642.60 181.60,638.20 184.20,635.70 186.80,636.50 189.40,639.10 192.00,640.50 194.60,642.20 197.20,644.00 199.80,644.80 202.40,645.70 205.00,646.50 206.70,646.00 209.30,647.40 211.90,650.00 214.50,651.40 217.10,652.60 219.70,653.80 222.30,655.20 224.90,656.10 227.50,658.50 230.10,659.00 232.70,659.90 236.10,659.50 239.60,659.90 243.00,660.20 245.60,660.70" fill="none" stroke="#5bb548" stroke-width="1.3" stroke-linejoin="round"/><rect x="164.29999999999998" y="633.0000000000001" width="1.8" height="1.8" fill="#5bb548"/><rect x="166.0" y="640.8000000000001" width="1.8" height="1.8" fill="#5bb548"/><rect x="166.9" y="646.9000000000001" width="1.8" height="1.8" fill="#5bb548"/><rect x="169.5" y="650.3000000000001" width="1.8" height="1.8" fill="#5bb548"/><rect x="172.1" y="654.1" width="1.8" height="1.8" fill="#5bb548"/><rect x="174.29999999999998" y="659.0000000000001" width="1.8" height="1.8" fill="#5bb548"/><rect x="176.4" y="650.3000000000001" width="1.8" height="1.8" fill="#5bb548"/><rect x="178.1" y="641.7" width="1.8" height="1.8" fill="#5bb548"/><rect x="180.7" y="637.3000000000001" width="1.8" height="1.8" fill="#5bb548"/><rect x="183.29999999999998" y="634.8000000000001" width="1.8" height="1.8" fill="#5bb548"/><rect x="185.9" y="635.6" width="1.8" height="1.8" fill="#5bb548"/><rect x="188.5" y="638.2" width="1.8" height="1.8" fill="#5bb548"/><rect x="191.1" y="639.6" width="1.8" height="1.8" fill="#5bb548"/><rect x="193.7" y="641.3000000000001" width="1.8" height="1.8" fill="#5bb548"/><rect x="196.29999999999998" y="643.1" width="1.8" height="1.8" fill="#5bb548"/><rect x="198.9" y="643.9" width="1.8" height="1.8" fill="#5bb548"/><rect x="201.5" y="644.8000000000001" width="1.8" height="1.8" fill="#5bb548"/><rect x="204.1" y="645.6" width="1.8" height="1.8" fill="#5bb548"/><rect x="205.79999999999998" y="645.1" width="1.8" height="1.8" fill="#5bb548"/><rect x="208.4" y="646.5" width="1.8" height="1.8" fill="#5bb548"/><rect x="211.0" y="649.1" width="1.8" height="1.8" fill="#5bb548"/><rect x="213.6" y="650.5" width="1.8" height="1.8" fill="#5bb548"/><rect x="216.2" y="651.7" width="1.8" height="1.8" fill="#5bb548"/><rect x="218.79999999999998" y="652.9" width="1.8" height="1.8" fill="#5bb548"/><rect x="221.4" y="654.3000000000001" width="1.8" height="1.8" fill="#5bb548"/><rect x="224.0" y="655.2" width="1.8" height="1.8" fill="#5bb548"/><rect x="226.6" y="657.6" width="1.8" height="1.8" fill="#5bb548"/><rect x="229.2" y="658.1" width="1.8" height="1.8" fill="#5bb548"/><rect x="231.79999999999998" y="659.0000000000001" width="1.8" height="1.8" fill="#5bb548"/><rect x="235.2" y="658.6" width="1.8" height="1.8" fill="#5bb548"/><rect x="238.7" y="659.0000000000001" width="1.8" height="1.8" fill="#5bb548"/><rect x="242.1" y="659.3000000000001" width="1.8" height="1.8" fill="#5bb548"/><rect x="244.7" y="659.8000000000001" width="1.8" height="1.8" fill="#5bb548"/><line x1="166.9" y1="641" x2="166.9" y2="643" stroke="#1f4f86" stroke-width="0.85"/><line x1="165.5" y1="641" x2="168.3" y2="641" stroke="#1f4f86" stroke-width="0.85"/><line x1="165.5" y1="643" x2="168.3" y2="643" stroke="#1f4f86" stroke-width="0.85"/><line x1="167.8" y1="647.1" x2="167.8" y2="649.1" stroke="#1f4f86" stroke-width="0.85"/><line x1="166.4" y1="647.1" x2="169.20000000000002" y2="647.1" stroke="#1f4f86" stroke-width="0.85"/><line x1="166.4" y1="649.1" x2="169.20000000000002" y2="649.1" stroke="#1f4f86" stroke-width="0.85"/><line x1="170.4" y1="650.5" x2="170.4" y2="652.5" stroke="#1f4f86" stroke-width="0.85"/><line x1="169.0" y1="650.5" x2="171.8" y2="650.5" stroke="#1f4f86" stroke-width="0.85"/><line x1="169.0" y1="652.5" x2="171.8" y2="652.5" stroke="#1f4f86" stroke-width="0.85"/><line x1="173" y1="653.8" x2="173" y2="656.8" stroke="#1f4f86" stroke-width="0.85"/><line x1="171.6" y1="653.8" x2="174.4" y2="653.8" stroke="#1f4f86" stroke-width="0.85"/><line x1="171.6" y1="656.8" x2="174.4" y2="656.8" stroke="#1f4f86" stroke-width="0.85"/><line x1="175.2" y1="657.7" x2="175.2" y2="662.7" stroke="#1f4f86" stroke-width="0.85"/><line x1="173.79999999999998" y1="657.7" x2="176.6" y2="657.7" stroke="#1f4f86" stroke-width="0.85"/><line x1="173.79999999999998" y1="662.7" x2="176.6" y2="662.7" stroke="#1f4f86" stroke-width="0.85"/><line x1="177.3" y1="649.5" x2="177.3" y2="653.5" stroke="#1f4f86" stroke-width="0.85"/><line x1="175.9" y1="649.5" x2="178.70000000000002" y2="649.5" stroke="#1f4f86" stroke-width="0.85"/><line x1="175.9" y1="653.5" x2="178.70000000000002" y2="653.5" stroke="#1f4f86" stroke-width="0.85"/><line x1="179" y1="639.9" x2="179" y2="645.9" stroke="#1f4f86" stroke-width="0.85"/><line x1="177.6" y1="639.9" x2="180.4" y2="639.9" stroke="#1f4f86" stroke-width="0.85"/><line x1="177.6" y1="645.9" x2="180.4" y2="645.9" stroke="#1f4f86" stroke-width="0.85"/><line x1="181.6" y1="634.5" x2="181.6" y2="642.5" stroke="#1f4f86" stroke-width="0.85"/><line x1="180.2" y1="634.5" x2="183.0" y2="634.5" stroke="#1f4f86" stroke-width="0.85"/><line x1="180.2" y1="642.5" x2="183.0" y2="642.5" stroke="#1f4f86" stroke-width="0.85"/><line x1="184.2" y1="631" x2="184.2" y2="641" stroke="#1f4f86" stroke-width="0.85"/><line x1="182.79999999999998" y1="631" x2="185.6" y2="631" stroke="#1f4f86" stroke-width="0.85"/><line x1="182.79999999999998" y1="641" x2="185.6" y2="641" stroke="#1f4f86" stroke-width="0.85"/><line x1="186.8" y1="631.8" x2="186.8" y2="641.8" stroke="#1f4f86" stroke-width="0.85"/><line x1="185.4" y1="631.8" x2="188.20000000000002" y2="631.8" stroke="#1f4f86" stroke-width="0.85"/><line x1="185.4" y1="641.8" x2="188.20000000000002" y2="641.8" stroke="#1f4f86" stroke-width="0.85"/><line x1="189.4" y1="634.4" x2="189.4" y2="644.4" stroke="#1f4f86" stroke-width="0.85"/><line x1="188.0" y1="634.4" x2="190.8" y2="634.4" stroke="#1f4f86" stroke-width="0.85"/><line x1="188.0" y1="644.4" x2="190.8" y2="644.4" stroke="#1f4f86" stroke-width="0.85"/><line x1="192" y1="637" x2="192" y2="647" stroke="#1f4f86" stroke-width="0.85"/><line x1="190.6" y1="637" x2="193.4" y2="637" stroke="#1f4f86" stroke-width="0.85"/><line x1="190.6" y1="647" x2="193.4" y2="647" stroke="#1f4f86" stroke-width="0.85"/><line x1="194.6" y1="637.7" x2="194.6" y2="649.7" stroke="#1f4f86" stroke-width="0.85"/><line x1="193.2" y1="637.7" x2="196.0" y2="637.7" stroke="#1f4f86" stroke-width="0.85"/><line x1="193.2" y1="649.7" x2="196.0" y2="649.7" stroke="#1f4f86" stroke-width="0.85"/><line x1="197.2" y1="639.5" x2="197.2" y2="651.5" stroke="#1f4f86" stroke-width="0.85"/><line x1="195.79999999999998" y1="639.5" x2="198.6" y2="639.5" stroke="#1f4f86" stroke-width="0.85"/><line x1="195.79999999999998" y1="651.5" x2="198.6" y2="651.5" stroke="#1f4f86" stroke-width="0.85"/><line x1="199.8" y1="640.3" x2="199.8" y2="652.3" stroke="#1f4f86" stroke-width="0.85"/><line x1="198.4" y1="640.3" x2="201.20000000000002" y2="640.3" stroke="#1f4f86" stroke-width="0.85"/><line x1="198.4" y1="652.3" x2="201.20000000000002" y2="652.3" stroke="#1f4f86" stroke-width="0.85"/><line x1="202.4" y1="641.2" x2="202.4" y2="653.2" stroke="#1f4f86" stroke-width="0.85"/><line x1="201.0" y1="641.2" x2="203.8" y2="641.2" stroke="#1f4f86" stroke-width="0.85"/><line x1="201.0" y1="653.2" x2="203.8" y2="653.2" stroke="#1f4f86" stroke-width="0.85"/><line x1="205" y1="638.6" x2="205" y2="650.6" stroke="#1f4f86" stroke-width="0.85"/><line x1="203.6" y1="638.6" x2="206.4" y2="638.6" stroke="#1f4f86" stroke-width="0.85"/><line x1="203.6" y1="650.6" x2="206.4" y2="650.6" stroke="#1f4f86" stroke-width="0.85"/><line x1="206.7" y1="637.7" x2="206.7" y2="649.7" stroke="#1f4f86" stroke-width="0.85"/><line x1="205.29999999999998" y1="637.7" x2="208.1" y2="637.7" stroke="#1f4f86" stroke-width="0.85"/><line x1="205.29999999999998" y1="649.7" x2="208.1" y2="649.7" stroke="#1f4f86" stroke-width="0.85"/><line x1="209.3" y1="642.9" x2="209.3" y2="654.9" stroke="#1f4f86" stroke-width="0.85"/><line x1="207.9" y1="642.9" x2="210.70000000000002" y2="642.9" stroke="#1f4f86" stroke-width="0.85"/><line x1="207.9" y1="654.9" x2="210.70000000000002" y2="654.9" stroke="#1f4f86" stroke-width="0.85"/><line x1="211.9" y1="645.5" x2="211.9" y2="657.5" stroke="#1f4f86" stroke-width="0.85"/><line x1="210.5" y1="645.5" x2="213.3" y2="645.5" stroke="#1f4f86" stroke-width="0.85"/><line x1="210.5" y1="657.5" x2="213.3" y2="657.5" stroke="#1f4f86" stroke-width="0.85"/><line x1="214.5" y1="646.9" x2="214.5" y2="658.9" stroke="#1f4f86" stroke-width="0.85"/><line x1="213.1" y1="646.9" x2="215.9" y2="646.9" stroke="#1f4f86" stroke-width="0.85"/><line x1="213.1" y1="658.9" x2="215.9" y2="658.9" stroke="#1f4f86" stroke-width="0.85"/><line x1="217.1" y1="649.1" x2="217.1" y2="659.1" stroke="#1f4f86" stroke-width="0.85"/><line x1="215.7" y1="649.1" x2="218.5" y2="649.1" stroke="#1f4f86" stroke-width="0.85"/><line x1="215.7" y1="659.1" x2="218.5" y2="659.1" stroke="#1f4f86" stroke-width="0.85"/><line x1="219.7" y1="651.3" x2="219.7" y2="659.3" stroke="#1f4f86" stroke-width="0.85"/><line x1="218.29999999999998" y1="651.3" x2="221.1" y2="651.3" stroke="#1f4f86" stroke-width="0.85"/><line x1="218.29999999999998" y1="659.3" x2="221.1" y2="659.3" stroke="#1f4f86" stroke-width="0.85"/><line x1="222.3" y1="653.7" x2="222.3" y2="659.7" stroke="#1f4f86" stroke-width="0.85"/><line x1="220.9" y1="653.7" x2="223.70000000000002" y2="653.7" stroke="#1f4f86" stroke-width="0.85"/><line x1="220.9" y1="659.7" x2="223.70000000000002" y2="659.7" stroke="#1f4f86" stroke-width="0.85"/><line x1="224.9" y1="655.6" x2="224.9" y2="659.6" stroke="#1f4f86" stroke-width="0.85"/><line x1="223.5" y1="655.6" x2="226.3" y2="655.6" stroke="#1f4f86" stroke-width="0.85"/><line x1="223.5" y1="659.6" x2="226.3" y2="659.6" stroke="#1f4f86" stroke-width="0.85"/><line x1="227.5" y1="656.8" x2="227.5" y2="660.8" stroke="#1f4f86" stroke-width="0.85"/><line x1="226.1" y1="656.8" x2="228.9" y2="656.8" stroke="#1f4f86" stroke-width="0.85"/><line x1="226.1" y1="660.8" x2="228.9" y2="660.8" stroke="#1f4f86" stroke-width="0.85"/><line x1="230.1" y1="657.8" x2="230.1" y2="660.8" stroke="#1f4f86" stroke-width="0.85"/><line x1="228.7" y1="657.8" x2="231.5" y2="657.8" stroke="#1f4f86" stroke-width="0.85"/><line x1="228.7" y1="660.8" x2="231.5" y2="660.8" stroke="#1f4f86" stroke-width="0.85"/><line x1="232.7" y1="658.7" x2="232.7" y2="661.7" stroke="#1f4f86" stroke-width="0.85"/><line x1="231.29999999999998" y1="658.7" x2="234.1" y2="658.7" stroke="#1f4f86" stroke-width="0.85"/><line x1="231.29999999999998" y1="661.7" x2="234.1" y2="661.7" stroke="#1f4f86" stroke-width="0.85"/><line x1="236.1" y1="658.3" x2="236.1" y2="661.3" stroke="#1f4f86" stroke-width="0.85"/><line x1="234.7" y1="658.3" x2="237.5" y2="658.3" stroke="#1f4f86" stroke-width="0.85"/><line x1="234.7" y1="661.3" x2="237.5" y2="661.3" stroke="#1f4f86" stroke-width="0.85"/><line x1="239.6" y1="658.7" x2="239.6" y2="661.7" stroke="#1f4f86" stroke-width="0.85"/><line x1="238.2" y1="658.7" x2="241.0" y2="658.7" stroke="#1f4f86" stroke-width="0.85"/><line x1="238.2" y1="661.7" x2="241.0" y2="661.7" stroke="#1f4f86" stroke-width="0.85"/><line x1="243" y1="659.5" x2="243" y2="661.5" stroke="#1f4f86" stroke-width="0.85"/><line x1="241.6" y1="659.5" x2="244.4" y2="659.5" stroke="#1f4f86" stroke-width="0.85"/><line x1="241.6" y1="661.5" x2="244.4" y2="661.5" stroke="#1f4f86" stroke-width="0.85"/><line x1="245.6" y1="660" x2="245.6" y2="662" stroke="#1f4f86" stroke-width="0.85"/><line x1="244.2" y1="660" x2="247.0" y2="660" stroke="#1f4f86" stroke-width="0.85"/><line x1="244.2" y1="662" x2="247.0" y2="662" stroke="#1f4f86" stroke-width="0.85"/><polyline points="165.20,634.20 166.90,642.00 167.80,648.10 170.40,651.50 173.00,655.30 175.20,660.20 177.30,651.50 179.00,642.90 181.60,638.50 184.20,636.00 186.80,636.80 189.40,639.40 192.00,642.00 194.60,643.70 197.20,645.50 199.80,646.30 202.40,647.20 205.00,644.60 206.70,643.70 209.30,648.90 211.90,651.50 214.50,652.90 217.10,654.10 219.70,655.30 222.30,656.70 224.90,657.60 227.50,658.80 230.10,659.30 232.70,660.20 236.10,659.80 239.60,660.20 243.00,660.50 245.60,661.00" fill="none" stroke="#1f4f86" stroke-width="1.3" stroke-linejoin="round"/><rect x="164.29999999999998" y="633.3000000000001" width="1.8" height="1.8" fill="#1f4f86"/><rect x="166.0" y="641.1" width="1.8" height="1.8" fill="#1f4f86"/><rect x="166.9" y="647.2" width="1.8" height="1.8" fill="#1f4f86"/><rect x="169.5" y="650.6" width="1.8" height="1.8" fill="#1f4f86"/><rect x="172.1" y="654.4" width="1.8" height="1.8" fill="#1f4f86"/><rect x="174.29999999999998" y="659.3000000000001" width="1.8" height="1.8" fill="#1f4f86"/><rect x="176.4" y="650.6" width="1.8" height="1.8" fill="#1f4f86"/><rect x="178.1" y="642.0" width="1.8" height="1.8" fill="#1f4f86"/><rect x="180.7" y="637.6" width="1.8" height="1.8" fill="#1f4f86"/><rect x="183.29999999999998" y="635.1" width="1.8" height="1.8" fill="#1f4f86"/><rect x="185.9" y="635.9" width="1.8" height="1.8" fill="#1f4f86"/><rect x="188.5" y="638.5" width="1.8" height="1.8" fill="#1f4f86"/><rect x="191.1" y="641.1" width="1.8" height="1.8" fill="#1f4f86"/><rect x="193.7" y="642.8000000000001" width="1.8" height="1.8" fill="#1f4f86"/><rect x="196.29999999999998" y="644.6" width="1.8" height="1.8" fill="#1f4f86"/><rect x="198.9" y="645.4" width="1.8" height="1.8" fill="#1f4f86"/><rect x="201.5" y="646.3000000000001" width="1.8" height="1.8" fill="#1f4f86"/><rect x="204.1" y="643.7" width="1.8" height="1.8" fill="#1f4f86"/><rect x="205.79999999999998" y="642.8000000000001" width="1.8" height="1.8" fill="#1f4f86"/><rect x="208.4" y="648.0" width="1.8" height="1.8" fill="#1f4f86"/><rect x="211.0" y="650.6" width="1.8" height="1.8" fill="#1f4f86"/><rect x="213.6" y="652.0" width="1.8" height="1.8" fill="#1f4f86"/><rect x="216.2" y="653.2" width="1.8" height="1.8" fill="#1f4f86"/><rect x="218.79999999999998" y="654.4" width="1.8" height="1.8" fill="#1f4f86"/><rect x="221.4" y="655.8000000000001" width="1.8" height="1.8" fill="#1f4f86"/><rect x="224.0" y="656.7" width="1.8" height="1.8" fill="#1f4f86"/><rect x="226.6" y="657.9" width="1.8" height="1.8" fill="#1f4f86"/><rect x="229.2" y="658.4" width="1.8" height="1.8" fill="#1f4f86"/><rect x="231.79999999999998" y="659.3000000000001" width="1.8" height="1.8" fill="#1f4f86"/><rect x="235.2" y="658.9" width="1.8" height="1.8" fill="#1f4f86"/><rect x="238.7" y="659.3000000000001" width="1.8" height="1.8" fill="#1f4f86"/><rect x="242.1" y="659.6" width="1.8" height="1.8" fill="#1f4f86"/><rect x="244.7" y="660.1" width="1.8" height="1.8" fill="#1f4f86"/><text x="219.7" y="650.7" font-size="8.8" fill="#5bb548" text-anchor="start" textLength="14.7" lengthAdjust="spacingAndGlyphs">PBS</text><text x="201.5" y="672" font-size="8.8" fill="#1f4f86" text-anchor="start" textLength="26.3" lengthAdjust="spacingAndGlyphs"><tspan>α</tspan>PD-L1</text><text x="266.2" y="605" font-size="10.5" text-anchor="start" fill="#231f20" font-weight="bold" stroke="#231f20" stroke-width="0.15">M</text><line x1="287.3" y1="616" x2="287.3" y2="681" stroke="#231f20" stroke-width="1"/><line x1="284.90000000000003" y1="618.7" x2="287.3" y2="618.7" stroke="#231f20" stroke-width="0.9"/><text x="282.5" y="621.7" font-size="8.7" text-anchor="end" fill="#231f20" stroke="#231f20" stroke-width="0.15">8</text><line x1="284.90000000000003" y1="634.6" x2="287.3" y2="634.6" stroke="#231f20" stroke-width="0.9"/><text x="282.5" y="637.6" font-size="8.7" text-anchor="end" fill="#231f20" stroke="#231f20" stroke-width="0.15">6</text><line x1="284.90000000000003" y1="650.3" x2="287.3" y2="650.3" stroke="#231f20" stroke-width="0.9"/><text x="282.5" y="653.3" font-size="8.7" text-anchor="end" fill="#231f20" stroke="#231f20" stroke-width="0.15">4</text><line x1="284.90000000000003" y1="665.7" x2="287.3" y2="665.7" stroke="#231f20" stroke-width="0.9"/><text x="282.5" y="668.7" font-size="8.7" text-anchor="end" fill="#231f20" stroke="#231f20" stroke-width="0.15">2</text><line x1="284.90000000000003" y1="681" x2="287.3" y2="681" stroke="#231f20" stroke-width="0.9"/><text x="282.5" y="684" font-size="8.7" text-anchor="end" fill="#231f20" stroke="#231f20" stroke-width="0.15">0</text><line x1="287.3" y1="681" x2="379" y2="681" stroke="#231f20" stroke-width="1"/><line x1="287.3" y1="681" x2="287.3" y2="684" stroke="#231f20" stroke-width="0.9"/><text x="287.3" y="692" font-size="8.7" text-anchor="middle" fill="#231f20" stroke="#231f20" stroke-width="0.15">0</text><line x1="296.22" y1="681" x2="296.22" y2="684" stroke="#231f20" stroke-width="0.9"/><text x="296.22" y="692" font-size="8.7" text-anchor="middle" fill="#231f20" stroke="#231f20" stroke-width="0.15">1</text><line x1="305.14" y1="681" x2="305.14" y2="684" stroke="#231f20" stroke-width="0.9"/><text x="305.14" y="692" font-size="8.7" text-anchor="middle" fill="#231f20" stroke="#231f20" stroke-width="0.15">2</text><line x1="314.06" y1="681" x2="314.06" y2="684" stroke="#231f20" stroke-width="0.9"/><text x="314.06" y="692" font-size="8.7" text-anchor="middle" fill="#231f20" stroke="#231f20" stroke-width="0.15">3</text><line x1="322.98" y1="681" x2="322.98" y2="684" stroke="#231f20" stroke-width="0.9"/><text x="322.98" y="692" font-size="8.7" text-anchor="middle" fill="#231f20" stroke="#231f20" stroke-width="0.15">4</text><line x1="331.90000000000003" y1="681" x2="331.90000000000003" y2="684" stroke="#231f20" stroke-width="0.9"/><text x="331.90000000000003" y="692" font-size="8.7" text-anchor="middle" fill="#231f20" stroke="#231f20" stroke-width="0.15">5</text><line x1="340.82" y1="681" x2="340.82" y2="684" stroke="#231f20" stroke-width="0.9"/><text x="340.82" y="692" font-size="8.7" text-anchor="middle" fill="#231f20" stroke="#231f20" stroke-width="0.15">6</text><line x1="349.74" y1="681" x2="349.74" y2="684" stroke="#231f20" stroke-width="0.9"/><text x="349.74" y="692" font-size="8.7" text-anchor="middle" fill="#231f20" stroke="#231f20" stroke-width="0.15">7</text><line x1="358.66" y1="681" x2="358.66" y2="684" stroke="#231f20" stroke-width="0.9"/><text x="358.66" y="692" font-size="8.7" text-anchor="middle" fill="#231f20" stroke="#231f20" stroke-width="0.15">8</text><line x1="367.58000000000004" y1="681" x2="367.58000000000004" y2="684" stroke="#231f20" stroke-width="0.9"/><text x="367.58000000000004" y="692" font-size="8.7" text-anchor="middle" fill="#231f20" stroke="#231f20" stroke-width="0.15">9</text><line x1="376.5" y1="681" x2="376.5" y2="684" stroke="#231f20" stroke-width="0.9"/><text x="376.5" y="692" font-size="8.7" text-anchor="middle" fill="#231f20" stroke="#231f20" stroke-width="0.15">10</text><text x="333" y="704" font-size="10.2" text-anchor="middle" fill="#231f20" textLength="60" lengthAdjust="spacingAndGlyphs" stroke="#231f20" stroke-width="0.15">Weeks after HSCT</text><text x="273.6" y="650.5" font-size="9.8" text-anchor="middle" fill="#231f20" textLength="47" lengthAdjust="spacingAndGlyphs" transform="rotate(-90 273.6 650.5)" stroke="#231f20" stroke-width="0.15">Clinical scores</text><line x1="290.8" y1="667.7" x2="290.8" y2="671.7" stroke="#5bb548" stroke-width="0.85"/><line x1="289.40000000000003" y1="667.7" x2="292.2" y2="667.7" stroke="#5bb548" stroke-width="0.85"/><line x1="289.40000000000003" y1="671.7" x2="292.2" y2="671.7" stroke="#5bb548" stroke-width="0.85"/><line x1="294.2" y1="664.6" x2="294.2" y2="669.6" stroke="#5bb548" stroke-width="0.85"/><line x1="292.8" y1="664.6" x2="295.59999999999997" y2="664.6" stroke="#5bb548" stroke-width="0.85"/><line x1="292.8" y1="669.6" x2="295.59999999999997" y2="669.6" stroke="#5bb548" stroke-width="0.85"/><line x1="296.8" y1="662.4" x2="296.8" y2="668.4" stroke="#5bb548" stroke-width="0.85"/><line x1="295.40000000000003" y1="662.4" x2="298.2" y2="662.4" stroke="#5bb548" stroke-width="0.85"/><line x1="295.40000000000003" y1="668.4" x2="298.2" y2="668.4" stroke="#5bb548" stroke-width="0.85"/><line x1="300.3" y1="665.8" x2="300.3" y2="671.8" stroke="#5bb548" stroke-width="0.85"/><line x1="298.90000000000003" y1="665.8" x2="301.7" y2="665.8" stroke="#5bb548" stroke-width="0.85"/><line x1="298.90000000000003" y1="671.8" x2="301.7" y2="671.8" stroke="#5bb548" stroke-width="0.85"/><line x1="303.8" y1="666.7" x2="303.8" y2="672.7" stroke="#5bb548" stroke-width="0.85"/><line x1="302.40000000000003" y1="666.7" x2="305.2" y2="666.7" stroke="#5bb548" stroke-width="0.85"/><line x1="302.40000000000003" y1="672.7" x2="305.2" y2="672.7" stroke="#5bb548" stroke-width="0.85"/><line x1="307.2" y1="661.9" x2="307.2" y2="668.9" stroke="#5bb548" stroke-width="0.85"/><line x1="305.8" y1="661.9" x2="308.59999999999997" y2="661.9" stroke="#5bb548" stroke-width="0.85"/><line x1="305.8" y1="668.9" x2="308.59999999999997" y2="668.9" stroke="#5bb548" stroke-width="0.85"/><line x1="310.7" y1="657" x2="310.7" y2="665" stroke="#5bb548" stroke-width="0.85"/><line x1="309.3" y1="657" x2="312.09999999999997" y2="657" stroke="#5bb548" stroke-width="0.85"/><line x1="309.3" y1="665" x2="312.09999999999997" y2="665" stroke="#5bb548" stroke-width="0.85"/><line x1="314.1" y1="651.7" x2="314.1" y2="661.7" stroke="#5bb548" stroke-width="0.85"/><line x1="312.70000000000005" y1="651.7" x2="315.5" y2="651.7" stroke="#5bb548" stroke-width="0.85"/><line x1="312.70000000000005" y1="661.7" x2="315.5" y2="661.7" stroke="#5bb548" stroke-width="0.85"/><line x1="317.6" y1="646.9" x2="317.6" y2="657.9" stroke="#5bb548" stroke-width="0.85"/><line x1="316.20000000000005" y1="646.9" x2="319.0" y2="646.9" stroke="#5bb548" stroke-width="0.85"/><line x1="316.20000000000005" y1="657.9" x2="319.0" y2="657.9" stroke="#5bb548" stroke-width="0.85"/><line x1="321.1" y1="642.9" x2="321.1" y2="654.9" stroke="#5bb548" stroke-width="0.85"/><line x1="319.70000000000005" y1="642.9" x2="322.5" y2="642.9" stroke="#5bb548" stroke-width="0.85"/><line x1="319.70000000000005" y1="654.9" x2="322.5" y2="654.9" stroke="#5bb548" stroke-width="0.85"/><line x1="324.5" y1="639.8" x2="324.5" y2="652.8" stroke="#5bb548" stroke-width="0.85"/><line x1="323.1" y1="639.8" x2="325.9" y2="639.8" stroke="#5bb548" stroke-width="0.85"/><line x1="323.1" y1="652.8" x2="325.9" y2="652.8" stroke="#5bb548" stroke-width="0.85"/><line x1="328" y1="641.6" x2="328" y2="654.6" stroke="#5bb548" stroke-width="0.85"/><line x1="326.6" y1="641.6" x2="329.4" y2="641.6" stroke="#5bb548" stroke-width="0.85"/><line x1="326.6" y1="654.6" x2="329.4" y2="654.6" stroke="#5bb548" stroke-width="0.85"/><line x1="331.4" y1="638.1" x2="331.4" y2="651.1" stroke="#5bb548" stroke-width="0.85"/><line x1="330.0" y1="638.1" x2="332.79999999999995" y2="638.1" stroke="#5bb548" stroke-width="0.85"/><line x1="330.0" y1="651.1" x2="332.79999999999995" y2="651.1" stroke="#5bb548" stroke-width="0.85"/><line x1="334.9" y1="635.1" x2="334.9" y2="647.1" stroke="#5bb548" stroke-width="0.85"/><line x1="333.5" y1="635.1" x2="336.29999999999995" y2="635.1" stroke="#5bb548" stroke-width="0.85"/><line x1="333.5" y1="647.1" x2="336.29999999999995" y2="647.1" stroke="#5bb548" stroke-width="0.85"/><line x1="338.4" y1="633.0" x2="338.4" y2="644.0" stroke="#5bb548" stroke-width="0.85"/><line x1="337.0" y1="633.0" x2="339.79999999999995" y2="633.0" stroke="#5bb548" stroke-width="0.85"/><line x1="337.0" y1="644.0" x2="339.79999999999995" y2="644.0" stroke="#5bb548" stroke-width="0.85"/><line x1="341.8" y1="631" x2="341.8" y2="641" stroke="#5bb548" stroke-width="0.85"/><line x1="340.40000000000003" y1="631" x2="343.2" y2="631" stroke="#5bb548" stroke-width="0.85"/><line x1="340.40000000000003" y1="641" x2="343.2" y2="641" stroke="#5bb548" stroke-width="0.85"/><line x1="345.3" y1="629.7" x2="345.3" y2="638.7" stroke="#5bb548" stroke-width="0.85"/><line x1="343.90000000000003" y1="629.7" x2="346.7" y2="629.7" stroke="#5bb548" stroke-width="0.85"/><line x1="343.90000000000003" y1="638.7" x2="346.7" y2="638.7" stroke="#5bb548" stroke-width="0.85"/><line x1="348.7" y1="628.5" x2="348.7" y2="636.5" stroke="#5bb548" stroke-width="0.85"/><line x1="347.3" y1="628.5" x2="350.09999999999997" y2="628.5" stroke="#5bb548" stroke-width="0.85"/><line x1="347.3" y1="636.5" x2="350.09999999999997" y2="636.5" stroke="#5bb548" stroke-width="0.85"/><line x1="352.2" y1="626.4" x2="352.2" y2="633.4" stroke="#5bb548" stroke-width="0.85"/><line x1="350.8" y1="626.4" x2="353.59999999999997" y2="626.4" stroke="#5bb548" stroke-width="0.85"/><line x1="350.8" y1="633.4" x2="353.59999999999997" y2="633.4" stroke="#5bb548" stroke-width="0.85"/><line x1="356.5" y1="622.6" x2="356.5" y2="628.6" stroke="#5bb548" stroke-width="0.85"/><line x1="355.1" y1="622.6" x2="357.9" y2="622.6" stroke="#5bb548" stroke-width="0.85"/><line x1="355.1" y1="628.6" x2="357.9" y2="628.6" stroke="#5bb548" stroke-width="0.85"/><line x1="359.1" y1="622.7" x2="359.1" y2="626.7" stroke="#5bb548" stroke-width="0.85"/><line x1="357.70000000000005" y1="622.7" x2="360.5" y2="622.7" stroke="#5bb548" stroke-width="0.85"/><line x1="357.70000000000005" y1="626.7" x2="360.5" y2="626.7" stroke="#5bb548" stroke-width="0.85"/><line x1="363.4" y1="622.7" x2="363.4" y2="626.7" stroke="#5bb548" stroke-width="0.85"/><line x1="362.0" y1="622.7" x2="364.79999999999995" y2="622.7" stroke="#5bb548" stroke-width="0.85"/><line x1="362.0" y1="626.7" x2="364.79999999999995" y2="626.7" stroke="#5bb548" stroke-width="0.85"/><line x1="367.8" y1="622.7" x2="367.8" y2="626.7" stroke="#5bb548" stroke-width="0.85"/><line x1="366.40000000000003" y1="622.7" x2="369.2" y2="622.7" stroke="#5bb548" stroke-width="0.85"/><line x1="366.40000000000003" y1="626.7" x2="369.2" y2="626.7" stroke="#5bb548" stroke-width="0.85"/><polyline points="287.30,681.00 290.80,669.70 294.20,667.10 296.80,665.40 300.30,668.80 303.80,669.70 307.20,665.40 310.70,661.00 314.10,656.70 317.60,652.40 321.10,648.90 324.50,646.30 328.00,648.10 331.40,644.60 334.90,641.10 338.40,638.50 341.80,636.00 345.30,634.20 348.70,632.50 352.20,629.90 356.50,625.60 359.10,624.70 363.40,624.70 367.80,624.70" fill="none" stroke="#5bb548" stroke-width="1.3" stroke-linejoin="round"/><rect x="286.40000000000003" y="680.1" width="1.8" height="1.8" fill="#5bb548"/><rect x="289.90000000000003" y="668.8000000000001" width="1.8" height="1.8" fill="#5bb548"/><rect x="293.3" y="666.2" width="1.8" height="1.8" fill="#5bb548"/><rect x="295.90000000000003" y="664.5" width="1.8" height="1.8" fill="#5bb548"/><rect x="299.40000000000003" y="667.9" width="1.8" height="1.8" fill="#5bb548"/><rect x="302.90000000000003" y="668.8000000000001" width="1.8" height="1.8" fill="#5bb548"/><rect x="306.3" y="664.5" width="1.8" height="1.8" fill="#5bb548"/><rect x="309.8" y="660.1" width="1.8" height="1.8" fill="#5bb548"/><rect x="313.20000000000005" y="655.8000000000001" width="1.8" height="1.8" fill="#5bb548"/><rect x="316.70000000000005" y="651.5" width="1.8" height="1.8" fill="#5bb548"/><rect x="320.20000000000005" y="648.0" width="1.8" height="1.8" fill="#5bb548"/><rect x="323.6" y="645.4" width="1.8" height="1.8" fill="#5bb548"/><rect x="327.1" y="647.2" width="1.8" height="1.8" fill="#5bb548"/><rect x="330.5" y="643.7" width="1.8" height="1.8" fill="#5bb548"/><rect x="334.0" y="640.2" width="1.8" height="1.8" fill="#5bb548"/><rect x="337.5" y="637.6" width="1.8" height="1.8" fill="#5bb548"/><rect x="340.90000000000003" y="635.1" width="1.8" height="1.8" fill="#5bb548"/><rect x="344.40000000000003" y="633.3000000000001" width="1.8" height="1.8" fill="#5bb548"/><rect x="347.8" y="631.6" width="1.8" height="1.8" fill="#5bb548"/><rect x="351.3" y="629.0" width="1.8" height="1.8" fill="#5bb548"/><rect x="355.6" y="624.7" width="1.8" height="1.8" fill="#5bb548"/><rect x="358.20000000000005" y="623.8000000000001" width="1.8" height="1.8" fill="#5bb548"/><rect x="362.5" y="623.8000000000001" width="1.8" height="1.8" fill="#5bb548"/><rect x="366.90000000000003" y="623.8000000000001" width="1.8" height="1.8" fill="#5bb548"/><line x1="290.8" y1="669.4" x2="290.8" y2="673.4" stroke="#1f4f86" stroke-width="0.85"/><line x1="289.40000000000003" y1="669.4" x2="292.2" y2="669.4" stroke="#1f4f86" stroke-width="0.85"/><line x1="289.40000000000003" y1="673.4" x2="292.2" y2="673.4" stroke="#1f4f86" stroke-width="0.85"/><line x1="292.5" y1="662.9" x2="292.5" y2="667.9" stroke="#1f4f86" stroke-width="0.85"/><line x1="291.1" y1="662.9" x2="293.9" y2="662.9" stroke="#1f4f86" stroke-width="0.85"/><line x1="291.1" y1="667.9" x2="293.9" y2="667.9" stroke="#1f4f86" stroke-width="0.85"/><line x1="295.1" y1="657.2" x2="295.1" y2="663.2" stroke="#1f4f86" stroke-width="0.85"/><line x1="293.70000000000005" y1="657.2" x2="296.5" y2="657.2" stroke="#1f4f86" stroke-width="0.85"/><line x1="293.70000000000005" y1="663.2" x2="296.5" y2="663.2" stroke="#1f4f86" stroke-width="0.85"/><line x1="296.8" y1="654.4" x2="296.8" y2="662.4" stroke="#1f4f86" stroke-width="0.85"/><line x1="295.40000000000003" y1="654.4" x2="298.2" y2="654.4" stroke="#1f4f86" stroke-width="0.85"/><line x1="295.40000000000003" y1="662.4" x2="298.2" y2="662.4" stroke="#1f4f86" stroke-width="0.85"/><line x1="299.4" y1="662.4" x2="299.4" y2="668.4" stroke="#1f4f86" stroke-width="0.85"/><line x1="298.0" y1="662.4" x2="300.79999999999995" y2="662.4" stroke="#1f4f86" stroke-width="0.85"/><line x1="298.0" y1="668.4" x2="300.79999999999995" y2="668.4" stroke="#1f4f86" stroke-width="0.85"/><line x1="302" y1="664.1" x2="302" y2="670.1" stroke="#1f4f86" stroke-width="0.85"/><line x1="300.6" y1="664.1" x2="303.4" y2="664.1" stroke="#1f4f86" stroke-width="0.85"/><line x1="300.6" y1="670.1" x2="303.4" y2="670.1" stroke="#1f4f86" stroke-width="0.85"/><line x1="304.6" y1="663.2" x2="304.6" y2="669.2" stroke="#1f4f86" stroke-width="0.85"/><line x1="303.20000000000005" y1="663.2" x2="306.0" y2="663.2" stroke="#1f4f86" stroke-width="0.85"/><line x1="303.20000000000005" y1="669.2" x2="306.0" y2="669.2" stroke="#1f4f86" stroke-width="0.85"/><line x1="307.2" y1="660.1" x2="307.2" y2="667.1" stroke="#1f4f86" stroke-width="0.85"/><line x1="305.8" y1="660.1" x2="308.59999999999997" y2="660.1" stroke="#1f4f86" stroke-width="0.85"/><line x1="305.8" y1="667.1" x2="308.59999999999997" y2="667.1" stroke="#1f4f86" stroke-width="0.85"/><line x1="310.7" y1="656.2" x2="310.7" y2="664.2" stroke="#1f4f86" stroke-width="0.85"/><line x1="309.3" y1="656.2" x2="312.09999999999997" y2="656.2" stroke="#1f4f86" stroke-width="0.85"/><line x1="309.3" y1="664.2" x2="312.09999999999997" y2="664.2" stroke="#1f4f86" stroke-width="0.85"/><line x1="313.3" y1="650.8" x2="313.3" y2="660.8" stroke="#1f4f86" stroke-width="0.85"/><line x1="311.90000000000003" y1="650.8" x2="314.7" y2="650.8" stroke="#1f4f86" stroke-width="0.85"/><line x1="311.90000000000003" y1="660.8" x2="314.7" y2="660.8" stroke="#1f4f86" stroke-width="0.85"/><line x1="315.9" y1="646.9" x2="315.9" y2="657.9" stroke="#1f4f86" stroke-width="0.85"/><line x1="314.5" y1="646.9" x2="317.29999999999995" y2="646.9" stroke="#1f4f86" stroke-width="0.85"/><line x1="314.5" y1="657.9" x2="317.29999999999995" y2="657.9" stroke="#1f4f86" stroke-width="0.85"/><line x1="318.5" y1="643.8" x2="318.5" y2="655.8" stroke="#1f4f86" stroke-width="0.85"/><line x1="317.1" y1="643.8" x2="319.9" y2="643.8" stroke="#1f4f86" stroke-width="0.85"/><line x1="317.1" y1="655.8" x2="319.9" y2="655.8" stroke="#1f4f86" stroke-width="0.85"/><line x1="321.1" y1="640.7" x2="321.1" y2="653.7" stroke="#1f4f86" stroke-width="0.85"/><line x1="319.70000000000005" y1="640.7" x2="322.5" y2="640.7" stroke="#1f4f86" stroke-width="0.85"/><line x1="319.70000000000005" y1="653.7" x2="322.5" y2="653.7" stroke="#1f4f86" stroke-width="0.85"/><line x1="323.7" y1="638.5" x2="323.7" y2="652.5" stroke="#1f4f86" stroke-width="0.85"/><line x1="322.3" y1="638.5" x2="325.09999999999997" y2="638.5" stroke="#1f4f86" stroke-width="0.85"/><line x1="322.3" y1="652.5" x2="325.09999999999997" y2="652.5" stroke="#1f4f86" stroke-width="0.85"/><line x1="326.3" y1="643.7" x2="326.3" y2="657.7" stroke="#1f4f86" stroke-width="0.85"/><line x1="324.90000000000003" y1="643.7" x2="327.7" y2="643.7" stroke="#1f4f86" stroke-width="0.85"/><line x1="324.90000000000003" y1="657.7" x2="327.7" y2="657.7" stroke="#1f4f86" stroke-width="0.85"/><line x1="328.8" y1="639.0" x2="328.8" y2="652.0" stroke="#1f4f86" stroke-width="0.85"/><line x1="327.40000000000003" y1="639.0" x2="330.2" y2="639.0" stroke="#1f4f86" stroke-width="0.85"/><line x1="327.40000000000003" y1="652.0" x2="330.2" y2="652.0" stroke="#1f4f86" stroke-width="0.85"/><line x1="331.4" y1="636.9" x2="331.4" y2="648.9" stroke="#1f4f86" stroke-width="0.85"/><line x1="330.0" y1="636.9" x2="332.79999999999995" y2="636.9" stroke="#1f4f86" stroke-width="0.85"/><line x1="330.0" y1="648.9" x2="332.79999999999995" y2="648.9" stroke="#1f4f86" stroke-width="0.85"/><line x1="334.9" y1="634.8" x2="334.9" y2="645.8" stroke="#1f4f86" stroke-width="0.85"/><line x1="333.5" y1="634.8" x2="336.29999999999995" y2="634.8" stroke="#1f4f86" stroke-width="0.85"/><line x1="333.5" y1="645.8" x2="336.29999999999995" y2="645.8" stroke="#1f4f86" stroke-width="0.85"/><line x1="338.4" y1="632.7" x2="338.4" y2="642.7" stroke="#1f4f86" stroke-width="0.85"/><line x1="337.0" y1="632.7" x2="339.79999999999995" y2="632.7" stroke="#1f4f86" stroke-width="0.85"/><line x1="337.0" y1="642.7" x2="339.79999999999995" y2="642.7" stroke="#1f4f86" stroke-width="0.85"/><line x1="341.8" y1="631.5" x2="341.8" y2="640.5" stroke="#1f4f86" stroke-width="0.85"/><line x1="340.40000000000003" y1="631.5" x2="343.2" y2="631.5" stroke="#1f4f86" stroke-width="0.85"/><line x1="340.40000000000003" y1="640.5" x2="343.2" y2="640.5" stroke="#1f4f86" stroke-width="0.85"/><line x1="345.3" y1="631.1" x2="345.3" y2="639.1" stroke="#1f4f86" stroke-width="0.85"/><line x1="343.90000000000003" y1="631.1" x2="346.7" y2="631.1" stroke="#1f4f86" stroke-width="0.85"/><line x1="343.90000000000003" y1="639.1" x2="346.7" y2="639.1" stroke="#1f4f86" stroke-width="0.85"/><line x1="348.7" y1="630.2" x2="348.7" y2="638.2" stroke="#1f4f86" stroke-width="0.85"/><line x1="347.3" y1="630.2" x2="350.09999999999997" y2="630.2" stroke="#1f4f86" stroke-width="0.85"/><line x1="347.3" y1="638.2" x2="350.09999999999997" y2="638.2" stroke="#1f4f86" stroke-width="0.85"/><line x1="352.2" y1="629.9" x2="352.2" y2="636.9" stroke="#1f4f86" stroke-width="0.85"/><line x1="350.8" y1="629.9" x2="353.59999999999997" y2="629.9" stroke="#1f4f86" stroke-width="0.85"/><line x1="350.8" y1="636.9" x2="353.59999999999997" y2="636.9" stroke="#1f4f86" stroke-width="0.85"/><line x1="355.7" y1="629.5" x2="355.7" y2="635.5" stroke="#1f4f86" stroke-width="0.85"/><line x1="354.3" y1="629.5" x2="357.09999999999997" y2="629.5" stroke="#1f4f86" stroke-width="0.85"/><line x1="354.3" y1="635.5" x2="357.09999999999997" y2="635.5" stroke="#1f4f86" stroke-width="0.85"/><line x1="359.1" y1="630.5" x2="359.1" y2="634.5" stroke="#1f4f86" stroke-width="0.85"/><line x1="357.70000000000005" y1="630.5" x2="360.5" y2="630.5" stroke="#1f4f86" stroke-width="0.85"/><line x1="357.70000000000005" y1="634.5" x2="360.5" y2="634.5" stroke="#1f4f86" stroke-width="0.85"/><line x1="364.3" y1="630.5" x2="364.3" y2="634.5" stroke="#1f4f86" stroke-width="0.85"/><line x1="362.90000000000003" y1="630.5" x2="365.7" y2="630.5" stroke="#1f4f86" stroke-width="0.85"/><line x1="362.90000000000003" y1="634.5" x2="365.7" y2="634.5" stroke="#1f4f86" stroke-width="0.85"/><line x1="368.6" y1="630.5" x2="368.6" y2="634.5" stroke="#1f4f86" stroke-width="0.85"/><line x1="367.20000000000005" y1="630.5" x2="370.0" y2="630.5" stroke="#1f4f86" stroke-width="0.85"/><line x1="367.20000000000005" y1="634.5" x2="370.0" y2="634.5" stroke="#1f4f86" stroke-width="0.85"/><polyline points="287.30,681.00 290.80,671.40 292.50,665.40 295.10,660.20 296.80,658.40 299.40,665.40 302.00,667.10 304.60,666.20 307.20,663.60 310.70,660.20 313.30,655.80 315.90,652.40 318.50,649.80 321.10,647.20 323.70,645.50 326.30,650.70 328.80,645.50 331.40,642.90 334.90,640.30 338.40,637.70 341.80,636.00 345.30,635.10 348.70,634.20 352.20,633.40 355.70,632.50 359.10,632.50 364.30,632.50 368.60,632.50" fill="none" stroke="#1f4f86" stroke-width="1.3" stroke-linejoin="round"/><rect x="286.40000000000003" y="680.1" width="1.8" height="1.8" fill="#1f4f86"/><rect x="289.90000000000003" y="670.5" width="1.8" height="1.8" fill="#1f4f86"/><rect x="291.6" y="664.5" width="1.8" height="1.8" fill="#1f4f86"/><rect x="294.20000000000005" y="659.3000000000001" width="1.8" height="1.8" fill="#1f4f86"/><rect x="295.90000000000003" y="657.5" width="1.8" height="1.8" fill="#1f4f86"/><rect x="298.5" y="664.5" width="1.8" height="1.8" fill="#1f4f86"/><rect x="301.1" y="666.2" width="1.8" height="1.8" fill="#1f4f86"/><rect x="303.70000000000005" y="665.3000000000001" width="1.8" height="1.8" fill="#1f4f86"/><rect x="306.3" y="662.7" width="1.8" height="1.8" fill="#1f4f86"/><rect x="309.8" y="659.3000000000001" width="1.8" height="1.8" fill="#1f4f86"/><rect x="312.40000000000003" y="654.9" width="1.8" height="1.8" fill="#1f4f86"/><rect x="315.0" y="651.5" width="1.8" height="1.8" fill="#1f4f86"/><rect x="317.6" y="648.9" width="1.8" height="1.8" fill="#1f4f86"/><rect x="320.20000000000005" y="646.3000000000001" width="1.8" height="1.8" fill="#1f4f86"/><rect x="322.8" y="644.6" width="1.8" height="1.8" fill="#1f4f86"/><rect x="325.40000000000003" y="649.8000000000001" width="1.8" height="1.8" fill="#1f4f86"/><rect x="327.90000000000003" y="644.6" width="1.8" height="1.8" fill="#1f4f86"/><rect x="330.5" y="642.0" width="1.8" height="1.8" fill="#1f4f86"/><rect x="334.0" y="639.4" width="1.8" height="1.8" fill="#1f4f86"/><rect x="337.5" y="636.8000000000001" width="1.8" height="1.8" fill="#1f4f86"/><rect x="340.90000000000003" y="635.1" width="1.8" height="1.8" fill="#1f4f86"/><rect x="344.40000000000003" y="634.2" width="1.8" height="1.8" fill="#1f4f86"/><rect x="347.8" y="633.3000000000001" width="1.8" height="1.8" fill="#1f4f86"/><rect x="351.3" y="632.5" width="1.8" height="1.8" fill="#1f4f86"/><rect x="354.8" y="631.6" width="1.8" height="1.8" fill="#1f4f86"/><rect x="358.20000000000005" y="631.6" width="1.8" height="1.8" fill="#1f4f86"/><rect x="363.40000000000003" y="631.6" width="1.8" height="1.8" fill="#1f4f86"/><rect x="367.70000000000005" y="631.6" width="1.8" height="1.8" fill="#1f4f86"/><text x="304.1" y="632.5" font-size="8.8" fill="#5bb548" text-anchor="start" textLength="14.4" lengthAdjust="spacingAndGlyphs">PBS</text><text x="332.3" y="662.2" font-size="8.8" fill="#1f4f86" text-anchor="start" textLength="26" lengthAdjust="spacingAndGlyphs"><tspan>α</tspan>PD-L1</text><text x="387.4" y="605" font-size="10.5" text-anchor="start" fill="#231f20" font-weight="bold" stroke="#231f20" stroke-width="0.15">N</text><line x1="417.3" y1="616" x2="417.3" y2="681" stroke="#231f20" stroke-width="1"/><line x1="414.90000000000003" y1="618.7" x2="417.3" y2="618.7" stroke="#231f20" stroke-width="0.9"/><text x="412.5" y="621.7" font-size="8.7" text-anchor="end" fill="#231f20" stroke="#231f20" stroke-width="0.15">100</text><line x1="414.90000000000003" y1="631.3" x2="417.3" y2="631.3" stroke="#231f20" stroke-width="0.9"/><text x="412.5" y="634.3" font-size="8.7" text-anchor="end" fill="#231f20" stroke="#231f20" stroke-width="0.15">80</text><line x1="414.90000000000003" y1="643.7" x2="417.3" y2="643.7" stroke="#231f20" stroke-width="0.9"/><text x="412.5" y="646.7" font-size="8.7" text-anchor="end" fill="#231f20" stroke="#231f20" stroke-width="0.15">60</text><line x1="414.90000000000003" y1="656.4" x2="417.3" y2="656.4" stroke="#231f20" stroke-width="0.9"/><text x="412.5" y="659.4" font-size="8.7" text-anchor="end" fill="#231f20" stroke="#231f20" stroke-width="0.15">40</text><line x1="414.90000000000003" y1="668.8" x2="417.3" y2="668.8" stroke="#231f20" stroke-width="0.9"/><text x="412.5" y="671.8" font-size="8.7" text-anchor="end" fill="#231f20" stroke="#231f20" stroke-width="0.15">20</text><line x1="414.90000000000003" y1="680.9" x2="417.3" y2="680.9" stroke="#231f20" stroke-width="0.9"/><text x="412.5" y="683.9" font-size="8.7" text-anchor="end" fill="#231f20" stroke="#231f20" stroke-width="0.15">0</text><line x1="417.3" y1="681" x2="503" y2="681" stroke="#231f20" stroke-width="1"/><line x1="417.3" y1="681" x2="417.3" y2="684" stroke="#231f20" stroke-width="0.9"/><text x="417.3" y="692" font-size="8.7" text-anchor="middle" fill="#231f20" stroke="#231f20" stroke-width="0.15">0</text><line x1="425.68" y1="681" x2="425.68" y2="684" stroke="#231f20" stroke-width="0.9"/><text x="425.68" y="692" font-size="8.7" text-anchor="middle" fill="#231f20" stroke="#231f20" stroke-width="0.15">1</text><line x1="434.06" y1="681" x2="434.06" y2="684" stroke="#231f20" stroke-width="0.9"/><text x="434.06" y="692" font-size="8.7" text-anchor="middle" fill="#231f20" stroke="#231f20" stroke-width="0.15">2</text><line x1="442.44" y1="681" x2="442.44" y2="684" stroke="#231f20" stroke-width="0.9"/><text x="442.44" y="692" font-size="8.7" text-anchor="middle" fill="#231f20" stroke="#231f20" stroke-width="0.15">3</text><line x1="450.82" y1="681" x2="450.82" y2="684" stroke="#231f20" stroke-width="0.9"/><text x="450.82" y="692" font-size="8.7" text-anchor="middle" fill="#231f20" stroke="#231f20" stroke-width="0.15">4</text><line x1="459.20000000000005" y1="681" x2="459.20000000000005" y2="684" stroke="#231f20" stroke-width="0.9"/><text x="459.20000000000005" y="692" font-size="8.7" text-anchor="middle" fill="#231f20" stroke="#231f20" stroke-width="0.15">5</text><line x1="467.58000000000004" y1="681" x2="467.58000000000004" y2="684" stroke="#231f20" stroke-width="0.9"/><text x="467.58000000000004" y="692" font-size="8.7" text-anchor="middle" fill="#231f20" stroke="#231f20" stroke-width="0.15">6</text><line x1="475.96000000000004" y1="681" x2="475.96000000000004" y2="684" stroke="#231f20" stroke-width="0.9"/><text x="475.96000000000004" y="692" font-size="8.7" text-anchor="middle" fill="#231f20" stroke="#231f20" stroke-width="0.15">7</text><line x1="484.34000000000003" y1="681" x2="484.34000000000003" y2="684" stroke="#231f20" stroke-width="0.9"/><text x="484.34000000000003" y="692" font-size="8.7" text-anchor="middle" fill="#231f20" stroke="#231f20" stroke-width="0.15">8</text><line x1="492.72" y1="681" x2="492.72" y2="684" stroke="#231f20" stroke-width="0.9"/><text x="492.72" y="692" font-size="8.7" text-anchor="middle" fill="#231f20" stroke="#231f20" stroke-width="0.15">9</text><line x1="501.1" y1="681" x2="501.1" y2="684" stroke="#231f20" stroke-width="0.9"/><text x="501.1" y="692" font-size="8.7" text-anchor="middle" fill="#231f20" stroke="#231f20" stroke-width="0.15">10</text><text x="458.2" y="704" font-size="10.2" text-anchor="middle" fill="#231f20" textLength="60" lengthAdjust="spacingAndGlyphs" stroke="#231f20" stroke-width="0.15">Weeks after HSCT</text><text x="395.2" y="650" font-size="9.8" text-anchor="middle" fill="#231f20" textLength="41" lengthAdjust="spacingAndGlyphs" transform="rotate(-90 395.2 650)" stroke="#231f20" stroke-width="0.15">Survival (%)</text><polyline points="417.30,618.70 453.30,618.70 453.30,631.30 459.70,631.30 459.70,643.70 474.40,643.70 474.40,656.40 491.70,656.40" fill="none" stroke="#34629a" stroke-width="1.3"/><polyline points="417.30,618.70 455.80,618.70 455.80,631.30 467.40,631.30 467.40,643.70 474.00,643.70 474.00,656.40 489.90,656.40 489.90,668.80 491.70,668.80" fill="none" stroke="#5ea866" stroke-width="1.3" opacity="0.8"/><text x="460.2" y="627.3" font-size="8.8" fill="#5ea866" text-anchor="start" textLength="14.2" lengthAdjust="spacingAndGlyphs">PBS</text><text x="427.3" y="644.6" font-size="8.8" fill="#34629a" text-anchor="start" textLength="26" lengthAdjust="spacingAndGlyphs"><tspan>α</tspan>PD-L1</text><rect x="0.5" y="0.5" width="519" height="713" fill="none" stroke="#555" stroke-width="1"/><line x1="519.4" y1="0" x2="519.4" y2="714" stroke="#333" stroke-width="1.2"/><line x1="0" y1="713.5" x2="520" y2="713.5" stroke="#3a3a3a" stroke-width="1"/></svg></body></html>
